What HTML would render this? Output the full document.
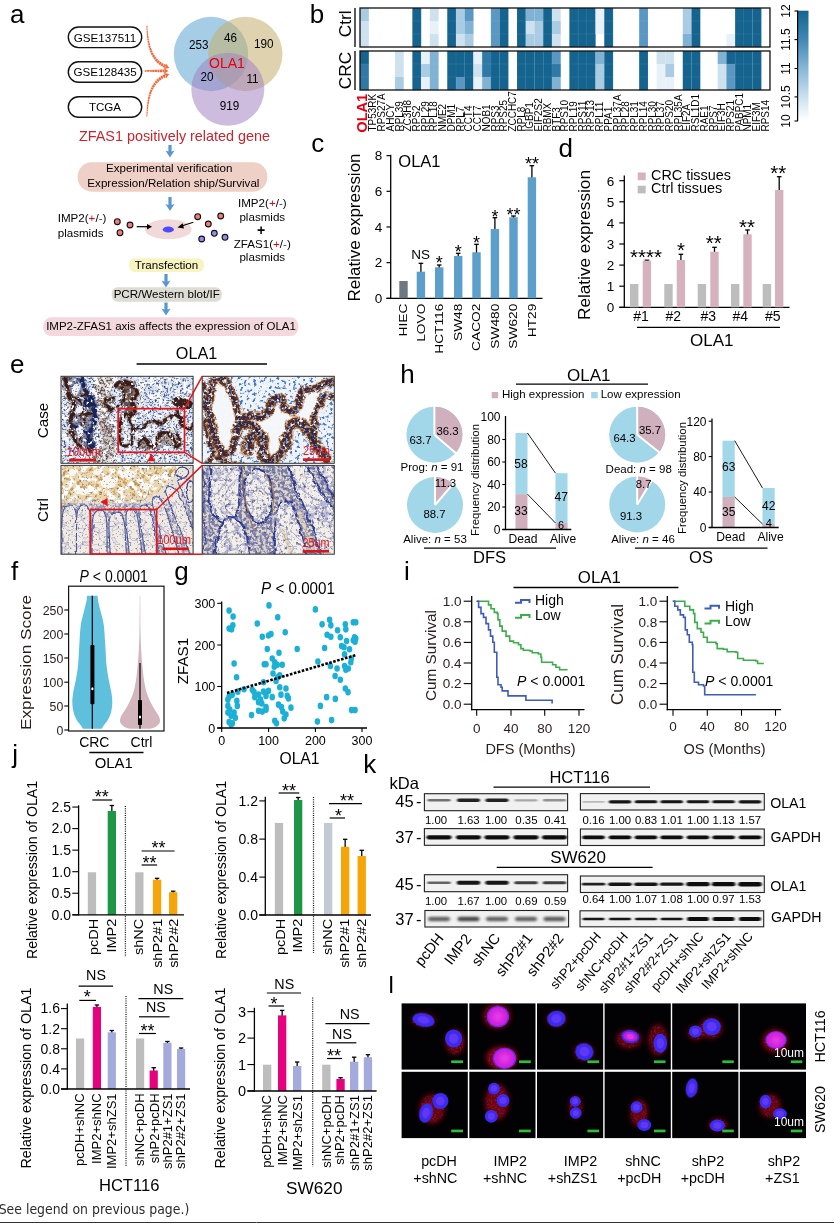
<!DOCTYPE html>
<html lang="en"><head><meta charset="utf-8"><title>Figure</title>
<style>
html,body{margin:0;padding:0;background:#fff;}
body{width:834px;height:1230px;overflow:hidden;}
svg{display:block;}
svg text{font-family:"Liberation Sans", Arial, sans-serif;}
</style></head><body>
<svg width="834" height="1230" viewBox="0 0 834 1230">
<rect width="834" height="1230" fill="#fff"/>
<g opacity="0.999">
<!-- panel a -->
<text x="9.90" y="23.00" font-size="26">a</text>
<rect x="68.30" y="27.00" width="73.40" height="20.60" fill="#fff" stroke="#111" stroke-width="1.4" rx="10.3" />
<text x="105.00" y="41.50" font-size="11.6" text-anchor="middle">GSE137511</text>
<rect x="68.30" y="61.70" width="73.40" height="20.60" fill="#fff" stroke="#111" stroke-width="1.4" rx="10.3" />
<text x="105.00" y="76.20" font-size="11.6" text-anchor="middle">GSE128435</text>
<rect x="68.30" y="96.70" width="73.40" height="20.60" fill="#fff" stroke="#111" stroke-width="1.4" rx="10.3" />
<text x="105.00" y="111.20" font-size="11.6" text-anchor="middle">TCGA</text>
<path d="M146.40 25.31 L146.46 28.23 L146.58 31.04 L146.74 33.73 L146.96 36.32 L147.24 38.80 L147.57 41.18 L147.96 43.45 L148.41 45.63 L148.93 47.72 L149.51 49.71 L150.16 51.60 L150.88 53.41 L151.67 55.13 L152.53 56.76 L153.48 58.30 L154.50 59.76 L155.60 61.13 L156.79 62.42 L158.06 63.63 L159.41 64.75 L160.85 65.78 L162.37 66.73 L163.98 67.59 L165.67 68.38 L166.93 65.22 L165.38 64.60 L163.90 63.92 L162.50 63.16 L161.17 62.32 L159.92 61.40 L158.72 60.40 L157.60 59.32 L156.53 58.14 L155.53 56.88 L154.58 55.51 L153.70 54.05 L152.87 52.49 L152.11 50.83 L151.40 49.06 L150.75 47.18 L150.16 45.20 L149.62 43.10 L149.14 40.90 L148.72 38.58 L148.35 36.15 L148.04 33.61 L147.77 30.95 L147.56 28.18 L147.40 25.29 Z" fill="#F26A3C" />
<path d="M146.9 25.3 C147.6 49 153 61.5 166.3 66.8" fill="none" stroke="#fff" stroke-width="4.5" stroke-dasharray="0.42 2.1"/>
<path d="M169.27 67.98 L163.80 69.03 L166.11 66.73 L166.02 63.46 Z" fill="#F26A3C" />
<path d="M147.40 117.01 L147.56 114.09 L147.77 111.28 L148.04 108.59 L148.35 106.02 L148.72 103.57 L149.14 101.23 L149.62 99.00 L150.16 96.89 L150.75 94.89 L151.40 93.00 L152.11 91.22 L152.88 89.54 L153.70 87.97 L154.59 86.51 L155.53 85.14 L156.53 83.87 L157.60 82.69 L158.73 81.60 L159.92 80.60 L161.18 79.68 L162.50 78.84 L163.90 78.08 L165.38 77.40 L166.93 76.78 L165.67 73.62 L163.98 74.41 L162.37 75.27 L160.85 76.22 L159.41 77.26 L158.06 78.38 L156.79 79.58 L155.60 80.87 L154.50 82.25 L153.47 83.72 L152.53 85.27 L151.67 86.90 L150.87 88.63 L150.16 90.45 L149.51 92.36 L148.93 94.36 L148.41 96.46 L147.96 98.65 L147.57 100.95 L147.24 103.35 L146.96 105.86 L146.74 108.47 L146.58 111.20 L146.46 114.03 L146.40 116.99 Z" fill="#F26A3C" />
<path d="M146.9 117 C147.6 93 153 80.5 166.3 75.2" fill="none" stroke="#fff" stroke-width="4.5" stroke-dasharray="0.42 2.1"/>
<path d="M169.27 74.02 L166.02 78.54 L166.11 75.27 L163.80 72.97 Z" fill="#F26A3C" />
<path d="M144.40 71.60 L145.11 71.63 L145.85 71.67 L146.61 71.70 L147.39 71.73 L148.18 71.77 L149.00 71.80 L149.83 71.83 L150.68 71.87 L151.54 71.90 L152.42 71.93 L153.30 71.97 L154.20 72.00 L155.10 72.03 L156.01 72.07 L156.93 72.10 L157.85 72.13 L158.78 72.17 L159.70 72.20 L160.62 72.23 L161.55 72.27 L162.47 72.30 L163.39 72.33 L164.30 72.37 L165.20 72.40 L165.20 69.40 L164.30 69.43 L163.39 69.47 L162.47 69.50 L161.55 69.53 L160.62 69.57 L159.70 69.60 L158.78 69.63 L157.85 69.67 L156.93 69.70 L156.01 69.73 L155.10 69.77 L154.20 69.80 L153.30 69.83 L152.42 69.87 L151.54 69.90 L150.68 69.93 L149.83 69.97 L149.00 70.00 L148.18 70.03 L147.39 70.07 L146.61 70.10 L145.85 70.13 L145.11 70.17 L144.40 70.20 Z" fill="#F26A3C" />
<path d="M144.4 70.9 C150 70.9 158 70.9 165.2 70.9" fill="none" stroke="#fff" stroke-width="4.5" stroke-dasharray="0.42 2.1"/>
<path d="M168.40 70.90 L163.70 73.90 L165.00 70.90 L163.70 67.90 Z" fill="#F26A3C" />
<g>
<circle cx="211.00" cy="54.00" r="37.20" fill="#5EA5D0" fill-opacity="0.56"/>
<circle cx="245.30" cy="54.00" r="37.20" fill="#C6B070" fill-opacity="0.56"/>
<circle cx="227.80" cy="89.30" r="36.50" fill="#A07FBF" fill-opacity="0.52"/>
</g>
<text font-size="13" transform="translate(198.70 48.70) scale(0.9 1)" text-anchor="middle">253</text>
<text font-size="13" transform="translate(230.50 41.70) scale(0.9 1)" text-anchor="middle">46</text>
<text font-size="13" transform="translate(263.70 48.00) scale(0.9 1)" text-anchor="middle">190</text>
<text x="227.00" y="68.00" font-size="14" text-anchor="middle" fill="#E60012">OLA1</text>
<text font-size="13" transform="translate(207.00 81.00) scale(0.9 1)" text-anchor="middle">20</text>
<text font-size="13" transform="translate(252.50 82.50) scale(0.9 1)" text-anchor="middle">11</text>
<text font-size="13" transform="translate(229.50 110.00) scale(0.9 1)" text-anchor="middle">919</text>
<text x="174.50" y="140.70" font-size="14.4" text-anchor="middle" fill="#C9252D">ZFAS1 positively related gene</text>
<path d="M168.4 145 L171.6 145 L171.6 151.5 L174.6 150.5 L170 157.5 L165.4 150.5 L168.4 151.5 Z" fill="#5B97CF" />
<rect x="77.70" y="162.30" width="189.60" height="29.40" fill="#EFD0C6" rx="14" />
<text x="169.20" y="171.90" font-size="11.6" text-anchor="middle">Experimental verification</text>
<text x="173.40" y="186.80" font-size="11.6" text-anchor="middle">Expression/Relation ship/Survival</text>
<path d="M168.4 197 L171.6 197 L171.6 205 L174.6 204 L170 211 L165.4 204 L168.4 205 Z" fill="#5B97CF" />
<text x="57.70" y="222.00" font-size="11.6">IMP2(<tspan fill="#E60012">+</tspan>/<tspan fill="#2233DD">-</tspan>)</text>
<text x="57.70" y="236.70" font-size="11.6">plasmids</text>
<circle cx="117.30" cy="221.70" r="2.90" fill="#F07C7C" stroke="#111" stroke-width="1.1" />
<circle cx="130.00" cy="225.00" r="2.90" fill="#F07C7C" stroke="#111" stroke-width="1.1" />
<circle cx="120.00" cy="232.70" r="2.90" fill="#F07C7C" stroke="#111" stroke-width="1.1" />
<ellipse cx="168.30" cy="229.30" rx="23.30" ry="10.00" fill="#F1D8D9" />
<line x1="136.70" y1="226.70" x2="149.00" y2="226.70" stroke="#000" stroke-width="1.2" />
<path d="M147 224 L152 226.7 L147 229.4 Z" fill="#000" />
<ellipse cx="168.30" cy="229.50" rx="5.60" ry="3.00" fill="#4B4BFA" />
<line x1="193.30" y1="222.30" x2="181.50" y2="226.00" stroke="#000" stroke-width="1.2" />
<path d="M182.6 223.2 L177.5 227.4 L184.0 228.4 Z" fill="#000" />
<circle cx="197.70" cy="216.70" r="2.90" fill="#F07C7C" stroke="#111" stroke-width="1.1" />
<circle cx="220.70" cy="216.00" r="2.90" fill="#F07C7C" stroke="#111" stroke-width="1.1" />
<circle cx="208.30" cy="224.00" r="2.90" fill="#F07C7C" stroke="#111" stroke-width="1.1" />
<circle cx="201.70" cy="239.00" r="2.90" fill="#8F8FE8" stroke="#111" stroke-width="1.1" />
<circle cx="214.30" cy="233.30" r="2.90" fill="#8F8FE8" stroke="#111" stroke-width="1.1" />
<circle cx="225.00" cy="237.30" r="2.90" fill="#8F8FE8" stroke="#111" stroke-width="1.1" />
<text x="262.30" y="207.30" font-size="11.6" text-anchor="middle">IMP2(<tspan fill="#E60012">+</tspan>/<tspan fill="#2233DD">-</tspan>)</text>
<text x="262.30" y="221.00" font-size="11.6" text-anchor="middle">plasmids</text>
<text x="261.00" y="234.50" font-size="14" text-anchor="middle" font-weight="bold">+</text>
<text x="262.30" y="247.70" font-size="11.6" text-anchor="middle">ZFAS1(<tspan fill="#E60012">+</tspan>/<tspan fill="#2233DD">-</tspan>)</text>
<text x="262.30" y="260.70" font-size="11.6" text-anchor="middle">plasmids</text>
<rect x="129.00" y="258.30" width="75.00" height="13.60" fill="#F7F4C2" rx="6" />
<text x="166.50" y="268.60" font-size="11.6" text-anchor="middle">Transfection</text>
<path d="M164.4 274 L167.6 274 L167.6 281.5 L170.6 280.5 L166 287.5 L161.4 280.5 L164.4 281.5 Z" fill="#5B97CF" />
<rect x="111.70" y="287.30" width="110.00" height="14.40" fill="#DDDDD5" rx="6" />
<text x="166.70" y="297.90" font-size="11.6" text-anchor="middle">PCR/Western blot/IF</text>
<path d="M164.4 302.5 L167.6 302.5 L167.6 309.5 L170.6 308.5 L166 315.5 L161.4 308.5 L164.4 309.5 Z" fill="#5B97CF" />
<rect x="43.30" y="317.30" width="255.00" height="18.70" fill="#F3D9DD" rx="8" />
<text x="171.00" y="329.60" font-size="11.5" text-anchor="middle">IMP2-ZFAS1 axis affects the expression of OLA1</text>
<!-- panel b -->
<text x="309.80" y="22.70" font-size="26">b</text>
<rect x="360.00" y="8.00" width="8.87" height="13.15" fill="#A9CCE3" />
<rect x="360.00" y="21.00" width="8.87" height="13.15" fill="#CDE1EF" />
<rect x="360.00" y="34.00" width="8.87" height="13.15" fill="#CDE1EF" />
<rect x="360.00" y="51.00" width="8.87" height="13.15" fill="#15648F" />
<rect x="360.00" y="64.00" width="8.87" height="13.15" fill="#2F79A8" />
<rect x="360.00" y="77.00" width="8.87" height="13.15" fill="#2F79A8" />
<rect x="394.89" y="51.00" width="8.87" height="13.15" fill="#CDE1EF" />
<rect x="394.89" y="64.00" width="8.87" height="13.15" fill="#CDE1EF" />
<rect x="394.89" y="77.00" width="8.87" height="13.15" fill="#A9CCE3" />
<rect x="412.34" y="8.00" width="8.87" height="13.15" fill="#15648F" />
<rect x="412.34" y="21.00" width="8.87" height="13.15" fill="#15648F" />
<rect x="412.34" y="34.00" width="8.87" height="13.15" fill="#15648F" />
<rect x="412.34" y="51.00" width="8.87" height="13.15" fill="#15648F" />
<rect x="412.34" y="64.00" width="8.87" height="13.15" fill="#15648F" />
<rect x="412.34" y="77.00" width="8.87" height="13.15" fill="#15648F" />
<rect x="421.06" y="51.00" width="8.87" height="13.15" fill="#E8F1F8" />
<rect x="421.06" y="64.00" width="8.87" height="13.15" fill="#A9CCE3" />
<rect x="421.06" y="77.00" width="8.87" height="13.15" fill="#E8F1F8" />
<rect x="429.78" y="8.00" width="8.87" height="13.15" fill="#CDE1EF" />
<rect x="429.78" y="21.00" width="8.87" height="13.15" fill="#E8F1F8" />
<rect x="429.78" y="34.00" width="8.87" height="13.15" fill="#CDE1EF" />
<rect x="429.78" y="51.00" width="8.87" height="13.15" fill="#80B2D4" />
<rect x="429.78" y="64.00" width="8.87" height="13.15" fill="#80B2D4" />
<rect x="429.78" y="77.00" width="8.87" height="13.15" fill="#80B2D4" />
<rect x="447.23" y="8.00" width="8.87" height="13.15" fill="#15648F" />
<rect x="447.23" y="21.00" width="8.87" height="13.15" fill="#15648F" />
<rect x="447.23" y="34.00" width="8.87" height="13.15" fill="#15648F" />
<rect x="447.23" y="51.00" width="8.87" height="13.15" fill="#15648F" />
<rect x="447.23" y="64.00" width="8.87" height="13.15" fill="#15648F" />
<rect x="447.23" y="77.00" width="8.87" height="13.15" fill="#15648F" />
<rect x="455.95" y="8.00" width="8.87" height="13.15" fill="#A9CCE3" />
<rect x="455.95" y="21.00" width="8.87" height="13.15" fill="#A9CCE3" />
<rect x="455.95" y="34.00" width="8.87" height="13.15" fill="#CDE1EF" />
<rect x="455.95" y="51.00" width="8.87" height="13.15" fill="#15648F" />
<rect x="455.95" y="64.00" width="8.87" height="13.15" fill="#15648F" />
<rect x="455.95" y="77.00" width="8.87" height="13.15" fill="#5A98C3" />
<rect x="464.68" y="8.00" width="8.87" height="13.15" fill="#5A98C3" />
<rect x="464.68" y="21.00" width="8.87" height="13.15" fill="#80B2D4" />
<rect x="464.68" y="34.00" width="8.87" height="13.15" fill="#A9CCE3" />
<rect x="464.68" y="51.00" width="8.87" height="13.15" fill="#15648F" />
<rect x="464.68" y="64.00" width="8.87" height="13.15" fill="#15648F" />
<rect x="464.68" y="77.00" width="8.87" height="13.15" fill="#15648F" />
<rect x="473.40" y="51.00" width="8.87" height="13.15" fill="#E8F1F8" />
<rect x="473.40" y="64.00" width="8.87" height="13.15" fill="#CDE1EF" />
<rect x="473.40" y="77.00" width="8.87" height="13.15" fill="#E8F1F8" />
<rect x="482.12" y="51.00" width="8.87" height="13.15" fill="#2F79A8" />
<rect x="482.12" y="64.00" width="8.87" height="13.15" fill="#2F79A8" />
<rect x="482.12" y="77.00" width="8.87" height="13.15" fill="#80B2D4" />
<rect x="490.85" y="8.00" width="8.87" height="13.15" fill="#5A98C3" />
<rect x="490.85" y="21.00" width="8.87" height="13.15" fill="#5A98C3" />
<rect x="490.85" y="34.00" width="8.87" height="13.15" fill="#5A98C3" />
<rect x="490.85" y="51.00" width="8.87" height="13.15" fill="#15648F" />
<rect x="490.85" y="64.00" width="8.87" height="13.15" fill="#15648F" />
<rect x="490.85" y="77.00" width="8.87" height="13.15" fill="#15648F" />
<rect x="499.57" y="8.00" width="8.87" height="13.15" fill="#15648F" />
<rect x="499.57" y="21.00" width="8.87" height="13.15" fill="#15648F" />
<rect x="499.57" y="34.00" width="8.87" height="13.15" fill="#15648F" />
<rect x="499.57" y="51.00" width="8.87" height="13.15" fill="#15648F" />
<rect x="499.57" y="64.00" width="8.87" height="13.15" fill="#15648F" />
<rect x="499.57" y="77.00" width="8.87" height="13.15" fill="#15648F" />
<rect x="517.01" y="8.00" width="8.87" height="13.15" fill="#15648F" />
<rect x="517.01" y="21.00" width="8.87" height="13.15" fill="#15648F" />
<rect x="517.01" y="34.00" width="8.87" height="13.15" fill="#15648F" />
<rect x="517.01" y="51.00" width="8.87" height="13.15" fill="#15648F" />
<rect x="517.01" y="64.00" width="8.87" height="13.15" fill="#15648F" />
<rect x="517.01" y="77.00" width="8.87" height="13.15" fill="#15648F" />
<rect x="525.74" y="8.00" width="8.87" height="13.15" fill="#80B2D4" />
<rect x="525.74" y="21.00" width="8.87" height="13.15" fill="#CDE1EF" />
<rect x="525.74" y="34.00" width="8.87" height="13.15" fill="#A9CCE3" />
<rect x="525.74" y="51.00" width="8.87" height="13.15" fill="#15648F" />
<rect x="525.74" y="64.00" width="8.87" height="13.15" fill="#15648F" />
<rect x="525.74" y="77.00" width="8.87" height="13.15" fill="#15648F" />
<rect x="534.46" y="8.00" width="8.87" height="13.15" fill="#80B2D4" />
<rect x="534.46" y="21.00" width="8.87" height="13.15" fill="#A9CCE3" />
<rect x="534.46" y="34.00" width="8.87" height="13.15" fill="#A9CCE3" />
<rect x="534.46" y="51.00" width="8.87" height="13.15" fill="#15648F" />
<rect x="534.46" y="64.00" width="8.87" height="13.15" fill="#15648F" />
<rect x="534.46" y="77.00" width="8.87" height="13.15" fill="#15648F" />
<rect x="543.18" y="8.00" width="8.87" height="13.15" fill="#15648F" />
<rect x="543.18" y="21.00" width="8.87" height="13.15" fill="#15648F" />
<rect x="543.18" y="34.00" width="8.87" height="13.15" fill="#15648F" />
<rect x="543.18" y="51.00" width="8.87" height="13.15" fill="#15648F" />
<rect x="543.18" y="64.00" width="8.87" height="13.15" fill="#15648F" />
<rect x="543.18" y="77.00" width="8.87" height="13.15" fill="#15648F" />
<rect x="551.91" y="8.00" width="8.87" height="13.15" fill="#CDE1EF" />
<rect x="551.91" y="21.00" width="8.87" height="13.15" fill="#A9CCE3" />
<rect x="551.91" y="34.00" width="8.87" height="13.15" fill="#CDE1EF" />
<rect x="551.91" y="51.00" width="8.87" height="13.15" fill="#5A98C3" />
<rect x="551.91" y="64.00" width="8.87" height="13.15" fill="#2F79A8" />
<rect x="551.91" y="77.00" width="8.87" height="13.15" fill="#80B2D4" />
<rect x="569.35" y="8.00" width="8.87" height="13.15" fill="#15648F" />
<rect x="569.35" y="21.00" width="8.87" height="13.15" fill="#15648F" />
<rect x="569.35" y="34.00" width="8.87" height="13.15" fill="#15648F" />
<rect x="569.35" y="51.00" width="8.87" height="13.15" fill="#15648F" />
<rect x="569.35" y="64.00" width="8.87" height="13.15" fill="#15648F" />
<rect x="569.35" y="77.00" width="8.87" height="13.15" fill="#15648F" />
<rect x="578.08" y="8.00" width="8.87" height="13.15" fill="#15648F" />
<rect x="578.08" y="21.00" width="8.87" height="13.15" fill="#15648F" />
<rect x="578.08" y="34.00" width="8.87" height="13.15" fill="#15648F" />
<rect x="578.08" y="51.00" width="8.87" height="13.15" fill="#15648F" />
<rect x="578.08" y="64.00" width="8.87" height="13.15" fill="#15648F" />
<rect x="578.08" y="77.00" width="8.87" height="13.15" fill="#15648F" />
<rect x="586.80" y="8.00" width="8.87" height="13.15" fill="#15648F" />
<rect x="586.80" y="21.00" width="8.87" height="13.15" fill="#15648F" />
<rect x="586.80" y="34.00" width="8.87" height="13.15" fill="#15648F" />
<rect x="586.80" y="51.00" width="8.87" height="13.15" fill="#15648F" />
<rect x="586.80" y="64.00" width="8.87" height="13.15" fill="#15648F" />
<rect x="586.80" y="77.00" width="8.87" height="13.15" fill="#15648F" />
<rect x="595.52" y="8.00" width="8.87" height="13.15" fill="#E8F1F8" />
<rect x="595.52" y="21.00" width="8.87" height="13.15" fill="#E8F1F8" />
<rect x="595.52" y="51.00" width="8.87" height="13.15" fill="#80B2D4" />
<rect x="595.52" y="64.00" width="8.87" height="13.15" fill="#A9CCE3" />
<rect x="595.52" y="77.00" width="8.87" height="13.15" fill="#A9CCE3" />
<rect x="604.24" y="8.00" width="8.87" height="13.15" fill="#15648F" />
<rect x="604.24" y="21.00" width="8.87" height="13.15" fill="#15648F" />
<rect x="604.24" y="34.00" width="8.87" height="13.15" fill="#15648F" />
<rect x="604.24" y="51.00" width="8.87" height="13.15" fill="#15648F" />
<rect x="604.24" y="64.00" width="8.87" height="13.15" fill="#15648F" />
<rect x="604.24" y="77.00" width="8.87" height="13.15" fill="#15648F" />
<rect x="639.14" y="8.00" width="8.87" height="13.15" fill="#5A98C3" />
<rect x="639.14" y="21.00" width="8.87" height="13.15" fill="#5A98C3" />
<rect x="639.14" y="34.00" width="8.87" height="13.15" fill="#5A98C3" />
<rect x="639.14" y="51.00" width="8.87" height="13.15" fill="#15648F" />
<rect x="639.14" y="64.00" width="8.87" height="13.15" fill="#15648F" />
<rect x="639.14" y="77.00" width="8.87" height="13.15" fill="#15648F" />
<rect x="656.58" y="51.00" width="8.87" height="13.15" fill="#CDE1EF" />
<rect x="656.58" y="64.00" width="8.87" height="13.15" fill="#E8F1F8" />
<rect x="656.58" y="77.00" width="8.87" height="13.15" fill="#E8F1F8" />
<rect x="665.31" y="51.00" width="8.87" height="13.15" fill="#CDE1EF" />
<rect x="665.31" y="64.00" width="8.87" height="13.15" fill="#A9CCE3" />
<rect x="665.31" y="77.00" width="8.87" height="13.15" fill="#E8F1F8" />
<rect x="682.75" y="8.00" width="8.87" height="13.15" fill="#A9CCE3" />
<rect x="682.75" y="21.00" width="8.87" height="13.15" fill="#A9CCE3" />
<rect x="682.75" y="34.00" width="8.87" height="13.15" fill="#80B2D4" />
<rect x="682.75" y="51.00" width="8.87" height="13.15" fill="#15648F" />
<rect x="682.75" y="64.00" width="8.87" height="13.15" fill="#15648F" />
<rect x="682.75" y="77.00" width="8.87" height="13.15" fill="#15648F" />
<rect x="691.47" y="8.00" width="8.87" height="13.15" fill="#15648F" />
<rect x="691.47" y="21.00" width="8.87" height="13.15" fill="#15648F" />
<rect x="691.47" y="34.00" width="8.87" height="13.15" fill="#15648F" />
<rect x="691.47" y="51.00" width="8.87" height="13.15" fill="#15648F" />
<rect x="691.47" y="64.00" width="8.87" height="13.15" fill="#15648F" />
<rect x="691.47" y="77.00" width="8.87" height="13.15" fill="#15648F" />
<rect x="717.64" y="51.00" width="8.87" height="13.15" fill="#80B2D4" />
<rect x="717.64" y="64.00" width="8.87" height="13.15" fill="#CDE1EF" />
<rect x="717.64" y="77.00" width="8.87" height="13.15" fill="#CDE1EF" />
<rect x="726.37" y="34.00" width="8.87" height="13.15" fill="#E8F1F8" />
<rect x="726.37" y="51.00" width="8.87" height="13.15" fill="#15648F" />
<rect x="726.37" y="64.00" width="8.87" height="13.15" fill="#5A98C3" />
<rect x="726.37" y="77.00" width="8.87" height="13.15" fill="#5A98C3" />
<rect x="735.09" y="8.00" width="8.87" height="13.15" fill="#15648F" />
<rect x="735.09" y="21.00" width="8.87" height="13.15" fill="#15648F" />
<rect x="735.09" y="34.00" width="8.87" height="13.15" fill="#15648F" />
<rect x="735.09" y="51.00" width="8.87" height="13.15" fill="#15648F" />
<rect x="735.09" y="64.00" width="8.87" height="13.15" fill="#15648F" />
<rect x="735.09" y="77.00" width="8.87" height="13.15" fill="#15648F" />
<rect x="743.81" y="8.00" width="8.87" height="13.15" fill="#15648F" />
<rect x="743.81" y="21.00" width="8.87" height="13.15" fill="#15648F" />
<rect x="743.81" y="34.00" width="8.87" height="13.15" fill="#15648F" />
<rect x="743.81" y="51.00" width="8.87" height="13.15" fill="#15648F" />
<rect x="743.81" y="64.00" width="8.87" height="13.15" fill="#15648F" />
<rect x="743.81" y="77.00" width="8.87" height="13.15" fill="#15648F" />
<rect x="752.54" y="8.00" width="8.87" height="13.15" fill="#15648F" />
<rect x="752.54" y="21.00" width="8.87" height="13.15" fill="#15648F" />
<rect x="752.54" y="34.00" width="8.87" height="13.15" fill="#15648F" />
<rect x="752.54" y="51.00" width="8.87" height="13.15" fill="#15648F" />
<rect x="752.54" y="64.00" width="8.87" height="13.15" fill="#15648F" />
<rect x="752.54" y="77.00" width="8.87" height="13.15" fill="#15648F" />
<line x1="368.72" y1="8.00" x2="368.72" y2="90.00" stroke="#fff" stroke-width="0.35" opacity="0.16"/>
<line x1="377.45" y1="8.00" x2="377.45" y2="90.00" stroke="#fff" stroke-width="0.35" opacity="0.16"/>
<line x1="386.17" y1="8.00" x2="386.17" y2="90.00" stroke="#fff" stroke-width="0.35" opacity="0.16"/>
<line x1="394.89" y1="8.00" x2="394.89" y2="90.00" stroke="#fff" stroke-width="0.35" opacity="0.16"/>
<line x1="403.62" y1="8.00" x2="403.62" y2="90.00" stroke="#fff" stroke-width="0.35" opacity="0.16"/>
<line x1="412.34" y1="8.00" x2="412.34" y2="90.00" stroke="#fff" stroke-width="0.35" opacity="0.16"/>
<line x1="421.06" y1="8.00" x2="421.06" y2="90.00" stroke="#fff" stroke-width="0.35" opacity="0.16"/>
<line x1="429.78" y1="8.00" x2="429.78" y2="90.00" stroke="#fff" stroke-width="0.35" opacity="0.16"/>
<line x1="438.51" y1="8.00" x2="438.51" y2="90.00" stroke="#fff" stroke-width="0.35" opacity="0.16"/>
<line x1="447.23" y1="8.00" x2="447.23" y2="90.00" stroke="#fff" stroke-width="0.35" opacity="0.16"/>
<line x1="455.95" y1="8.00" x2="455.95" y2="90.00" stroke="#fff" stroke-width="0.35" opacity="0.16"/>
<line x1="464.68" y1="8.00" x2="464.68" y2="90.00" stroke="#fff" stroke-width="0.35" opacity="0.16"/>
<line x1="473.40" y1="8.00" x2="473.40" y2="90.00" stroke="#fff" stroke-width="0.35" opacity="0.16"/>
<line x1="482.12" y1="8.00" x2="482.12" y2="90.00" stroke="#fff" stroke-width="0.35" opacity="0.16"/>
<line x1="490.85" y1="8.00" x2="490.85" y2="90.00" stroke="#fff" stroke-width="0.35" opacity="0.16"/>
<line x1="499.57" y1="8.00" x2="499.57" y2="90.00" stroke="#fff" stroke-width="0.35" opacity="0.16"/>
<line x1="508.29" y1="8.00" x2="508.29" y2="90.00" stroke="#fff" stroke-width="0.35" opacity="0.16"/>
<line x1="517.01" y1="8.00" x2="517.01" y2="90.00" stroke="#fff" stroke-width="0.35" opacity="0.16"/>
<line x1="525.74" y1="8.00" x2="525.74" y2="90.00" stroke="#fff" stroke-width="0.35" opacity="0.16"/>
<line x1="534.46" y1="8.00" x2="534.46" y2="90.00" stroke="#fff" stroke-width="0.35" opacity="0.16"/>
<line x1="543.18" y1="8.00" x2="543.18" y2="90.00" stroke="#fff" stroke-width="0.35" opacity="0.16"/>
<line x1="551.91" y1="8.00" x2="551.91" y2="90.00" stroke="#fff" stroke-width="0.35" opacity="0.16"/>
<line x1="560.63" y1="8.00" x2="560.63" y2="90.00" stroke="#fff" stroke-width="0.35" opacity="0.16"/>
<line x1="569.35" y1="8.00" x2="569.35" y2="90.00" stroke="#fff" stroke-width="0.35" opacity="0.16"/>
<line x1="578.08" y1="8.00" x2="578.08" y2="90.00" stroke="#fff" stroke-width="0.35" opacity="0.16"/>
<line x1="586.80" y1="8.00" x2="586.80" y2="90.00" stroke="#fff" stroke-width="0.35" opacity="0.16"/>
<line x1="595.52" y1="8.00" x2="595.52" y2="90.00" stroke="#fff" stroke-width="0.35" opacity="0.16"/>
<line x1="604.24" y1="8.00" x2="604.24" y2="90.00" stroke="#fff" stroke-width="0.35" opacity="0.16"/>
<line x1="612.97" y1="8.00" x2="612.97" y2="90.00" stroke="#fff" stroke-width="0.35" opacity="0.16"/>
<line x1="621.69" y1="8.00" x2="621.69" y2="90.00" stroke="#fff" stroke-width="0.35" opacity="0.16"/>
<line x1="630.41" y1="8.00" x2="630.41" y2="90.00" stroke="#fff" stroke-width="0.35" opacity="0.16"/>
<line x1="639.14" y1="8.00" x2="639.14" y2="90.00" stroke="#fff" stroke-width="0.35" opacity="0.16"/>
<line x1="647.86" y1="8.00" x2="647.86" y2="90.00" stroke="#fff" stroke-width="0.35" opacity="0.16"/>
<line x1="656.58" y1="8.00" x2="656.58" y2="90.00" stroke="#fff" stroke-width="0.35" opacity="0.16"/>
<line x1="665.31" y1="8.00" x2="665.31" y2="90.00" stroke="#fff" stroke-width="0.35" opacity="0.16"/>
<line x1="674.03" y1="8.00" x2="674.03" y2="90.00" stroke="#fff" stroke-width="0.35" opacity="0.16"/>
<line x1="682.75" y1="8.00" x2="682.75" y2="90.00" stroke="#fff" stroke-width="0.35" opacity="0.16"/>
<line x1="691.47" y1="8.00" x2="691.47" y2="90.00" stroke="#fff" stroke-width="0.35" opacity="0.16"/>
<line x1="700.20" y1="8.00" x2="700.20" y2="90.00" stroke="#fff" stroke-width="0.35" opacity="0.16"/>
<line x1="708.92" y1="8.00" x2="708.92" y2="90.00" stroke="#fff" stroke-width="0.35" opacity="0.16"/>
<line x1="717.64" y1="8.00" x2="717.64" y2="90.00" stroke="#fff" stroke-width="0.35" opacity="0.16"/>
<line x1="726.37" y1="8.00" x2="726.37" y2="90.00" stroke="#fff" stroke-width="0.35" opacity="0.16"/>
<line x1="735.09" y1="8.00" x2="735.09" y2="90.00" stroke="#fff" stroke-width="0.35" opacity="0.16"/>
<line x1="743.81" y1="8.00" x2="743.81" y2="90.00" stroke="#fff" stroke-width="0.35" opacity="0.16"/>
<line x1="752.54" y1="8.00" x2="752.54" y2="90.00" stroke="#fff" stroke-width="0.35" opacity="0.16"/>
<line x1="761.26" y1="8.00" x2="761.26" y2="90.00" stroke="#fff" stroke-width="0.35" opacity="0.16"/>
<line x1="360.00" y1="21.00" x2="769.98" y2="21.00" stroke="#fff" stroke-width="0.35" opacity="0.16"/>
<line x1="360.00" y1="34.00" x2="769.98" y2="34.00" stroke="#fff" stroke-width="0.35" opacity="0.16"/>
<line x1="360.00" y1="64.00" x2="769.98" y2="64.00" stroke="#fff" stroke-width="0.35" opacity="0.16"/>
<line x1="360.00" y1="77.00" x2="769.98" y2="77.00" stroke="#fff" stroke-width="0.35" opacity="0.16"/>
<rect x="360.00" y="8.00" width="409.98" height="39.00" fill="none" stroke="#111" stroke-width="1.3" />
<rect x="360.00" y="51.00" width="409.98" height="39.00" fill="none" stroke="#111" stroke-width="1.3" />
<line x1="355.00" y1="8.00" x2="355.00" y2="47.00" stroke="#000" stroke-width="1.3" />
<line x1="355.00" y1="51.00" x2="355.00" y2="90.00" stroke="#000" stroke-width="1.3" />
<text x="351.00" y="23.90" font-size="17.2" transform="rotate(-90 351.00 23.90)" text-anchor="middle">Ctrl</text>
<text x="351.00" y="70.50" font-size="17.2" transform="rotate(-90 351.00 70.50)" text-anchor="middle">CRC</text>
<text x="367.30" y="93.80" font-size="14.6" transform="rotate(-90 367.30 93.80)" text-anchor="end" fill="#E60012" font-weight="bold">OLA1</text>
<text font-size="10.6" transform="translate(376.38 131.50) rotate(-90) scale(0.94 1)">TP53RK</text>
<text font-size="10.6" transform="translate(385.11 131.50) rotate(-90) scale(0.94 1)">RPS27A</text>
<text font-size="10.6" transform="translate(393.83 131.50) rotate(-90) scale(0.94 1)">AHCY</text>
<text font-size="10.6" transform="translate(402.55 131.50) rotate(-90) scale(0.94 1)">RPL39</text>
<text font-size="10.6" transform="translate(411.28 131.50) rotate(-90) scale(0.94 1)">ZC3H8</text>
<text font-size="10.6" transform="translate(420.00 131.50) rotate(-90) scale(0.94 1)">RPS2</text>
<text font-size="10.6" transform="translate(428.72 131.50) rotate(-90) scale(0.94 1)">RPL29</text>
<text font-size="10.6" transform="translate(437.45 131.50) rotate(-90) scale(0.94 1)">RPL18</text>
<text font-size="10.6" transform="translate(446.17 131.50) rotate(-90) scale(0.94 1)">NME2</text>
<text font-size="10.6" transform="translate(454.89 131.50) rotate(-90) scale(0.94 1)">DPM1</text>
<text font-size="10.6" transform="translate(463.61 131.50) rotate(-90) scale(0.94 1)">RPL7</text>
<text font-size="10.6" transform="translate(472.34 131.50) rotate(-90) scale(0.94 1)">CCT4</text>
<text font-size="10.6" transform="translate(481.06 131.50) rotate(-90) scale(0.94 1)">CCT7</text>
<text font-size="10.6" transform="translate(489.78 131.50) rotate(-90) scale(0.94 1)">NOB1</text>
<text font-size="10.6" transform="translate(498.51 131.50) rotate(-90) scale(0.94 1)">RPS3</text>
<text font-size="10.6" transform="translate(507.23 131.50) rotate(-90) scale(0.94 1)">RPS25</text>
<text font-size="10.6" transform="translate(515.95 131.50) rotate(-90) scale(0.94 1)">ZCCHC7</text>
<text font-size="10.6" transform="translate(524.68 131.50) rotate(-90) scale(0.94 1)">RPL8</text>
<text font-size="10.6" transform="translate(533.40 131.50) rotate(-90) scale(0.94 1)">IGBP1</text>
<text font-size="10.6" transform="translate(542.12 131.50) rotate(-90) scale(0.94 1)">EIF2S2</text>
<text font-size="10.6" transform="translate(550.84 131.50) rotate(-90) scale(0.94 1)">RBMX</text>
<text font-size="10.6" transform="translate(559.57 131.50) rotate(-90) scale(0.94 1)">BTF3</text>
<text font-size="10.6" transform="translate(568.29 131.50) rotate(-90) scale(0.94 1)">RPS10</text>
<text font-size="10.6" transform="translate(577.01 131.50) rotate(-90) scale(0.94 1)">RPL19</text>
<text font-size="10.6" transform="translate(585.74 131.50) rotate(-90) scale(0.94 1)">RPS11</text>
<text font-size="10.6" transform="translate(594.46 131.50) rotate(-90) scale(0.94 1)">RPS13</text>
<text font-size="10.6" transform="translate(603.18 131.50) rotate(-90) scale(0.94 1)">RPL11</text>
<text font-size="10.6" transform="translate(611.91 131.50) rotate(-90) scale(0.94 1)">PPA1</text>
<text font-size="10.6" transform="translate(620.63 131.50) rotate(-90) scale(0.94 1)">RPL37A</text>
<text font-size="10.6" transform="translate(629.35 131.50) rotate(-90) scale(0.94 1)">RPL28</text>
<text font-size="10.6" transform="translate(638.07 131.50) rotate(-90) scale(0.94 1)">RPL31</text>
<text font-size="10.6" transform="translate(646.80 131.50) rotate(-90) scale(0.94 1)">RPL14</text>
<text font-size="10.6" transform="translate(655.52 131.50) rotate(-90) scale(0.94 1)">RPL30</text>
<text font-size="10.6" transform="translate(664.24 131.50) rotate(-90) scale(0.94 1)">RPL37</text>
<text font-size="10.6" transform="translate(672.97 131.50) rotate(-90) scale(0.94 1)">RPS20</text>
<text font-size="10.6" transform="translate(681.69 131.50) rotate(-90) scale(0.94 1)">RPL35A</text>
<text font-size="10.6" transform="translate(690.41 131.50) rotate(-90) scale(0.94 1)">EIF2A</text>
<text font-size="10.6" transform="translate(699.14 131.50) rotate(-90) scale(0.94 1)">RSL1D1</text>
<text font-size="10.6" transform="translate(707.86 131.50) rotate(-90) scale(0.94 1)">RAE1</text>
<text font-size="10.6" transform="translate(716.58 131.50) rotate(-90) scale(0.94 1)">RPS7</text>
<text font-size="10.6" transform="translate(725.30 131.50) rotate(-90) scale(0.94 1)">EIF3H</text>
<text font-size="10.6" transform="translate(734.03 131.50) rotate(-90) scale(0.94 1)">RPS21</text>
<text font-size="10.6" transform="translate(742.75 131.50) rotate(-90) scale(0.94 1)">PABPC1</text>
<text font-size="10.6" transform="translate(751.47 131.50) rotate(-90) scale(0.94 1)">NPM1</text>
<text font-size="10.6" transform="translate(760.20 131.50) rotate(-90) scale(0.94 1)">EIF3M</text>
<text font-size="10.6" transform="translate(768.92 131.50) rotate(-90) scale(0.94 1)">RPS14</text>
<defs><linearGradient id="cb" x1="0" y1="0" x2="0" y2="1"><stop offset="0" stop-color="#15648F"/><stop offset="0.25" stop-color="#3F86B3"/><stop offset="0.55" stop-color="#8DBBDA"/><stop offset="0.85" stop-color="#DCEAF4"/><stop offset="1" stop-color="#FFFFFF"/></linearGradient></defs>
<rect x="798.00" y="10.70" width="10.50" height="110.00" fill="url(#cb)" />
<line x1="797.60" y1="10.50" x2="797.60" y2="121.30" stroke="#000" stroke-width="1.2" />
<line x1="794.50" y1="11.00" x2="797.60" y2="11.00" stroke="#000" stroke-width="1.1" />
<text x="790.30" y="11.00" font-size="12" transform="rotate(-90 790.30 11.00)" text-anchor="middle">12</text>
<line x1="794.50" y1="39.60" x2="797.60" y2="39.60" stroke="#000" stroke-width="1.1" />
<text x="790.30" y="39.60" font-size="12" transform="rotate(-90 790.30 39.60)" text-anchor="middle">11.5</text>
<line x1="794.50" y1="68.50" x2="797.60" y2="68.50" stroke="#000" stroke-width="1.1" />
<text x="790.30" y="68.50" font-size="12" transform="rotate(-90 790.30 68.50)" text-anchor="middle">11</text>
<line x1="794.50" y1="96.90" x2="797.60" y2="96.90" stroke="#000" stroke-width="1.1" />
<text x="790.30" y="96.90" font-size="12" transform="rotate(-90 790.30 96.90)" text-anchor="middle">10.5</text>
<line x1="794.50" y1="121.00" x2="797.60" y2="121.00" stroke="#000" stroke-width="1.1" />
<text x="790.30" y="121.00" font-size="12" transform="rotate(-90 790.30 121.00)" text-anchor="middle">10</text>
<!-- panel c -->
<text x="311.30" y="152.00" font-size="26">c</text>
<line x1="390.70" y1="154.80" x2="390.70" y2="298.90" stroke="#000" stroke-width="1.3" />
<line x1="386.50" y1="298.30" x2="542.50" y2="298.30" stroke="#000" stroke-width="1.3" />
<line x1="386.50" y1="298.30" x2="390.70" y2="298.30" stroke="#000" stroke-width="1.2" />
<text x="382.30" y="303.10" font-size="13.5" text-anchor="end">0</text>
<line x1="386.50" y1="262.64" x2="390.70" y2="262.64" stroke="#000" stroke-width="1.2" />
<text x="382.30" y="267.44" font-size="13.5" text-anchor="end">2</text>
<line x1="386.50" y1="226.98" x2="390.70" y2="226.98" stroke="#000" stroke-width="1.2" />
<text x="382.30" y="231.78" font-size="13.5" text-anchor="end">4</text>
<line x1="386.50" y1="191.32" x2="390.70" y2="191.32" stroke="#000" stroke-width="1.2" />
<text x="382.30" y="196.12" font-size="13.5" text-anchor="end">6</text>
<line x1="386.50" y1="155.66" x2="390.70" y2="155.66" stroke="#000" stroke-width="1.2" />
<text x="382.30" y="160.46" font-size="13.5" text-anchor="end">8</text>
<text x="360.00" y="227.50" font-size="16.5" transform="rotate(-90 360.00 227.50)" text-anchor="middle" textLength="148" lengthAdjust="spacingAndGlyphs">Relative expression</text>
<text x="398.30" y="167.30" font-size="16.5">OLA1</text>
<rect x="399.30" y="281.00" width="8.40" height="17.30" fill="#6E7784" />
<text font-size="11" transform="translate(407.40 303.60) rotate(-90) scale(1.25 1)" text-anchor="end">HIEC</text>
<line x1="420.90" y1="272.70" x2="420.90" y2="263.30" stroke="#000" stroke-width="1.3" />
<line x1="418.60" y1="263.30" x2="423.20" y2="263.30" stroke="#000" stroke-width="1.3" />
<rect x="416.70" y="271.70" width="8.40" height="26.60" fill="#5C9FCB" />
<text font-size="11" transform="translate(424.80 303.60) rotate(-90) scale(1.25 1)" text-anchor="end">LOVO</text>
<line x1="439.20" y1="268.30" x2="439.20" y2="265.00" stroke="#000" stroke-width="1.3" />
<line x1="436.90" y1="265.00" x2="441.50" y2="265.00" stroke="#000" stroke-width="1.3" />
<rect x="435.00" y="267.30" width="8.40" height="31.00" fill="#5C9FCB" />
<text font-size="11" transform="translate(443.10 303.60) rotate(-90) scale(1.25 1)" text-anchor="end">HCT116</text>
<line x1="458.20" y1="257.00" x2="458.20" y2="253.30" stroke="#000" stroke-width="1.3" />
<line x1="455.90" y1="253.30" x2="460.50" y2="253.30" stroke="#000" stroke-width="1.3" />
<rect x="454.00" y="256.00" width="8.40" height="42.30" fill="#5C9FCB" />
<text font-size="11" transform="translate(462.10 303.60) rotate(-90) scale(1.25 1)" text-anchor="end">SW48</text>
<line x1="476.50" y1="253.30" x2="476.50" y2="244.30" stroke="#000" stroke-width="1.3" />
<line x1="474.20" y1="244.30" x2="478.80" y2="244.30" stroke="#000" stroke-width="1.3" />
<rect x="472.30" y="252.30" width="8.40" height="46.00" fill="#5C9FCB" />
<text font-size="11" transform="translate(480.40 303.60) rotate(-90) scale(1.25 1)" text-anchor="end">CACO2</text>
<line x1="494.90" y1="230.00" x2="494.90" y2="217.70" stroke="#000" stroke-width="1.3" />
<line x1="492.60" y1="217.70" x2="497.20" y2="217.70" stroke="#000" stroke-width="1.3" />
<rect x="490.70" y="229.00" width="8.40" height="69.30" fill="#5C9FCB" />
<text font-size="11" transform="translate(498.80 303.60) rotate(-90) scale(1.25 1)" text-anchor="end">SW480</text>
<line x1="513.50" y1="218.30" x2="513.50" y2="216.00" stroke="#000" stroke-width="1.3" />
<line x1="511.20" y1="216.00" x2="515.80" y2="216.00" stroke="#000" stroke-width="1.3" />
<rect x="509.30" y="217.30" width="8.40" height="81.00" fill="#5C9FCB" />
<text font-size="11" transform="translate(517.40 303.60) rotate(-90) scale(1.25 1)" text-anchor="end">SW620</text>
<line x1="531.90" y1="178.30" x2="531.90" y2="165.70" stroke="#000" stroke-width="1.3" />
<line x1="529.60" y1="165.70" x2="534.20" y2="165.70" stroke="#000" stroke-width="1.3" />
<rect x="527.70" y="177.30" width="8.40" height="121.00" fill="#5C9FCB" />
<text font-size="11" transform="translate(535.80 303.60) rotate(-90) scale(1.25 1)" text-anchor="end">HT29</text>
<text x="420.70" y="259.00" font-size="13.5" text-anchor="middle">NS</text>
<text x="439.20" y="269.44" font-size="18" text-anchor="middle">*</text>
<text x="458.20" y="258.44" font-size="18" text-anchor="middle">*</text>
<text x="476.50" y="249.14" font-size="18" text-anchor="middle">*</text>
<text x="495.00" y="223.44" font-size="18" text-anchor="middle">*</text>
<text x="513.50" y="220.74" font-size="18" text-anchor="middle">**</text>
<text x="532.00" y="169.64" font-size="18" text-anchor="middle">**</text>
<!-- panel d -->
<text x="558.40" y="157.00" font-size="26">d</text>
<line x1="624.30" y1="175.50" x2="624.30" y2="307.90" stroke="#000" stroke-width="1.3" />
<line x1="619.30" y1="307.30" x2="789.50" y2="307.30" stroke="#000" stroke-width="1.3" />
<line x1="619.30" y1="307.30" x2="624.30" y2="307.30" stroke="#000" stroke-width="1.2" />
<text x="614.30" y="312.10" font-size="13.5" text-anchor="end">0</text>
<line x1="619.30" y1="286.20" x2="624.30" y2="286.20" stroke="#000" stroke-width="1.2" />
<text x="614.30" y="291.00" font-size="13.5" text-anchor="end">1</text>
<line x1="619.30" y1="265.10" x2="624.30" y2="265.10" stroke="#000" stroke-width="1.2" />
<text x="614.30" y="269.90" font-size="13.5" text-anchor="end">2</text>
<line x1="619.30" y1="244.00" x2="624.30" y2="244.00" stroke="#000" stroke-width="1.2" />
<text x="614.30" y="248.80" font-size="13.5" text-anchor="end">3</text>
<line x1="619.30" y1="222.90" x2="624.30" y2="222.90" stroke="#000" stroke-width="1.2" />
<text x="614.30" y="227.70" font-size="13.5" text-anchor="end">4</text>
<line x1="619.30" y1="201.80" x2="624.30" y2="201.80" stroke="#000" stroke-width="1.2" />
<text x="614.30" y="206.60" font-size="13.5" text-anchor="end">5</text>
<line x1="619.30" y1="180.70" x2="624.30" y2="180.70" stroke="#000" stroke-width="1.2" />
<text x="614.30" y="185.50" font-size="13.5" text-anchor="end">6</text>
<text x="589.50" y="245.00" font-size="16.5" transform="rotate(-90 589.50 245.00)" text-anchor="middle" textLength="150" lengthAdjust="spacingAndGlyphs">Relative expression</text>
<rect x="637.70" y="172.50" width="8.00" height="7.70" fill="#D6B2BE" />
<text x="651.00" y="180.20" font-size="14.4">CRC tissues</text>
<rect x="637.70" y="185.70" width="8.00" height="7.70" fill="#BDBDBD" />
<text x="651.00" y="193.40" font-size="14.4">Ctrl tissues</text>
<rect x="630.00" y="284.00" width="8.40" height="23.30" fill="#BDBDBD" />
<line x1="646.90" y1="261.70" x2="646.90" y2="260.20" stroke="#000" stroke-width="1.3" />
<line x1="644.60" y1="260.20" x2="649.20" y2="260.20" stroke="#000" stroke-width="1.3" />
<rect x="642.70" y="260.70" width="8.40" height="46.60" fill="#D6B2BE" />
<rect x="664.30" y="284.00" width="8.40" height="23.30" fill="#BDBDBD" />
<line x1="680.90" y1="261.00" x2="680.90" y2="254.30" stroke="#000" stroke-width="1.3" />
<line x1="678.60" y1="254.30" x2="683.20" y2="254.30" stroke="#000" stroke-width="1.3" />
<rect x="676.70" y="260.00" width="8.40" height="47.30" fill="#D6B2BE" />
<rect x="697.70" y="284.00" width="8.40" height="23.30" fill="#BDBDBD" />
<line x1="714.50" y1="252.70" x2="714.50" y2="247.30" stroke="#000" stroke-width="1.3" />
<line x1="712.20" y1="247.30" x2="716.80" y2="247.30" stroke="#000" stroke-width="1.3" />
<rect x="710.30" y="251.70" width="8.40" height="55.60" fill="#D6B2BE" />
<rect x="731.00" y="284.00" width="8.40" height="23.30" fill="#BDBDBD" />
<line x1="747.50" y1="235.30" x2="747.50" y2="230.00" stroke="#000" stroke-width="1.3" />
<line x1="745.20" y1="230.00" x2="749.80" y2="230.00" stroke="#000" stroke-width="1.3" />
<rect x="743.30" y="234.30" width="8.40" height="73.00" fill="#D6B2BE" />
<rect x="762.70" y="284.00" width="8.40" height="23.30" fill="#BDBDBD" />
<line x1="779.20" y1="191.00" x2="779.20" y2="176.70" stroke="#000" stroke-width="1.3" />
<line x1="776.90" y1="176.70" x2="781.50" y2="176.70" stroke="#000" stroke-width="1.3" />
<rect x="775.00" y="190.00" width="8.40" height="117.30" fill="#D6B2BE" />
<text x="646.00" y="264.26" font-size="20.5" text-anchor="middle">****</text>
<text x="681.00" y="256.96" font-size="20.5" text-anchor="middle">*</text>
<text x="713.70" y="250.16" font-size="20.5" text-anchor="middle">**</text>
<text x="747.00" y="234.27" font-size="20.5" text-anchor="middle">**</text>
<text x="778.30" y="180.47" font-size="20.5" text-anchor="middle">**</text>
<text x="641.00" y="321.00" font-size="14" text-anchor="middle">#1</text>
<text x="673.30" y="321.00" font-size="14" text-anchor="middle">#2</text>
<text x="708.30" y="321.00" font-size="14" text-anchor="middle">#3</text>
<text x="740.30" y="321.00" font-size="14" text-anchor="middle">#4</text>
<text x="772.70" y="321.00" font-size="14" text-anchor="middle">#5</text>
<line x1="637.00" y1="327.30" x2="780.00" y2="327.30" stroke="#000" stroke-width="1.3" />
<text x="711.80" y="345.70" font-size="17" text-anchor="middle">OLA1</text>
<!-- panel e -->
<text x="10.00" y="372.60" font-size="26">e</text>
<text x="196.50" y="358.60" font-size="16.2" text-anchor="middle">OLA1</text>
<line x1="136.60" y1="364.00" x2="267.00" y2="364.00" stroke="#000" stroke-width="1.3" />
<text x="47.80" y="420.50" font-size="15.3" transform="rotate(-90 47.80 420.50)" text-anchor="middle">Case</text>
<text x="47.80" y="510.00" font-size="15.3" transform="rotate(-90 47.80 510.00)" text-anchor="middle">Ctrl</text>
<defs>
<clipPath id="ec0"><rect x="61" y="376.3" width="132.1" height="87.0"/></clipPath>
<clipPath id="ec1"><rect x="202.2" y="376.3" width="132.1" height="87.0"/></clipPath>
<clipPath id="ec2"><rect x="61" y="465.4" width="132.1" height="88.8"/></clipPath>
<clipPath id="ec3"><rect x="202.2" y="465.4" width="132.1" height="88.8"/></clipPath>
<filter id="eBlue" x="0" y="0" width="100%" height="100%" color-interpolation-filters="sRGB"><feTurbulence type="fractalNoise" baseFrequency="0.42" numOctaves="2" seed="3" result="n"/><feColorMatrix in="n" type="matrix" values="0 0 0 0 0.247 0 0 0 0 0.384 0 0 0 0 0.690 7 0 0 0 -4.2" result="c"/><feComposite in="c" in2="SourceAlpha" operator="in"/></filter>
<filter id="eBlue2" x="0" y="0" width="100%" height="100%" color-interpolation-filters="sRGB"><feTurbulence type="fractalNoise" baseFrequency="0.3" numOctaves="2" seed="11" result="n"/><feColorMatrix in="n" type="matrix" values="0 0 0 0 0.231 0 0 0 0 0.471 0 0 0 0 0.800 9 0 0 0 -5.0" result="c"/><feComposite in="c" in2="SourceAlpha" operator="in"/></filter>
<filter id="eNavy" x="0" y="0" width="100%" height="100%" color-interpolation-filters="sRGB"><feTurbulence type="fractalNoise" baseFrequency="0.5" numOctaves="2" seed="7" result="n"/><feColorMatrix in="n" type="matrix" values="0 0 0 0 0.106 0 0 0 0 0.165 0 0 0 0 0.400 8 0 0 0 -5.0" result="c"/><feComposite in="c" in2="SourceAlpha" operator="in"/></filter>
<filter id="eNavyD" x="0" y="0" width="100%" height="100%" color-interpolation-filters="sRGB"><feTurbulence type="fractalNoise" baseFrequency="0.45" numOctaves="2" seed="5" result="n"/><feColorMatrix in="n" type="matrix" values="0 0 0 0 0.078 0 0 0 0 0.106 0 0 0 0 0.271 7 0 0 0 -3.9" result="c"/><feComposite in="c" in2="SourceAlpha" operator="in"/></filter>
<filter id="eBrown" x="0" y="0" width="100%" height="100%" color-interpolation-filters="sRGB"><feTurbulence type="fractalNoise" baseFrequency="0.38" numOctaves="2" seed="9" result="n"/><feColorMatrix in="n" type="matrix" values="0 0 0 0 0.541 0 0 0 0 0.369 0 0 0 0 0.243 7 0 0 0 -3.6" result="c"/><feComposite in="c" in2="SourceAlpha" operator="in"/></filter>
<filter id="eBrownL" x="0" y="0" width="100%" height="100%" color-interpolation-filters="sRGB"><feTurbulence type="fractalNoise" baseFrequency="0.22" numOctaves="2" seed="13" result="n"/><feColorMatrix in="n" type="matrix" values="0 0 0 0 0.788 0 0 0 0 0.608 0 0 0 0 0.322 7 0 0 0 -3.7" result="c"/><feComposite in="c" in2="SourceAlpha" operator="in"/></filter>
<filter id="eWhite" x="0" y="0" width="100%" height="100%" color-interpolation-filters="sRGB"><feTurbulence type="fractalNoise" baseFrequency="0.16" numOctaves="2" seed="21" result="n"/><feColorMatrix in="n" type="matrix" values="0 0 0 0 1.000 0 0 0 0 1.000 0 0 0 0 1.000 9 0 0 0 -4.4" result="c"/><feComposite in="c" in2="SourceAlpha" operator="in"/></filter>
<filter id="eWhite2" x="0" y="0" width="100%" height="100%" color-interpolation-filters="sRGB"><feTurbulence type="fractalNoise" baseFrequency="0.35" numOctaves="2" seed="4" result="n"/><feColorMatrix in="n" type="matrix" values="0 0 0 0 0.992 0 0 0 0 0.984 0 0 0 0 0.965 7 0 0 0 -3.6" result="c"/><feComposite in="c" in2="SourceAlpha" operator="in"/></filter>
<filter id="eStroma" x="0" y="0" width="100%" height="100%" color-interpolation-filters="sRGB"><feTurbulence type="fractalNoise" baseFrequency="0.33" numOctaves="2" seed="23" result="n"/><feColorMatrix in="n" type="matrix" values="0 0 0 0 0.169 0 0 0 0 0.231 0 0 0 0 0.557 7 0 0 0 -3.1" result="c"/><feComposite in="c" in2="SourceAlpha" operator="in"/></filter>
<filter id="eCell" x="0" y="0" width="100%" height="100%" color-interpolation-filters="sRGB"><feTurbulence type="turbulence" baseFrequency="0.13" numOctaves="1" seed="17" result="n"/><feColorMatrix in="n" type="matrix" values="0 0 0 0 0.424 0 0 0 0 0.447 0 0 0 0 0.722 -14 0 0 0 1.15" result="c"/><feComposite in="c" in2="SourceAlpha" operator="in"/></filter>
<filter id="eCell2" x="0" y="0" width="100%" height="100%" color-interpolation-filters="sRGB"><feTurbulence type="turbulence" baseFrequency="0.075" numOctaves="1" seed="19" result="n"/><feColorMatrix in="n" type="matrix" values="0 0 0 0 0.353 0 0 0 0 0.388 0 0 0 0 0.690 -16 0 0 0 1.2" result="c"/><feComposite in="c" in2="SourceAlpha" operator="in"/></filter>
<filter id="eSoft" x="0" y="0" width="100%" height="100%"><feGaussianBlur stdDeviation="0.45"/></filter>
<filter id="eR1" x="-5%" y="-5%" width="110%" height="110%" color-interpolation-filters="sRGB"><feTurbulence type="fractalNoise" baseFrequency="0.13" numOctaves="2" seed="2" result="n"/><feDisplacementMap in="SourceGraphic" in2="n" scale="6" xChannelSelector="R" yChannelSelector="G" result="d"/><feTurbulence type="fractalNoise" baseFrequency="0.28" numOctaves="2" seed="33" result="n2"/><feColorMatrix in="n2" type="matrix" values="0 0 0 0 1 0 0 0 0 1 0 0 0 0 1 7 0 0 0 -2.3" result="h"/><feComposite in="d" in2="h" operator="in"/><feGaussianBlur stdDeviation="0.35"/></filter>
<filter id="eR2" x="-5%" y="-5%" width="110%" height="110%" color-interpolation-filters="sRGB"><feTurbulence type="fractalNoise" baseFrequency="0.09" numOctaves="2" seed="8" result="n"/><feDisplacementMap in="SourceGraphic" in2="n" scale="7" xChannelSelector="R" yChannelSelector="G" result="d"/><feTurbulence type="fractalNoise" baseFrequency="0.3" numOctaves="2" seed="39" result="n2"/><feColorMatrix in="n2" type="matrix" values="0 0 0 0 1 0 0 0 0 1 0 0 0 0 1 7 0 0 0 -1.9" result="h"/><feComposite in="d" in2="h" operator="in"/><feGaussianBlur stdDeviation="0.3"/></filter>
<filter id="eR3" x="-5%" y="-5%" width="110%" height="110%"><feTurbulence type="fractalNoise" baseFrequency="0.16" numOctaves="2" seed="5" result="n"/><feDisplacementMap in="SourceGraphic" in2="n" scale="3" xChannelSelector="R" yChannelSelector="G"/></filter>
</defs>
<g clip-path="url(#ec0)"><g filter="url(#eSoft)">
<rect x="61.00" y="376.30" width="132.10" height="87.00" fill="#DCE5EF" />
<rect x="61.00" y="376.30" width="132.10" height="87.00" fill="#000" filter="url(#eBlue)"/>
<path d="M96.6 376.4 C99.8 371.9 111.4 371.3 113.4 376.4 C115.4 381.4 108.1 396.5 108.4 406.6 C108.6 416.6 114.2 427.3 115.1 436.8 C115.9 446.3 117.0 459.2 113.4 463.6 C109.8 468.1 95.5 469.0 93.3 463.6 C91.0 458.3 99.8 441.8 100.0 431.8 C100.1 421.7 94.7 412.4 94.1 403.2 C93.5 394.0 93.4 380.8 96.6 376.4 Z" fill="#C9B6A6" opacity="0.55"/>
<path d="M96.6 376.4 C99.8 371.9 111.4 371.3 113.4 376.4 C115.4 381.4 108.1 396.5 108.4 406.6 C108.6 416.6 114.2 427.3 115.1 436.8 C115.9 446.3 117.0 459.2 113.4 463.6 C109.8 468.1 95.5 469.0 93.3 463.6 C91.0 458.3 99.8 441.8 100.0 431.8 C100.1 421.7 94.7 412.4 94.1 403.2 C93.5 394.0 93.4 380.8 96.6 376.4 Z" fill="#000" filter="url(#eBrown)"/>
<rect x="61.00" y="376.30" width="132.10" height="87.00" fill="#000" filter="url(#eNavy)" opacity="0.8"/>
<rect x="61.00" y="376.30" width="132.10" height="87.00" fill="#000" filter="url(#eWhite)" opacity="0.9"/>
<g filter="url(#eR1)">
<path d="M65.6 378.9 C67.8 376.6 76.7 375.4 81.5 379.7 C86.3 384.1 92.0 397.9 94.1 404.9 C96.2 411.9 94.5 414.7 94.1 421.7 C93.7 428.7 93.4 442.7 91.6 446.9 C89.8 451.1 86.1 448.3 83.2 446.9 C80.2 445.5 76.0 442.4 73.9 438.5 C71.8 434.6 70.7 428.7 70.6 423.4 C70.5 418.0 73.5 411.6 73.1 406.6 C72.7 401.5 69.3 397.8 68.1 393.1 C66.8 388.5 63.3 381.1 65.6 378.9 Z" fill="#2A2346" opacity="0.5"/>
<path d="M115.9 385.6 C116.3 383.8 122.2 382.0 125.1 382.2 C128.1 382.5 131.6 385.2 133.5 387.3 C135.5 389.4 137.2 392.7 136.9 394.8 C136.6 396.9 132.3 397.5 131.9 399.9 C131.4 402.2 134.8 406.3 134.4 409.1 C134.0 411.9 131.0 417.1 129.3 416.6 C127.7 416.2 125.4 410.5 124.3 406.6 C123.2 402.7 124.0 396.6 122.6 393.1 C121.2 389.6 115.5 387.4 115.9 385.6 Z" fill="#4A2514" opacity="0.7"/>
<path d="M138.6 446.9 C137.3 445.0 139.7 440.4 141.1 439.3 C142.5 438.2 145.3 438.9 147.0 440.1 C148.6 441.4 149.5 446.6 151.2 446.9 C152.8 447.1 155.4 444.1 157.0 441.8 C158.6 439.6 159.1 435.1 160.7 433.4 C162.4 431.8 165.1 430.9 167.1 431.8 C169.2 432.6 171.5 435.7 173.0 438.5 C174.5 441.3 177.3 447.7 176.3 448.5 C175.4 449.4 170.1 443.5 167.1 443.5 C164.2 443.5 161.8 447.4 158.7 448.5 C155.6 449.7 152.0 450.5 148.6 450.2 C145.3 449.9 139.8 448.7 138.6 446.9 Z" fill="#5A3018" opacity="0.45"/>
</g>
<g filter="url(#eR1)" opacity="0.55">
<path d="M65.6 378.9 C66.0 381.3 66.8 388.5 68.1 393.1 C69.3 397.8 72.7 401.5 73.1 406.6 C73.5 411.6 70.5 418.0 70.6 423.4 C70.7 428.7 71.8 434.6 73.9 438.5 C76.0 442.4 80.5 444.6 83.2 446.9 C85.8 449.1 88.8 451.1 89.9 451.9" fill="none" stroke="#8A5A3A" stroke-width="6.21" stroke-linecap="round"/>
<path d="M81.5 379.7 C82.3 381.7 84.4 387.3 86.5 391.5 C88.6 395.7 92.8 399.9 94.1 404.9 C95.4 409.9 94.9 416.6 94.1 421.7 C93.3 426.7 89.5 430.9 89.1 435.1 C88.6 439.3 91.2 444.9 91.6 446.9" fill="none" stroke="#3C4C8C" stroke-width="7.0200000000000005" stroke-linecap="round"/>
<path d="M68.1 393.1 C69.8 394.0 75.1 398.5 78.1 398.2 C81.2 397.9 85.1 392.6 86.5 391.5" fill="none" stroke="#8A5A3A" stroke-width="4.32" />
<path d="M73.1 406.6 C74.5 408.0 78.0 414.1 81.5 415.0 C85.0 415.8 92.0 412.2 94.1 411.6" fill="none" stroke="#8A5A3A" stroke-width="4.59" />
<path d="M70.6 423.4 C72.1 424.2 76.7 426.4 79.8 428.4 C82.9 430.4 87.5 434.0 89.1 435.1" fill="none" stroke="#3C4C8C" stroke-width="4.59" />
<path d="M78.1 398.2 C79.0 399.6 82.6 403.8 83.2 406.6 C83.7 409.4 81.2 412.2 81.5 415.0 C81.8 417.8 85.1 421.1 84.9 423.4 C84.6 425.6 80.4 425.6 79.8 428.4 C79.3 431.2 81.2 438.2 81.5 440.1" fill="none" stroke="#8A5A3A" stroke-width="4.050000000000001" />
<ellipse cx="88.22" cy="401.54" rx="4.50" ry="7.00" fill="#3C4C8C" />
<path d="M115.9 385.6 C117.5 385.0 122.2 382.0 125.1 382.2 C128.1 382.5 131.6 385.2 133.5 387.3 C135.5 389.4 137.2 392.7 136.9 394.8 C136.6 396.9 132.3 397.5 131.9 399.9 C131.4 402.2 134.8 406.3 134.4 409.1 C134.0 411.9 130.2 415.4 129.3 416.6" fill="none" stroke="#8A5A3A" stroke-width="7.425000000000001" stroke-linecap="round"/>
<path d="M122.6 388.1 C122.9 389.5 124.6 393.8 124.3 396.5 C124.0 399.2 122.8 402.0 121.0 404.1 C119.1 406.2 115.8 408.8 113.4 409.1 C111.0 409.4 108.1 407.3 106.7 405.7 C105.3 404.2 103.9 401.1 105.0 399.9 C106.1 398.6 112.0 398.5 113.4 398.2" fill="none" stroke="#8A5A3A" stroke-width="4.86" stroke-linecap="round"/>
<path d="M125.1 411.6 C124.4 413.6 121.7 418.6 121.0 423.4 C120.2 428.1 119.7 436.2 120.4 440.1 C121.1 444.1 123.4 446.3 125.1 446.9 C126.9 447.4 129.8 446.3 131.0 443.5 C132.3 440.7 133.1 434.3 132.7 430.1 C132.3 425.9 129.8 421.4 128.5 418.3 C127.2 415.2 125.7 412.7 125.1 411.6" fill="none" stroke="#8A5A3A" stroke-width="4.59" />
<path d="M132.7 429.2 C134.2 428.8 139.3 427.7 141.9 426.7 C144.6 425.7 146.6 424.3 148.6 423.4 C150.7 422.4 152.6 420.8 154.5 420.8 C156.5 420.8 158.6 423.4 160.4 423.4 C162.2 423.4 163.9 421.8 165.4 420.8 C167.0 419.9 168.0 418.5 169.6 417.5 C171.3 416.5 173.4 414.8 175.5 415.0 C177.6 415.1 181.1 417.8 182.2 418.3" fill="none" stroke="#8A5A3A" stroke-width="5.13" stroke-linecap="round"/>
<path d="M138.6 446.9 C139.0 445.6 139.7 440.4 141.1 439.3 C142.5 438.2 145.3 438.9 147.0 440.1 C148.6 441.4 149.5 446.6 151.2 446.9 C152.8 447.1 155.4 444.1 157.0 441.8 C158.6 439.6 159.1 435.1 160.7 433.4 C162.4 431.8 165.1 430.9 167.1 431.8 C169.2 432.6 171.5 435.7 173.0 438.5 C174.5 441.3 175.3 447.7 176.3 448.5 C177.4 449.4 178.9 446.0 179.2 443.5 C179.5 441.0 178.2 435.1 178.0 433.4" fill="none" stroke="#8A5A3A" stroke-width="5.670000000000001" stroke-linecap="round"/>
<path d="M172.2 399.9 C173.0 398.6 176.6 396.8 178.9 396.5 C181.1 396.2 183.3 396.8 185.6 398.2 C187.8 399.6 192.0 403.1 192.3 404.9 C192.6 406.7 189.5 408.8 187.3 409.1 C185.0 409.4 181.1 407.4 178.9 406.6 C176.6 405.7 174.9 405.2 173.8 404.1 C172.7 402.9 171.3 401.1 172.2 399.9 Z" fill="#8A5A3A" />
<path d="M175.5 409.1 C176.6 411.5 179.7 420.1 182.2 423.4 C184.7 426.6 188.7 428.4 190.6 428.4 C192.6 428.4 193.4 424.2 194.0 423.4" fill="none" stroke="#8A5A3A" stroke-width="4.86" />
</g>
<g filter="url(#eR1)" opacity="1.0">
<path d="M65.6 378.9 C66.0 381.3 66.8 388.5 68.1 393.1 C69.3 397.8 72.7 401.5 73.1 406.6 C73.5 411.6 70.5 418.0 70.6 423.4 C70.7 428.7 71.8 434.6 73.9 438.5 C76.0 442.4 80.5 444.6 83.2 446.9 C85.8 449.1 88.8 451.1 89.9 451.9" fill="none" stroke="#3A1D12" stroke-width="3.6799999999999997" stroke-linecap="round"/>
<path d="M81.5 379.7 C82.3 381.7 84.4 387.3 86.5 391.5 C88.6 395.7 92.8 399.9 94.1 404.9 C95.4 409.9 94.9 416.6 94.1 421.7 C93.3 426.7 89.5 430.9 89.1 435.1 C88.6 439.3 91.2 444.9 91.6 446.9" fill="none" stroke="#1B2656" stroke-width="4.16" stroke-linecap="round"/>
<path d="M68.1 393.1 C69.8 394.0 75.1 398.5 78.1 398.2 C81.2 397.9 85.1 392.6 86.5 391.5" fill="none" stroke="#3A1D12" stroke-width="2.5600000000000005" />
<path d="M73.1 406.6 C74.5 408.0 78.0 414.1 81.5 415.0 C85.0 415.8 92.0 412.2 94.1 411.6" fill="none" stroke="#3A1D12" stroke-width="2.72" />
<path d="M70.6 423.4 C72.1 424.2 76.7 426.4 79.8 428.4 C82.9 430.4 87.5 434.0 89.1 435.1" fill="none" stroke="#1B2656" stroke-width="2.72" />
<path d="M78.1 398.2 C79.0 399.6 82.6 403.8 83.2 406.6 C83.7 409.4 81.2 412.2 81.5 415.0 C81.8 417.8 85.1 421.1 84.9 423.4 C84.6 425.6 80.4 425.6 79.8 428.4 C79.3 431.2 81.2 438.2 81.5 440.1" fill="none" stroke="#3A1D12" stroke-width="2.4000000000000004" />
<ellipse cx="88.22" cy="401.54" rx="4.50" ry="7.00" fill="#1B2656" />
<path d="M115.9 385.6 C117.5 385.0 122.2 382.0 125.1 382.2 C128.1 382.5 131.6 385.2 133.5 387.3 C135.5 389.4 137.2 392.7 136.9 394.8 C136.6 396.9 132.3 397.5 131.9 399.9 C131.4 402.2 134.8 406.3 134.4 409.1 C134.0 411.9 130.2 415.4 129.3 416.6" fill="none" stroke="#3A1D12" stroke-width="4.4" stroke-linecap="round"/>
<path d="M122.6 388.1 C122.9 389.5 124.6 393.8 124.3 396.5 C124.0 399.2 122.8 402.0 121.0 404.1 C119.1 406.2 115.8 408.8 113.4 409.1 C111.0 409.4 108.1 407.3 106.7 405.7 C105.3 404.2 103.9 401.1 105.0 399.9 C106.1 398.6 112.0 398.5 113.4 398.2" fill="none" stroke="#3A1D12" stroke-width="2.8800000000000003" stroke-linecap="round"/>
<path d="M125.1 411.6 C124.4 413.6 121.7 418.6 121.0 423.4 C120.2 428.1 119.7 436.2 120.4 440.1 C121.1 444.1 123.4 446.3 125.1 446.9 C126.9 447.4 129.8 446.3 131.0 443.5 C132.3 440.7 133.1 434.3 132.7 430.1 C132.3 425.9 129.8 421.4 128.5 418.3 C127.2 415.2 125.7 412.7 125.1 411.6" fill="none" stroke="#3A1D12" stroke-width="2.72" />
<path d="M132.7 429.2 C134.2 428.8 139.3 427.7 141.9 426.7 C144.6 425.7 146.6 424.3 148.6 423.4 C150.7 422.4 152.6 420.8 154.5 420.8 C156.5 420.8 158.6 423.4 160.4 423.4 C162.2 423.4 163.9 421.8 165.4 420.8 C167.0 419.9 168.0 418.5 169.6 417.5 C171.3 416.5 173.4 414.8 175.5 415.0 C177.6 415.1 181.1 417.8 182.2 418.3" fill="none" stroke="#3A1D12" stroke-width="3.04" stroke-linecap="round"/>
<path d="M138.6 446.9 C139.0 445.6 139.7 440.4 141.1 439.3 C142.5 438.2 145.3 438.9 147.0 440.1 C148.6 441.4 149.5 446.6 151.2 446.9 C152.8 447.1 155.4 444.1 157.0 441.8 C158.6 439.6 159.1 435.1 160.7 433.4 C162.4 431.8 165.1 430.9 167.1 431.8 C169.2 432.6 171.5 435.7 173.0 438.5 C174.5 441.3 175.3 447.7 176.3 448.5 C177.4 449.4 178.9 446.0 179.2 443.5 C179.5 441.0 178.2 435.1 178.0 433.4" fill="none" stroke="#3A1D12" stroke-width="3.3600000000000003" stroke-linecap="round"/>
<path d="M172.2 399.9 C173.0 398.6 176.6 396.8 178.9 396.5 C181.1 396.2 183.3 396.8 185.6 398.2 C187.8 399.6 192.0 403.1 192.3 404.9 C192.6 406.7 189.5 408.8 187.3 409.1 C185.0 409.4 181.1 407.4 178.9 406.6 C176.6 405.7 174.9 405.2 173.8 404.1 C172.7 402.9 171.3 401.1 172.2 399.9 Z" fill="#3A1D12" />
<path d="M175.5 409.1 C176.6 411.5 179.7 420.1 182.2 423.4 C184.7 426.6 188.7 428.4 190.6 428.4 C192.6 428.4 193.4 424.2 194.0 423.4" fill="none" stroke="#3A1D12" stroke-width="2.8800000000000003" />
</g>
<g>
</g>
<g filter="url(#eR3)" fill="#EEF2F8">
<ellipse cx="75.63" cy="388.95" rx="3.69" ry="6.71" fill="#EEF2F8" transform="rotate(10 75.63 388.95)" />
<ellipse cx="78.98" cy="409.09" rx="3.69" ry="4.70" fill="#EEF2F8" />
<ellipse cx="79.82" cy="430.92" rx="3.36" ry="5.88" fill="#EEF2F8" transform="rotate(-10 79.82 430.92)" />
<ellipse cx="125.99" cy="428.40" rx="2.01" ry="10.07" fill="#EEF2F8" transform="rotate(-8 125.99 428.40)" />
<ellipse cx="152.01" cy="430.92" rx="7.55" ry="3.69" fill="#EEF2F8" transform="rotate(-20 152.01 430.92)" />
<ellipse cx="173.83" cy="423.36" rx="2.35" ry="6.71" fill="#EEF2F8" transform="rotate(10 173.83 423.36)" />
</g>
<rect x="61.00" y="376.30" width="132.10" height="87.00" fill="#000" filter="url(#eNavyD)" opacity="0.55"/>
</g></g>
<g clip-path="url(#ec1)"><g filter="url(#eSoft)">
<rect x="202.20" y="376.30" width="132.10" height="87.00" fill="#EEF2F8" />
<rect x="202.20" y="376.30" width="132.10" height="87.00" fill="#000" filter="url(#eBlue2)"/>
<g filter="url(#eR3)">
<path d="M216.5 377.2 C215.2 380.7 209.9 390.5 208.9 398.2 C207.9 405.9 209.2 415.8 210.6 423.4 C212.0 430.9 215.2 438.5 217.3 443.5 C219.4 448.5 221.1 452.3 223.2 453.6 C225.3 454.8 227.8 453.9 229.9 451.1 C232.0 448.3 234.2 442.1 235.8 436.8 C237.3 431.5 239.1 424.8 239.1 419.2 C239.1 413.6 238.0 409.2 235.8 403.2 C233.5 397.2 228.5 387.4 225.7 383.1 C222.9 378.7 220.1 378.2 219.0 377.2" fill="#F3F6FA" />
<path d="M253.4 421.7 C254.8 420.0 264.6 420.8 268.5 418.3 C272.4 415.8 274.4 407.4 276.9 406.6 C279.4 405.7 280.3 411.9 283.6 413.3 C287.0 414.7 295.6 413.3 297.0 415.0 C298.4 416.6 293.7 420.3 292.0 423.4 C290.3 426.4 288.6 429.5 287.0 433.4 C285.3 437.4 284.5 442.9 281.9 446.9 C279.4 450.8 274.4 456.1 271.9 456.9 C269.3 457.8 267.9 455.3 266.8 451.9 C265.7 448.5 266.3 440.7 265.1 436.8 C264.0 432.9 262.1 430.9 260.1 428.4 C258.2 425.9 252.0 423.4 253.4 421.7 Z" fill="#F3F6FA" />
<path d="M298.7 413.3 C299.0 408.5 303.8 400.1 307.1 396.5 C310.5 392.9 317.5 389.8 318.9 391.5 C320.3 393.1 316.6 401.3 315.5 406.6 C314.4 411.9 313.8 420.3 312.2 423.4 C310.5 426.4 307.7 426.7 305.4 425.0 C303.2 423.4 298.4 418.0 298.7 413.3 Z" fill="#F3F6FA" />
</g>
<g filter="url(#eR2)" stroke-linecap="round" stroke-linejoin="round">
<path d="M216.5 377.2 C215.2 380.7 209.9 390.5 208.9 398.2 C207.9 405.9 209.2 415.8 210.6 423.4 C212.0 430.9 215.2 438.5 217.3 443.5 C219.4 448.5 221.1 452.3 223.2 453.6 C225.3 454.8 227.8 453.9 229.9 451.1 C232.0 448.3 234.2 442.1 235.8 436.8 C237.3 431.5 239.1 424.8 239.1 419.2 C239.1 413.6 238.0 409.2 235.8 403.2 C233.5 397.2 228.5 387.4 225.7 383.1 C222.9 378.7 220.1 378.2 219.0 377.2" fill="none" stroke="#B07A4C" stroke-width="10.25" opacity="0.55"/>
<path d="M239.1 419.2 C241.5 418.6 249.1 416.5 253.4 415.8 C257.7 415.1 262.1 417.2 265.1 415.0 C268.2 412.7 269.3 405.2 271.9 402.4 C274.4 399.6 278.0 397.3 280.3 398.2 C282.5 399.0 282.8 405.4 285.3 407.4 C287.8 409.4 292.6 412.8 295.4 410.3 C298.2 407.7 298.7 396.0 302.1 392.3 C305.4 388.6 311.6 389.6 315.5 388.1 C319.4 386.6 322.2 384.2 325.6 383.1 C328.9 382.0 334.0 381.7 335.7 381.4" fill="none" stroke="#B07A4C" stroke-width="10.0" opacity="0.55"/>
<path d="M246.7 450.2 C247.4 448.1 248.9 440.7 250.9 437.6 C252.8 434.6 256.5 431.3 258.4 431.8 C260.4 432.2 261.7 436.1 262.6 440.1 C263.5 444.2 262.3 452.5 263.8 456.1 C265.3 459.7 268.4 463.4 271.9 462.0 C275.3 460.6 281.7 453.2 284.5 447.7 C287.3 442.2 286.7 433.6 288.6 429.2 C290.6 424.9 293.1 421.8 296.2 421.7 C299.3 421.5 303.9 424.8 307.1 428.4 C310.3 432.0 312.3 438.5 315.5 443.5 C318.7 448.5 324.6 456.1 326.4 458.6" fill="none" stroke="#B07A4C" stroke-width="13.125" opacity="0.55"/>
<path d="M315.5 443.5 C315.2 439.7 313.3 427.4 313.8 420.8 C314.4 414.3 316.8 408.4 318.9 404.1 C321.0 399.7 323.6 395.8 326.4 394.8 C329.2 393.8 334.1 397.6 335.7 398.2" fill="none" stroke="#B07A4C" stroke-width="8.125" opacity="0.55"/>
<path d="M240.0 423.4 C242.3 423.6 250.5 423.2 254.2 425.0 C258.0 426.9 261.2 432.7 262.6 434.3" fill="none" stroke="#B07A4C" stroke-width="9.375" opacity="0.55"/>
<path d="M218.1 456.9 C219.8 458.1 224.3 462.4 228.2 463.6 C232.1 464.9 239.4 464.3 241.6 464.5" fill="none" stroke="#B07A4C" stroke-width="7.5" opacity="0.55"/>
<path d="M203.0 383.1 C203.5 387.0 205.3 399.0 205.6 406.6 C205.8 414.1 203.5 420.8 204.7 428.4 C206.0 436.0 212.5 446.0 213.1 451.9 C213.7 457.8 208.9 461.7 208.1 463.6" fill="none" stroke="#B07A4C" stroke-width="5.625" opacity="0.55"/>
<path d="M216.5 377.2 C215.2 380.7 209.9 390.5 208.9 398.2 C207.9 405.9 209.2 415.8 210.6 423.4 C212.0 430.9 215.2 438.5 217.3 443.5 C219.4 448.5 221.1 452.3 223.2 453.6 C225.3 454.8 227.8 453.9 229.9 451.1 C232.0 448.3 234.2 442.1 235.8 436.8 C237.3 431.5 239.1 424.8 239.1 419.2 C239.1 413.6 238.0 409.2 235.8 403.2 C233.5 397.2 228.5 387.4 225.7 383.1 C222.9 378.7 220.1 378.2 219.0 377.2" fill="none" stroke="#7F4320" stroke-width="8.2" />
<path d="M239.1 419.2 C241.5 418.6 249.1 416.5 253.4 415.8 C257.7 415.1 262.1 417.2 265.1 415.0 C268.2 412.7 269.3 405.2 271.9 402.4 C274.4 399.6 278.0 397.3 280.3 398.2 C282.5 399.0 282.8 405.4 285.3 407.4 C287.8 409.4 292.6 412.8 295.4 410.3 C298.2 407.7 298.7 396.0 302.1 392.3 C305.4 388.6 311.6 389.6 315.5 388.1 C319.4 386.6 322.2 384.2 325.6 383.1 C328.9 382.0 334.0 381.7 335.7 381.4" fill="none" stroke="#7F4320" stroke-width="8.0" />
<path d="M246.7 450.2 C247.4 448.1 248.9 440.7 250.9 437.6 C252.8 434.6 256.5 431.3 258.4 431.8 C260.4 432.2 261.7 436.1 262.6 440.1 C263.5 444.2 262.3 452.5 263.8 456.1 C265.3 459.7 268.4 463.4 271.9 462.0 C275.3 460.6 281.7 453.2 284.5 447.7 C287.3 442.2 286.7 433.6 288.6 429.2 C290.6 424.9 293.1 421.8 296.2 421.7 C299.3 421.5 303.9 424.8 307.1 428.4 C310.3 432.0 312.3 438.5 315.5 443.5 C318.7 448.5 324.6 456.1 326.4 458.6" fill="none" stroke="#7F4320" stroke-width="10.5" />
<path d="M315.5 443.5 C315.2 439.7 313.3 427.4 313.8 420.8 C314.4 414.3 316.8 408.4 318.9 404.1 C321.0 399.7 323.6 395.8 326.4 394.8 C329.2 393.8 334.1 397.6 335.7 398.2" fill="none" stroke="#7F4320" stroke-width="6.5" />
<path d="M240.0 423.4 C242.3 423.6 250.5 423.2 254.2 425.0 C258.0 426.9 261.2 432.7 262.6 434.3" fill="none" stroke="#7F4320" stroke-width="7.5" />
<path d="M218.1 456.9 C219.8 458.1 224.3 462.4 228.2 463.6 C232.1 464.9 239.4 464.3 241.6 464.5" fill="none" stroke="#7F4320" stroke-width="6" />
<path d="M203.0 383.1 C203.5 387.0 205.3 399.0 205.6 406.6 C205.8 414.1 203.5 420.8 204.7 428.4 C206.0 436.0 212.5 446.0 213.1 451.9 C213.7 457.8 208.9 461.7 208.1 463.6" fill="none" stroke="#7F4320" stroke-width="4.5" />
<path d="M216.5 377.2 C215.2 380.7 209.9 390.5 208.9 398.2 C207.9 405.9 209.2 415.8 210.6 423.4 C212.0 430.9 215.2 438.5 217.3 443.5 C219.4 448.5 221.1 452.3 223.2 453.6 C225.3 454.8 227.8 453.9 229.9 451.1 C232.0 448.3 234.2 442.1 235.8 436.8 C237.3 431.5 239.1 424.8 239.1 419.2 C239.1 413.6 238.0 409.2 235.8 403.2 C233.5 397.2 228.5 387.4 225.7 383.1 C222.9 378.7 220.1 378.2 219.0 377.2" fill="none" stroke="#1C2A78" stroke-width="4.1" stroke-dasharray="1.5 2.8" opacity="0.7"/>
<path d="M216.5 377.2 C215.2 380.7 209.9 390.5 208.9 398.2 C207.9 405.9 209.2 415.8 210.6 423.4 C212.0 430.9 215.2 438.5 217.3 443.5 C219.4 448.5 221.1 452.3 223.2 453.6 C225.3 454.8 227.8 453.9 229.9 451.1 C232.0 448.3 234.2 442.1 235.8 436.8 C237.3 431.5 239.1 424.8 239.1 419.2 C239.1 413.6 238.0 409.2 235.8 403.2 C233.5 397.2 228.5 387.4 225.7 383.1 C222.9 378.7 220.1 378.2 219.0 377.2" fill="none" stroke="#3A1A0C" stroke-width="7.38" stroke-dasharray="0.6 2.4" stroke-dashoffset="1" opacity="0.35"/>
<path d="M239.1 419.2 C241.5 418.6 249.1 416.5 253.4 415.8 C257.7 415.1 262.1 417.2 265.1 415.0 C268.2 412.7 269.3 405.2 271.9 402.4 C274.4 399.6 278.0 397.3 280.3 398.2 C282.5 399.0 282.8 405.4 285.3 407.4 C287.8 409.4 292.6 412.8 295.4 410.3 C298.2 407.7 298.7 396.0 302.1 392.3 C305.4 388.6 311.6 389.6 315.5 388.1 C319.4 386.6 322.2 384.2 325.6 383.1 C328.9 382.0 334.0 381.7 335.7 381.4" fill="none" stroke="#1C2A78" stroke-width="4.0" stroke-dasharray="1.5 2.8" opacity="0.7"/>
<path d="M239.1 419.2 C241.5 418.6 249.1 416.5 253.4 415.8 C257.7 415.1 262.1 417.2 265.1 415.0 C268.2 412.7 269.3 405.2 271.9 402.4 C274.4 399.6 278.0 397.3 280.3 398.2 C282.5 399.0 282.8 405.4 285.3 407.4 C287.8 409.4 292.6 412.8 295.4 410.3 C298.2 407.7 298.7 396.0 302.1 392.3 C305.4 388.6 311.6 389.6 315.5 388.1 C319.4 386.6 322.2 384.2 325.6 383.1 C328.9 382.0 334.0 381.7 335.7 381.4" fill="none" stroke="#3A1A0C" stroke-width="7.2" stroke-dasharray="0.6 2.4" stroke-dashoffset="1" opacity="0.35"/>
<path d="M246.7 450.2 C247.4 448.1 248.9 440.7 250.9 437.6 C252.8 434.6 256.5 431.3 258.4 431.8 C260.4 432.2 261.7 436.1 262.6 440.1 C263.5 444.2 262.3 452.5 263.8 456.1 C265.3 459.7 268.4 463.4 271.9 462.0 C275.3 460.6 281.7 453.2 284.5 447.7 C287.3 442.2 286.7 433.6 288.6 429.2 C290.6 424.9 293.1 421.8 296.2 421.7 C299.3 421.5 303.9 424.8 307.1 428.4 C310.3 432.0 312.3 438.5 315.5 443.5 C318.7 448.5 324.6 456.1 326.4 458.6" fill="none" stroke="#1C2A78" stroke-width="5.25" stroke-dasharray="1.5 2.8" opacity="0.7"/>
<path d="M246.7 450.2 C247.4 448.1 248.9 440.7 250.9 437.6 C252.8 434.6 256.5 431.3 258.4 431.8 C260.4 432.2 261.7 436.1 262.6 440.1 C263.5 444.2 262.3 452.5 263.8 456.1 C265.3 459.7 268.4 463.4 271.9 462.0 C275.3 460.6 281.7 453.2 284.5 447.7 C287.3 442.2 286.7 433.6 288.6 429.2 C290.6 424.9 293.1 421.8 296.2 421.7 C299.3 421.5 303.9 424.8 307.1 428.4 C310.3 432.0 312.3 438.5 315.5 443.5 C318.7 448.5 324.6 456.1 326.4 458.6" fill="none" stroke="#3A1A0C" stroke-width="9.450000000000001" stroke-dasharray="0.6 2.4" stroke-dashoffset="1" opacity="0.35"/>
<path d="M315.5 443.5 C315.2 439.7 313.3 427.4 313.8 420.8 C314.4 414.3 316.8 408.4 318.9 404.1 C321.0 399.7 323.6 395.8 326.4 394.8 C329.2 393.8 334.1 397.6 335.7 398.2" fill="none" stroke="#1C2A78" stroke-width="3.25" stroke-dasharray="1.5 2.8" opacity="0.7"/>
<path d="M315.5 443.5 C315.2 439.7 313.3 427.4 313.8 420.8 C314.4 414.3 316.8 408.4 318.9 404.1 C321.0 399.7 323.6 395.8 326.4 394.8 C329.2 393.8 334.1 397.6 335.7 398.2" fill="none" stroke="#3A1A0C" stroke-width="5.8500000000000005" stroke-dasharray="0.6 2.4" stroke-dashoffset="1" opacity="0.35"/>
<path d="M240.0 423.4 C242.3 423.6 250.5 423.2 254.2 425.0 C258.0 426.9 261.2 432.7 262.6 434.3" fill="none" stroke="#1C2A78" stroke-width="3.75" stroke-dasharray="1.5 2.8" opacity="0.7"/>
<path d="M240.0 423.4 C242.3 423.6 250.5 423.2 254.2 425.0 C258.0 426.9 261.2 432.7 262.6 434.3" fill="none" stroke="#3A1A0C" stroke-width="6.75" stroke-dasharray="0.6 2.4" stroke-dashoffset="1" opacity="0.35"/>
<path d="M218.1 456.9 C219.8 458.1 224.3 462.4 228.2 463.6 C232.1 464.9 239.4 464.3 241.6 464.5" fill="none" stroke="#1C2A78" stroke-width="3.0" stroke-dasharray="1.5 2.8" opacity="0.7"/>
<path d="M218.1 456.9 C219.8 458.1 224.3 462.4 228.2 463.6 C232.1 464.9 239.4 464.3 241.6 464.5" fill="none" stroke="#3A1A0C" stroke-width="5.4" stroke-dasharray="0.6 2.4" stroke-dashoffset="1" opacity="0.35"/>
<path d="M203.0 383.1 C203.5 387.0 205.3 399.0 205.6 406.6 C205.8 414.1 203.5 420.8 204.7 428.4 C206.0 436.0 212.5 446.0 213.1 451.9 C213.7 457.8 208.9 461.7 208.1 463.6" fill="none" stroke="#1C2A78" stroke-width="2.25" stroke-dasharray="1.5 2.8" opacity="0.7"/>
<path d="M203.0 383.1 C203.5 387.0 205.3 399.0 205.6 406.6 C205.8 414.1 203.5 420.8 204.7 428.4 C206.0 436.0 212.5 446.0 213.1 451.9 C213.7 457.8 208.9 461.7 208.1 463.6" fill="none" stroke="#3A1A0C" stroke-width="4.05" stroke-dasharray="0.6 2.4" stroke-dashoffset="1" opacity="0.35"/>
</g>
<rect x="202.20" y="376.30" width="132.10" height="87.00" fill="#000" filter="url(#eWhite2)" opacity="0.5"/>
</g></g>
<g clip-path="url(#ec2)"><g filter="url(#eSoft)">
<rect x="61.00" y="465.40" width="132.10" height="88.80" fill="#E9DFD2" />
<path d="M59.7 464.7 C78.7 457.7 156.2 461.6 173.8 464.7 C191.5 467.8 169.1 477.8 165.4 483.1 C161.8 488.5 158.2 493.2 152.0 496.6 C145.9 499.9 137.2 502.4 128.5 503.3 C119.8 504.1 108.4 502.0 100.0 501.6 C91.6 501.2 84.9 499.9 78.1 500.8 C71.4 501.6 62.8 512.7 59.7 506.6 C56.6 500.6 40.7 471.7 59.7 464.7 Z" fill="#EAD5AC" />
<path d="M59.7 464.7 C78.7 457.7 156.2 461.6 173.8 464.7 C191.5 467.8 169.1 477.8 165.4 483.1 C161.8 488.5 158.2 493.2 152.0 496.6 C145.9 499.9 137.2 502.4 128.5 503.3 C119.8 504.1 108.4 502.0 100.0 501.6 C91.6 501.2 84.9 499.9 78.1 500.8 C71.4 501.6 62.8 512.7 59.7 506.6 C56.6 500.6 40.7 471.7 59.7 464.7 Z" fill="#000" filter="url(#eBrownL)"/>
<path d="M59.7 464.7 C78.7 457.7 156.2 461.6 173.8 464.7 C191.5 467.8 169.1 477.8 165.4 483.1 C161.8 488.5 158.2 493.2 152.0 496.6 C145.9 499.9 137.2 502.4 128.5 503.3 C119.8 504.1 108.4 502.0 100.0 501.6 C91.6 501.2 84.9 499.9 78.1 500.8 C71.4 501.6 62.8 512.7 59.7 506.6 C56.6 500.6 40.7 471.7 59.7 464.7 Z" fill="#000" filter="url(#eWhite)"/>
<g filter="url(#eR3)" fill="#FAF6EE">
<ellipse cx="108.36" cy="483.14" rx="7.55" ry="5.88" fill="#FAF6EE" />
<ellipse cx="83.18" cy="491.54" rx="5.04" ry="3.69" fill="#FAF6EE" />
<ellipse cx="128.51" cy="474.75" rx="6.71" ry="4.20" fill="#FAF6EE" />
<ellipse cx="73.11" cy="473.07" rx="4.20" ry="3.02" fill="#FAF6EE" />
<ellipse cx="145.29" cy="486.50" rx="4.70" ry="3.69" fill="#FAF6EE" />
<ellipse cx="96.61" cy="472.23" rx="4.20" ry="2.52" fill="#FAF6EE" />
</g>
<rect x="61.00" y="503.40" width="132.10" height="50.80" fill="#000" filter="url(#eStroma)" opacity="0.4"/>
<g filter="url(#eR3)" fill="#EFE7DC" stroke="#3B4A9A" stroke-width="1.5">
<path d="M61.9 557.0 C61.9 550.4 61.7 525.8 62.2 517.6 C62.7 509.4 63.9 509.8 65.1 507.8 C66.2 505.9 67.9 505.8 69.3 505.8 C70.8 505.8 72.4 505.9 73.6 507.8 C74.8 509.8 75.9 509.4 76.5 517.6 C77.0 525.8 76.7 550.4 76.8 557.0" fill="#F1EBE3" stroke="#4A579E" stroke-width="1.1" />
<path d="M76.5 557.0 C76.5 550.3 76.3 525.1 76.8 516.7 C77.3 508.4 78.4 508.9 79.6 507.0 C80.7 505.0 82.4 505.0 83.8 505.0 C85.2 505.0 86.8 505.0 87.9 507.0 C89.1 508.9 90.2 508.4 90.7 516.7 C91.3 525.1 91.0 550.3 91.1 557.0" fill="#F1EBE3" stroke="#4A579E" stroke-width="1.1" />
<path d="M92.1 557.0 C92.1 551.2 91.9 529.5 92.4 522.1 C92.9 514.6 94.1 514.3 95.3 512.4 C96.5 510.4 98.1 510.3 99.5 510.3 C101.0 510.3 102.6 510.4 103.8 512.4 C105.0 514.3 106.2 514.6 106.7 522.1 C107.2 529.5 107.0 551.2 107.0 557.0" fill="#F1EBE3" stroke="#4A579E" stroke-width="1.1" />
<path d="M110.4 557.0 C110.1 551.5 108.8 530.9 109.0 523.8 C109.2 516.6 110.4 516.0 111.6 514.0 C112.7 512.1 114.5 512.0 116.1 512.0 C117.6 512.0 119.4 512.1 120.8 514.0 C122.2 516.0 123.5 516.6 124.4 523.8 C125.4 530.9 126.2 551.5 126.5 557.0" fill="#F1EBE3" stroke="#4A579E" stroke-width="1.1" />
<path d="M129.6 557.0 C129.0 550.9 126.4 528.1 126.0 520.4 C125.7 512.7 126.6 512.6 127.4 510.7 C128.2 508.7 129.6 508.7 130.9 508.7 C132.1 508.7 133.5 508.7 134.7 510.7 C135.9 512.6 136.9 512.7 138.1 520.4 C139.4 528.1 141.6 550.9 142.3 557.0" fill="#F1EBE3" stroke="#4A579E" stroke-width="1.1" />
<path d="M146.1 557.0 C144.9 550.3 140.3 525.1 139.3 516.7 C138.3 508.4 139.4 508.9 140.1 507.0 C140.9 505.0 142.3 505.0 143.6 505.0 C144.9 505.0 146.4 505.0 147.8 507.0 C149.2 508.9 150.1 508.4 152.1 516.7 C154.0 525.1 158.3 550.3 159.5 557.0" fill="#F1EBE3" stroke="#4A579E" stroke-width="1.1" />
<path d="M167.0 557.0 C164.7 548.9 155.7 518.1 153.4 508.3 C151.0 498.6 152.5 500.5 153.0 498.6 C153.4 496.6 154.8 496.6 156.0 496.6 C157.2 496.6 158.7 496.6 160.2 498.6 C161.8 500.5 162.2 498.6 165.4 508.3 C168.7 518.1 177.4 548.9 179.7 557.0" fill="#F1EBE3" stroke="#4A579E" stroke-width="1.1" />
<path d="M191.1 557.0 C187.2 547.2 171.8 509.7 167.7 498.3 C163.5 486.8 166.0 490.5 166.3 488.5 C166.5 486.6 168.0 486.5 169.2 486.5 C170.5 486.5 172.0 486.6 173.8 488.5 C175.6 490.5 175.2 486.8 180.3 498.3 C185.3 509.7 200.3 547.2 204.3 557.0" fill="#F1EBE3" stroke="#4A579E" stroke-width="1.1" />
<path d="M213.7 557.0 C208.3 545.8 186.9 502.7 181.2 489.9 C175.5 477.0 179.2 482.1 179.5 480.1 C179.8 478.2 181.6 478.1 183.1 478.1 C184.6 478.1 186.4 478.2 188.6 480.1 C190.8 482.1 189.5 477.0 196.3 489.9 C203.2 502.7 223.9 545.8 229.4 557.0" fill="#F1EBE3" stroke="#4A579E" stroke-width="1.1" />
<ellipse cx="182.22" cy="472.23" rx="6.38" ry="5.04" fill="#EFE7DC" stroke="#3B4A9A" stroke-width="1.3" />
<ellipse cx="190.62" cy="491.54" rx="4.20" ry="10.07" fill="#EFE7DC" stroke="#3B4A9A" stroke-width="1.3" />
</g>
<rect x="61.00" y="499.40" width="132.10" height="54.80" fill="#000" filter="url(#eCell)" opacity="0.3"/>
<rect x="61.00" y="465.40" width="132.10" height="88.80" fill="#000" filter="url(#eNavy)" opacity="0.5"/>
</g></g>
<g clip-path="url(#ec3)"><g filter="url(#eSoft)">
<rect x="202.20" y="465.40" width="132.10" height="88.80" fill="#E0D6CC" />
<rect x="202.20" y="465.40" width="132.10" height="88.80" fill="#000" filter="url(#eStroma)" opacity="0.55"/>
<g filter="url(#eR1)" fill="#F4F0EA" stroke="#2F3F98" stroke-width="3.4" stroke-linejoin="round">
<path d="M210.6 463.0 C210.5 470.0 208.8 495.7 209.8 505.0 C210.7 514.2 213.8 515.6 216.5 518.4 C219.1 521.2 222.5 522.3 225.7 521.8 C228.9 521.2 233.5 518.1 235.8 515.0 C238.0 512.0 238.4 512.0 239.1 503.3 C239.8 494.6 239.8 469.7 240.0 463.0" fill="#F3EFEB" stroke="#2C3A8E" stroke-width="2.3" />
<path d="M257.6 469.7 C261.0 470.0 266.1 472.0 268.5 476.4 C270.9 480.9 271.4 490.7 271.9 496.6 C272.3 502.4 272.6 507.3 271.0 511.7 C269.5 516.0 265.8 521.5 262.6 522.6 C259.4 523.7 254.5 521.1 251.7 518.4 C248.9 515.7 247.1 512.0 245.8 506.6 C244.6 501.3 243.7 491.8 244.2 486.5 C244.6 481.2 246.1 477.5 248.4 474.8 C250.6 472.0 254.2 469.4 257.6 469.7 Z" fill="#F3EFEB" stroke="#2C3A8E" stroke-width="2.3" />
<path d="M274.4 557.0 C274.7 550.3 274.9 525.7 276.1 516.7 C277.2 507.8 279.1 505.9 281.1 503.3 C283.1 500.6 285.6 499.7 287.8 500.8 C290.0 501.9 292.1 504.0 294.5 510.0 C296.9 516.0 300.0 529.0 302.1 536.9 C304.2 544.7 306.3 553.6 307.1 557.0" fill="#F3EFEB" stroke="#2C3A8E" stroke-width="2.3" />
<path d="M213.9 557.0 C214.8 552.8 216.9 538.1 219.0 531.8 C221.1 525.5 224.0 521.6 226.5 519.2 C229.1 516.9 231.4 516.6 234.1 517.6 C236.7 518.5 240.2 521.6 242.5 525.1 C244.7 528.6 246.2 533.2 247.5 538.5 C248.8 543.9 249.9 553.9 250.4 557.0" fill="#F3EFEB" stroke="#2C3A8E" stroke-width="2.3" />
<path d="M287.0 463.0 C288.9 468.6 294.0 484.5 298.7 496.6 C303.5 508.6 311.6 525.1 315.5 535.2 C319.4 545.3 318.6 553.4 322.2 557.0 C325.9 560.6 334.8 563.4 337.3 557.0 C339.8 550.6 340.4 529.9 337.3 518.4 C334.3 506.9 324.2 497.4 318.9 488.2 C313.6 478.9 307.7 467.2 305.4 463.0" fill="#F3EFEB" stroke="#2C3A8E" stroke-width="2.3" />
<path d="M315.5 463.0 C317.2 466.1 321.9 475.0 325.6 481.5 C329.2 487.9 335.4 504.7 337.3 501.6 C339.3 498.5 337.3 469.4 337.3 463.0" fill="#F3EFEB" stroke="#2C3A8E" stroke-width="2.3" />
<path d="M201.4 557.0 C201.9 553.1 204.4 540.8 204.7 533.5 C205.0 526.2 203.2 522.3 203.0 513.4 C202.9 504.4 204.2 488.2 203.9 479.8 C203.6 471.4 201.8 465.8 201.4 463.0" fill="none" stroke="#3F4D9C" stroke-width="2" />
</g>
<path d="M298.7 510.0 C299.8 513.4 302.9 523.4 305.4 530.1 C308.0 536.9 312.4 546.9 313.8 550.3" fill="none" stroke="#E4D3B4" stroke-width="3.5" opacity="0.8"/>
<path d="M281.9 528.5 C282.8 530.7 285.3 537.6 287.0 541.9 C288.6 546.2 291.2 552.4 292.0 554.5" fill="none" stroke="#E4D3B4" stroke-width="3.5" opacity="0.8"/>
<rect x="202.20" y="465.40" width="132.10" height="88.80" fill="#000" filter="url(#eCell2)" opacity="0.38"/>
<rect x="202.20" y="465.40" width="132.10" height="88.80" fill="#000" filter="url(#eNavy)" opacity="0.4"/>
<path d="M242.5 466.4 C242.6 470.0 242.3 480.3 243.3 488.2 C244.3 496.0 246.7 506.4 248.4 513.4 C250.0 520.4 252.6 527.4 253.4 530.1" fill="none" stroke="#A07840" stroke-width="1.2" opacity="0.8"/>
<path d="M265.1 473.1 C266.5 476.4 272.4 486.5 273.5 493.2 C274.7 499.9 272.1 510.0 271.9 513.4" fill="none" stroke="#A07840" stroke-width="1.2" opacity="0.8"/>
</g></g>
<rect x="61.00" y="376.30" width="132.10" height="87.00" fill="none" stroke="#333" stroke-width="1" />
<rect x="202.20" y="376.30" width="132.10" height="87.00" fill="none" stroke="#333" stroke-width="1" />
<rect x="61.00" y="465.40" width="132.10" height="88.80" fill="none" stroke="#333" stroke-width="1" />
<rect x="202.20" y="465.40" width="132.10" height="88.80" fill="none" stroke="#333" stroke-width="1" />
<rect x="118.20" y="408.70" width="66.30" height="43.60" fill="none" stroke="#E8141C" stroke-width="1.7" />
<line x1="184.50" y1="408.70" x2="202.20" y2="376.30" stroke="#E8141C" stroke-width="1.5" />
<line x1="184.50" y1="452.30" x2="202.20" y2="463.30" stroke="#E8141C" stroke-width="1.5" />
<rect x="90.20" y="509.50" width="66.40" height="44.50" fill="none" stroke="#E8141C" stroke-width="1.7" />
<line x1="156.60" y1="509.50" x2="202.20" y2="465.40" stroke="#E8141C" stroke-width="1.5" />
<line x1="156.60" y1="554.00" x2="202.20" y2="554.20" stroke="#E8141C" stroke-width="1.5" />
<rect x="69.20" y="458.70" width="26.80" height="2.80" fill="#D8141C" />
<text x="66.40" y="455.80" font-size="12.3" fill="#E8141C" textLength="34.5" lengthAdjust="spacingAndGlyphs">100um</text>
<rect x="162.50" y="547.50" width="26.30" height="2.60" fill="#D8141C" />
<text x="157.00" y="543.90" font-size="12.3" fill="#E8141C" textLength="34" lengthAdjust="spacingAndGlyphs">100um</text>
<rect x="303.00" y="458.30" width="27.00" height="2.70" fill="#D8141C" />
<text x="303.00" y="455.20" font-size="12.3" fill="#E8141C" textLength="27" lengthAdjust="spacingAndGlyphs">25um</text>
<rect x="302.60" y="550.00" width="26.40" height="2.60" fill="#D8141C" />
<text x="302.60" y="547.00" font-size="12.3" fill="#E8141C" textLength="27" lengthAdjust="spacingAndGlyphs">25um</text>
<path d="M151.2 454.3 L155.2 461.2 L147.2 461.2 Z" fill="#E8141C" />
<path d="M100.2 502 L107.6 498 L107.6 506 Z" fill="#E8141C" />
<!-- panel h -->
<text x="400.30" y="382.80" font-size="26">h</text>
<text x="588.80" y="380.50" font-size="17" text-anchor="middle">OLA1</text>
<line x1="516.00" y1="384.20" x2="648.00" y2="384.20" stroke="#000" stroke-width="1.3" />
<rect x="491.70" y="392.00" width="6.50" height="6.30" fill="#CFB0BC" />
<text x="502.00" y="398.20" font-size="11.5">High expression</text>
<rect x="591.20" y="392.00" width="6.50" height="6.30" fill="#A2D6E9" />
<text x="600.70" y="398.20" font-size="11.5">Low expression</text>
<circle cx="434.40" cy="434.70" r="28.00" fill="#A2D6E9" />
<path d="M434.40 434.70 L434.40 406.70 A28 28 0 0 1 455.63 452.95 Z" fill="#CFB0BC" />
<line x1="434.40" y1="434.70" x2="434.40" y2="406.20" stroke="#fff" stroke-width="2.0" />
<line x1="434.40" y1="434.70" x2="456.01" y2="453.28" stroke="#fff" stroke-width="2.0" />
<text x="447.50" y="435.00" font-size="11.4" text-anchor="middle">36.3</text>
<text x="420.50" y="443.70" font-size="11.4" text-anchor="middle">63.7</text>
<text x="432.00" y="471.20" font-size="11.5" text-anchor="middle">Prog: <tspan font-style="italic">n</tspan> = 91</text>
<circle cx="435.00" cy="505.00" r="28.00" fill="#A2D6E9" />
<path d="M435.00 505.00 L435.00 477.00 A28 28 0 0 1 453.25 483.77 Z" fill="#CFB0BC" />
<line x1="435.00" y1="505.00" x2="435.00" y2="476.50" stroke="#fff" stroke-width="2.0" />
<line x1="435.00" y1="505.00" x2="453.58" y2="483.39" stroke="#fff" stroke-width="2.0" />
<text x="445.50" y="487.00" font-size="11.4" text-anchor="middle">11.3</text>
<text x="434.50" y="518.00" font-size="11.4" text-anchor="middle">88.7</text>
<text x="435.00" y="543.00" font-size="11.5" text-anchor="middle">Alive: <tspan font-style="italic">n</tspan> = 53</text>
<circle cx="637.20" cy="434.70" r="28.00" fill="#A2D6E9" />
<path d="M637.20 434.70 L637.20 406.70 A28 28 0 0 1 659.11 452.14 Z" fill="#CFB0BC" />
<line x1="637.20" y1="434.70" x2="637.20" y2="406.20" stroke="#fff" stroke-width="2.0" />
<line x1="637.20" y1="434.70" x2="659.50" y2="452.45" stroke="#fff" stroke-width="2.0" />
<text x="650.00" y="433.70" font-size="11.4" text-anchor="middle">35.7</text>
<text x="624.50" y="442.00" font-size="11.4" text-anchor="middle">64.3</text>
<text x="638.70" y="472.50" font-size="11.5" text-anchor="middle">Dead: <tspan font-style="italic">n</tspan> = 98</text>
<circle cx="637.20" cy="504.50" r="28.00" fill="#A2D6E9" />
<path d="M637.20 504.50 L637.20 476.50 A28 28 0 0 1 651.75 480.58 Z" fill="#CFB0BC" />
<line x1="637.20" y1="504.50" x2="637.20" y2="476.00" stroke="#fff" stroke-width="2.0" />
<line x1="637.20" y1="504.50" x2="652.01" y2="480.15" stroke="#fff" stroke-width="2.0" />
<text x="643.70" y="487.50" font-size="11.4" text-anchor="middle">8.7</text>
<text x="631.00" y="520.00" font-size="11.4" text-anchor="middle">91.3</text>
<text x="643.00" y="543.00" font-size="11.5" text-anchor="middle">Alive: <tspan font-style="italic">n</tspan> = 46</text>
<rect x="515.50" y="433.00" width="12.00" height="61.20" fill="#A2D6E9" />
<rect x="515.50" y="494.20" width="12.00" height="35.30" fill="#CFB0BC" />
<rect x="555.50" y="473.20" width="12.00" height="49.80" fill="#A2D6E9" />
<rect x="555.50" y="523.00" width="12.00" height="6.50" fill="#CFB0BC" />
<line x1="527.50" y1="433.00" x2="555.50" y2="473.20" stroke="#000" stroke-width="0.9" />
<line x1="527.50" y1="494.20" x2="555.50" y2="523.00" stroke="#000" stroke-width="0.9" />
<line x1="505.50" y1="416.00" x2="505.50" y2="530.10" stroke="#000" stroke-width="1.3" />
<line x1="502.30" y1="529.50" x2="571.30" y2="529.50" stroke="#000" stroke-width="1.3" />
<line x1="502.30" y1="529.50" x2="505.50" y2="529.50" stroke="#000" stroke-width="1.1" />
<text x="500.50" y="533.80" font-size="12" text-anchor="end">0</text>
<line x1="502.30" y1="507.00" x2="505.50" y2="507.00" stroke="#000" stroke-width="1.1" />
<text x="500.50" y="511.30" font-size="12" text-anchor="end">20</text>
<line x1="502.30" y1="484.50" x2="505.50" y2="484.50" stroke="#000" stroke-width="1.1" />
<text x="500.50" y="488.80" font-size="12" text-anchor="end">40</text>
<line x1="502.30" y1="462.00" x2="505.50" y2="462.00" stroke="#000" stroke-width="1.1" />
<text x="500.50" y="466.30" font-size="12" text-anchor="end">60</text>
<line x1="502.30" y1="439.50" x2="505.50" y2="439.50" stroke="#000" stroke-width="1.1" />
<text x="500.50" y="443.80" font-size="12" text-anchor="end">80</text>
<text x="500.50" y="421.30" font-size="12" text-anchor="end">100</text>
<text x="478.70" y="480.00" font-size="11.5" transform="rotate(-90 478.70 480.00)" text-anchor="middle" textLength="112" lengthAdjust="spacingAndGlyphs">Frequency distribution</text>
<text x="521.00" y="468.00" font-size="12" text-anchor="middle">58</text>
<text x="521.00" y="515.00" font-size="12" text-anchor="middle">33</text>
<text x="561.30" y="501.00" font-size="12" text-anchor="middle">47</text>
<text x="561.00" y="528.70" font-size="11" text-anchor="middle">6</text>
<text x="523.00" y="542.50" font-size="12.1" text-anchor="middle">Dead</text>
<text x="563.00" y="542.50" font-size="12.1" text-anchor="middle">Alive</text>
<line x1="424.00" y1="548.20" x2="556.00" y2="548.20" stroke="#000" stroke-width="1.3" />
<text x="489.50" y="563.00" font-size="16.5" text-anchor="middle">DFS</text>
<rect x="722.50" y="440.70" width="12.20" height="56.30" fill="#A2D6E9" />
<rect x="722.50" y="497.00" width="12.20" height="30.50" fill="#CFB0BC" />
<rect x="762.50" y="488.00" width="12.20" height="36.00" fill="#A2D6E9" />
<rect x="762.50" y="524.00" width="12.20" height="3.50" fill="#CFB0BC" />
<line x1="734.70" y1="440.70" x2="762.50" y2="488.00" stroke="#000" stroke-width="0.9" />
<line x1="734.70" y1="497.00" x2="762.50" y2="524.00" stroke="#000" stroke-width="0.9" />
<line x1="712.00" y1="418.50" x2="712.00" y2="528.10" stroke="#000" stroke-width="1.3" />
<line x1="708.70" y1="527.50" x2="778.70" y2="527.50" stroke="#000" stroke-width="1.3" />
<line x1="708.70" y1="527.50" x2="712.00" y2="527.50" stroke="#000" stroke-width="1.1" />
<text x="706.50" y="531.80" font-size="12" text-anchor="end">0</text>
<line x1="708.70" y1="492.00" x2="712.00" y2="492.00" stroke="#000" stroke-width="1.1" />
<text x="706.50" y="496.30" font-size="12" text-anchor="end">40</text>
<line x1="708.70" y1="456.60" x2="712.00" y2="456.60" stroke="#000" stroke-width="1.1" />
<text x="706.50" y="460.90" font-size="12" text-anchor="end">80</text>
<line x1="708.70" y1="421.20" x2="712.00" y2="421.20" stroke="#000" stroke-width="1.1" />
<text x="706.50" y="425.50" font-size="12" text-anchor="end">120</text>
<text x="686.30" y="478.00" font-size="11.5" transform="rotate(-90 686.30 478.00)" text-anchor="middle" textLength="112" lengthAdjust="spacingAndGlyphs">Frequency distribution</text>
<text x="728.70" y="471.00" font-size="12" text-anchor="middle">63</text>
<text x="728.70" y="516.00" font-size="12" text-anchor="middle">35</text>
<text x="768.70" y="510.00" font-size="12" text-anchor="middle">42</text>
<text x="768.70" y="527.30" font-size="11" text-anchor="middle">4</text>
<text x="730.70" y="540.50" font-size="12.1" text-anchor="middle">Dead</text>
<text x="770.50" y="540.50" font-size="12.1" text-anchor="middle">Alive</text>
<line x1="635.00" y1="548.20" x2="767.50" y2="548.20" stroke="#000" stroke-width="1.3" />
<text x="701.00" y="562.50" font-size="16.5" text-anchor="middle">OS</text>
<!-- panel f -->
<text x="11.00" y="579.80" font-size="26">f</text>
<text font-size="16.5" transform="translate(113.70 582.00) scale(0.85 1)" text-anchor="middle"><tspan font-style="italic">P</tspan> &lt; 0.0001</text>
<rect x="68.60" y="586.20" width="95.40" height="144.80" fill="#fff" stroke="#111" stroke-width="1.2" />
<line x1="64.30" y1="730.00" x2="68.60" y2="730.00" stroke="#000" stroke-width="1.1" />
<text font-size="13" transform="translate(63.30 734.60) scale(0.95 1)" text-anchor="end" fill="#2A1D1D">0</text>
<line x1="64.30" y1="706.00" x2="68.60" y2="706.00" stroke="#000" stroke-width="1.1" />
<text font-size="13" transform="translate(63.30 710.60) scale(0.95 1)" text-anchor="end" fill="#2A1D1D">50</text>
<line x1="64.30" y1="682.20" x2="68.60" y2="682.20" stroke="#000" stroke-width="1.1" />
<text font-size="13" transform="translate(63.30 686.80) scale(0.95 1)" text-anchor="end" fill="#2A1D1D">100</text>
<line x1="64.30" y1="658.00" x2="68.60" y2="658.00" stroke="#000" stroke-width="1.1" />
<text font-size="13" transform="translate(63.30 662.60) scale(0.95 1)" text-anchor="end" fill="#2A1D1D">150</text>
<line x1="64.30" y1="634.00" x2="68.60" y2="634.00" stroke="#000" stroke-width="1.1" />
<text font-size="13" transform="translate(63.30 638.60) scale(0.95 1)" text-anchor="end" fill="#2A1D1D">200</text>
<line x1="64.30" y1="610.00" x2="68.60" y2="610.00" stroke="#000" stroke-width="1.1" />
<text font-size="13" transform="translate(63.30 614.60) scale(0.95 1)" text-anchor="end" fill="#2A1D1D">250</text>
<text x="31.00" y="662.50" font-size="15.5" transform="rotate(-90 31.00 662.50)" text-anchor="middle" fill="#2A1D1D" textLength="135" lengthAdjust="spacingAndGlyphs">Expression Score</text>
<clipPath id="vclip"><rect x="69" y="595.7" width="95" height="133"/></clipPath><g clip-path="url(#vclip)">
<path d="M88.1 590.0 C86.5 591.7 87.4 596.3 86.7 600.0 C86.0 603.7 84.8 607.8 83.8 612.0 C82.8 616.2 81.5 619.5 80.8 625.0 C80.0 630.5 79.8 638.3 79.3 645.0 C78.8 651.7 78.7 659.2 78.1 665.0 C77.5 670.8 76.6 675.5 75.8 680.0 C75.0 684.5 73.9 688.3 73.3 692.0 C72.7 695.7 72.3 698.7 72.3 702.0 C72.3 705.3 72.8 709.0 73.5 712.0 C74.2 715.0 75.5 717.7 76.8 720.0 C78.1 722.3 79.8 724.0 81.3 726.0 C82.8 728.0 82.9 731.0 85.8 732.0 C88.7 733.0 95.9 733.0 98.8 732.0 C101.7 731.0 101.8 728.0 103.3 726.0 C104.8 724.0 106.5 722.3 107.8 720.0 C109.1 717.7 110.3 715.0 111.1 712.0 C111.8 709.0 112.3 705.3 112.3 702.0 C112.3 698.7 111.9 695.7 111.3 692.0 C110.7 688.3 109.6 684.5 108.8 680.0 C108.0 675.5 107.1 670.8 106.5 665.0 C105.9 659.2 105.8 651.7 105.3 645.0 C104.8 638.3 104.5 630.5 103.8 625.0 C103.0 619.5 101.8 616.2 100.8 612.0 C99.8 607.8 98.6 603.7 97.9 600.0 C97.2 596.3 98.1 591.7 96.5 590.0 C94.9 588.3 89.7 588.3 88.1 590.0 Z" fill="#5FC0DE" />
<path d="M139.8 590.0 C139.7 596.7 139.7 620.0 139.5 630.0 C139.3 640.0 139.1 644.2 138.8 650.0 C138.5 655.8 138.2 660.0 137.7 665.0 C137.2 670.0 136.7 675.5 136.0 680.0 C135.3 684.5 134.6 688.3 133.5 692.0 C132.4 695.7 130.9 699.0 129.5 702.0 C128.1 705.0 126.4 707.7 125.0 710.0 C123.6 712.3 122.0 714.2 121.2 716.0 C120.4 717.8 119.9 719.5 120.0 721.0 C120.1 722.5 120.7 723.8 122.0 725.0 C123.3 726.2 125.7 727.8 128.0 728.5 C130.3 729.2 133.3 729.3 136.0 729.5 C138.7 729.7 141.3 729.7 144.0 729.5 C146.7 729.3 149.7 729.2 152.0 728.5 C154.3 727.8 156.7 726.2 158.0 725.0 C159.3 723.8 159.9 722.5 160.0 721.0 C160.1 719.5 159.6 717.8 158.8 716.0 C158.0 714.2 156.4 712.3 155.0 710.0 C153.6 707.7 151.9 705.0 150.5 702.0 C149.1 699.0 147.6 695.7 146.5 692.0 C145.4 688.3 144.7 684.5 144.0 680.0 C143.3 675.5 142.8 670.0 142.3 665.0 C141.8 660.0 141.5 655.8 141.2 650.0 C140.9 644.2 140.7 640.0 140.5 630.0 C140.3 620.0 140.3 596.7 140.2 590.0 C140.1 583.3 139.9 583.3 139.8 590.0 Z" fill="#D3B5BE" />
</g>
<line x1="92.30" y1="595.70" x2="92.30" y2="728.70" stroke="#000" stroke-width="1.2" />
<rect x="90.40" y="645.00" width="4.00" height="59.20" fill="#000" rx="0.8" />
<ellipse cx="92.40" cy="688.70" rx="1.10" ry="1.50" fill="#fff" />
<line x1="140.00" y1="663.00" x2="140.00" y2="728.70" stroke="#000" stroke-width="1.2" />
<rect x="138.00" y="700.00" width="4.00" height="25.00" fill="#000" rx="0.8" />
<ellipse cx="140.00" cy="717.00" rx="1.10" ry="1.50" fill="#fff" />
<text x="94.30" y="747.00" font-size="14" text-anchor="middle">CRC</text>
<text x="141.50" y="747.00" font-size="14" text-anchor="middle">Ctrl</text>
<line x1="89.30" y1="752.50" x2="143.50" y2="752.50" stroke="#000" stroke-width="1.3" />
<text x="113.70" y="768.00" font-size="14.9" text-anchor="middle">OLA1</text>
<!-- panel g -->
<text x="174.20" y="579.80" font-size="26">g</text>
<text font-size="16.5" transform="translate(298.00 593.70) scale(0.92 1)" text-anchor="middle"><tspan font-style="italic">P</tspan> &lt; 0.0001</text>
<g fill="#1BB0D5">
<ellipse cx="229.10" cy="610.62" rx="2.75" ry="3.30" fill="#1BB0D5" />
<ellipse cx="233.09" cy="616.61" rx="2.75" ry="3.30" fill="#1BB0D5" />
<ellipse cx="232.84" cy="625.34" rx="2.75" ry="3.30" fill="#1BB0D5" />
<ellipse cx="229.10" cy="628.58" rx="2.75" ry="3.30" fill="#1BB0D5" />
<ellipse cx="231.60" cy="629.33" rx="2.75" ry="3.30" fill="#1BB0D5" />
<ellipse cx="234.09" cy="663.49" rx="2.75" ry="3.30" fill="#1BB0D5" />
<ellipse cx="236.58" cy="677.21" rx="2.75" ry="3.30" fill="#1BB0D5" />
<ellipse cx="237.83" cy="691.67" rx="2.75" ry="3.30" fill="#1BB0D5" />
<ellipse cx="232.34" cy="694.66" rx="2.75" ry="3.30" fill="#1BB0D5" />
<ellipse cx="229.10" cy="696.66" rx="2.75" ry="3.30" fill="#1BB0D5" />
<ellipse cx="227.86" cy="699.65" rx="2.75" ry="3.30" fill="#1BB0D5" />
<ellipse cx="236.83" cy="700.90" rx="2.75" ry="3.30" fill="#1BB0D5" />
<ellipse cx="237.33" cy="705.89" rx="2.75" ry="3.30" fill="#1BB0D5" />
<ellipse cx="227.86" cy="705.89" rx="2.75" ry="3.30" fill="#1BB0D5" />
<ellipse cx="229.85" cy="709.63" rx="2.75" ry="3.30" fill="#1BB0D5" />
<ellipse cx="227.86" cy="712.62" rx="2.75" ry="3.30" fill="#1BB0D5" />
<ellipse cx="234.09" cy="712.62" rx="2.75" ry="3.30" fill="#1BB0D5" />
<ellipse cx="231.10" cy="715.86" rx="2.75" ry="3.30" fill="#1BB0D5" />
<ellipse cx="235.34" cy="717.86" rx="2.75" ry="3.30" fill="#1BB0D5" />
<ellipse cx="229.10" cy="722.09" rx="2.75" ry="3.30" fill="#1BB0D5" />
<ellipse cx="232.34" cy="723.34" rx="2.75" ry="3.30" fill="#1BB0D5" />
<ellipse cx="231.10" cy="724.59" rx="2.75" ry="3.30" fill="#1BB0D5" />
<ellipse cx="244.06" cy="689.18" rx="2.75" ry="3.30" fill="#1BB0D5" />
<ellipse cx="269.00" cy="605.39" rx="2.75" ry="3.30" fill="#1BB0D5" />
<ellipse cx="277.73" cy="617.36" rx="2.75" ry="3.30" fill="#1BB0D5" />
<ellipse cx="257.28" cy="623.59" rx="2.75" ry="3.30" fill="#1BB0D5" />
<ellipse cx="285.21" cy="632.32" rx="2.75" ry="3.30" fill="#1BB0D5" />
<ellipse cx="271.00" cy="634.06" rx="2.75" ry="3.30" fill="#1BB0D5" />
<ellipse cx="268.50" cy="635.56" rx="2.75" ry="3.30" fill="#1BB0D5" />
<ellipse cx="262.27" cy="636.81" rx="2.75" ry="3.30" fill="#1BB0D5" />
<ellipse cx="267.26" cy="649.03" rx="2.75" ry="3.30" fill="#1BB0D5" />
<ellipse cx="278.98" cy="652.77" rx="2.75" ry="3.30" fill="#1BB0D5" />
<ellipse cx="297.18" cy="649.03" rx="2.75" ry="3.30" fill="#1BB0D5" />
<ellipse cx="272.24" cy="658.50" rx="2.75" ry="3.30" fill="#1BB0D5" />
<ellipse cx="274.74" cy="662.24" rx="2.75" ry="3.30" fill="#1BB0D5" />
<ellipse cx="264.26" cy="664.24" rx="2.75" ry="3.30" fill="#1BB0D5" />
<ellipse cx="266.01" cy="664.24" rx="2.75" ry="3.30" fill="#1BB0D5" />
<ellipse cx="277.23" cy="664.74" rx="2.75" ry="3.30" fill="#1BB0D5" />
<ellipse cx="282.22" cy="664.74" rx="2.75" ry="3.30" fill="#1BB0D5" />
<ellipse cx="274.24" cy="666.73" rx="2.75" ry="3.30" fill="#1BB0D5" />
<ellipse cx="272.99" cy="673.47" rx="2.75" ry="3.30" fill="#1BB0D5" />
<ellipse cx="279.73" cy="675.21" rx="2.75" ry="3.30" fill="#1BB0D5" />
<ellipse cx="277.73" cy="677.21" rx="2.75" ry="3.30" fill="#1BB0D5" />
<ellipse cx="275.99" cy="680.95" rx="2.75" ry="3.30" fill="#1BB0D5" />
<ellipse cx="263.52" cy="682.19" rx="2.75" ry="3.30" fill="#1BB0D5" />
<ellipse cx="279.73" cy="687.18" rx="2.75" ry="3.30" fill="#1BB0D5" />
<ellipse cx="285.96" cy="688.43" rx="2.75" ry="3.30" fill="#1BB0D5" />
<ellipse cx="252.29" cy="689.68" rx="2.75" ry="3.30" fill="#1BB0D5" />
<ellipse cx="254.04" cy="692.17" rx="2.75" ry="3.30" fill="#1BB0D5" />
<ellipse cx="268.50" cy="690.92" rx="2.75" ry="3.30" fill="#1BB0D5" />
<ellipse cx="263.52" cy="691.67" rx="2.75" ry="3.30" fill="#1BB0D5" />
<ellipse cx="258.53" cy="694.66" rx="2.75" ry="3.30" fill="#1BB0D5" />
<ellipse cx="280.97" cy="694.66" rx="2.75" ry="3.30" fill="#1BB0D5" />
<ellipse cx="287.21" cy="695.91" rx="2.75" ry="3.30" fill="#1BB0D5" />
<ellipse cx="254.79" cy="697.16" rx="2.75" ry="3.30" fill="#1BB0D5" />
<ellipse cx="266.01" cy="695.91" rx="2.75" ry="3.30" fill="#1BB0D5" />
<ellipse cx="272.24" cy="697.16" rx="2.75" ry="3.30" fill="#1BB0D5" />
<ellipse cx="260.52" cy="699.65" rx="2.75" ry="3.30" fill="#1BB0D5" />
<ellipse cx="288.45" cy="698.40" rx="2.75" ry="3.30" fill="#1BB0D5" />
<ellipse cx="258.53" cy="702.14" rx="2.75" ry="3.30" fill="#1BB0D5" />
<ellipse cx="261.77" cy="703.39" rx="2.75" ry="3.30" fill="#1BB0D5" />
<ellipse cx="278.48" cy="704.64" rx="2.75" ry="3.30" fill="#1BB0D5" />
<ellipse cx="281.47" cy="707.13" rx="2.75" ry="3.30" fill="#1BB0D5" />
<ellipse cx="290.95" cy="707.63" rx="2.75" ry="3.30" fill="#1BB0D5" />
<ellipse cx="266.01" cy="707.13" rx="2.75" ry="3.30" fill="#1BB0D5" />
<ellipse cx="258.53" cy="710.87" rx="2.75" ry="3.30" fill="#1BB0D5" />
<ellipse cx="262.27" cy="711.62" rx="2.75" ry="3.30" fill="#1BB0D5" />
<ellipse cx="266.01" cy="709.63" rx="2.75" ry="3.30" fill="#1BB0D5" />
<ellipse cx="282.72" cy="711.62" rx="2.75" ry="3.30" fill="#1BB0D5" />
<ellipse cx="251.55" cy="715.11" rx="2.75" ry="3.30" fill="#1BB0D5" />
<ellipse cx="285.96" cy="714.61" rx="2.75" ry="3.30" fill="#1BB0D5" />
<ellipse cx="284.21" cy="718.35" rx="2.75" ry="3.30" fill="#1BB0D5" />
<ellipse cx="274.74" cy="720.85" rx="2.75" ry="3.30" fill="#1BB0D5" />
<ellipse cx="276.48" cy="723.34" rx="2.75" ry="3.30" fill="#1BB0D5" />
<ellipse cx="315.39" cy="609.38" rx="2.75" ry="3.30" fill="#1BB0D5" />
<ellipse cx="329.60" cy="619.85" rx="2.75" ry="3.30" fill="#1BB0D5" />
<ellipse cx="322.12" cy="624.34" rx="2.75" ry="3.30" fill="#1BB0D5" />
<ellipse cx="330.85" cy="625.34" rx="2.75" ry="3.30" fill="#1BB0D5" />
<ellipse cx="345.31" cy="624.34" rx="2.75" ry="3.30" fill="#1BB0D5" />
<ellipse cx="353.29" cy="622.34" rx="2.75" ry="3.30" fill="#1BB0D5" />
<ellipse cx="355.79" cy="622.34" rx="2.75" ry="3.30" fill="#1BB0D5" />
<ellipse cx="337.58" cy="630.32" rx="2.75" ry="3.30" fill="#1BB0D5" />
<ellipse cx="345.81" cy="629.33" rx="2.75" ry="3.30" fill="#1BB0D5" />
<ellipse cx="327.11" cy="634.81" rx="2.75" ry="3.30" fill="#1BB0D5" />
<ellipse cx="330.85" cy="636.81" rx="2.75" ry="3.30" fill="#1BB0D5" />
<ellipse cx="340.32" cy="637.31" rx="2.75" ry="3.30" fill="#1BB0D5" />
<ellipse cx="354.54" cy="637.31" rx="2.75" ry="3.30" fill="#1BB0D5" />
<ellipse cx="355.79" cy="638.55" rx="2.75" ry="3.30" fill="#1BB0D5" />
<ellipse cx="353.29" cy="640.30" rx="2.75" ry="3.30" fill="#1BB0D5" />
<ellipse cx="346.56" cy="641.05" rx="2.75" ry="3.30" fill="#1BB0D5" />
<ellipse cx="355.04" cy="641.80" rx="2.75" ry="3.30" fill="#1BB0D5" />
<ellipse cx="341.57" cy="646.03" rx="2.75" ry="3.30" fill="#1BB0D5" />
<ellipse cx="344.06" cy="647.28" rx="2.75" ry="3.30" fill="#1BB0D5" />
<ellipse cx="324.61" cy="648.03" rx="2.75" ry="3.30" fill="#1BB0D5" />
<ellipse cx="349.55" cy="649.28" rx="2.75" ry="3.30" fill="#1BB0D5" />
<ellipse cx="344.56" cy="654.26" rx="2.75" ry="3.30" fill="#1BB0D5" />
<ellipse cx="317.88" cy="661.50" rx="2.75" ry="3.30" fill="#1BB0D5" />
<ellipse cx="351.30" cy="658.50" rx="2.75" ry="3.30" fill="#1BB0D5" />
<ellipse cx="350.80" cy="662.24" rx="2.75" ry="3.30" fill="#1BB0D5" />
<ellipse cx="330.35" cy="665.99" rx="2.75" ry="3.30" fill="#1BB0D5" />
<ellipse cx="344.56" cy="665.99" rx="2.75" ry="3.30" fill="#1BB0D5" />
<ellipse cx="348.30" cy="668.48" rx="2.75" ry="3.30" fill="#1BB0D5" />
<ellipse cx="337.08" cy="668.48" rx="2.75" ry="3.30" fill="#1BB0D5" />
<ellipse cx="345.81" cy="669.73" rx="2.75" ry="3.30" fill="#1BB0D5" />
<ellipse cx="335.09" cy="675.96" rx="2.75" ry="3.30" fill="#1BB0D5" />
<ellipse cx="340.32" cy="679.70" rx="2.75" ry="3.30" fill="#1BB0D5" />
<ellipse cx="345.31" cy="688.43" rx="2.75" ry="3.30" fill="#1BB0D5" />
<ellipse cx="348.05" cy="692.17" rx="2.75" ry="3.30" fill="#1BB0D5" />
<ellipse cx="326.61" cy="697.16" rx="2.75" ry="3.30" fill="#1BB0D5" />
<ellipse cx="335.34" cy="698.90" rx="2.75" ry="3.30" fill="#1BB0D5" />
<ellipse cx="320.37" cy="705.89" rx="2.75" ry="3.30" fill="#1BB0D5" />
<ellipse cx="351.55" cy="710.12" rx="2.75" ry="3.30" fill="#1BB0D5" />
<ellipse cx="355.04" cy="710.12" rx="2.75" ry="3.30" fill="#1BB0D5" />
<ellipse cx="317.38" cy="721.60" rx="2.75" ry="3.30" fill="#1BB0D5" />
<ellipse cx="331.60" cy="720.10" rx="2.75" ry="3.30" fill="#1BB0D5" />
</g>
<line x1="227.00" y1="693.00" x2="356.20" y2="655.00" stroke="#000" stroke-width="2.6" stroke-dasharray="2.6 1.5"/>
<line x1="221.70" y1="601.50" x2="221.70" y2="728.60" stroke="#000" stroke-width="1.3" />
<line x1="217.30" y1="728.00" x2="367.00" y2="728.00" stroke="#000" stroke-width="1.3" />
<line x1="217.30" y1="728.00" x2="221.70" y2="728.00" stroke="#000" stroke-width="1.1" />
<text x="215.30" y="732.50" font-size="12.5" text-anchor="end">0</text>
<line x1="217.30" y1="686.50" x2="221.70" y2="686.50" stroke="#000" stroke-width="1.1" />
<text x="215.30" y="691.00" font-size="12.5" text-anchor="end">100</text>
<line x1="217.30" y1="645.00" x2="221.70" y2="645.00" stroke="#000" stroke-width="1.1" />
<text x="215.30" y="649.50" font-size="12.5" text-anchor="end">200</text>
<line x1="217.30" y1="603.30" x2="221.70" y2="603.30" stroke="#000" stroke-width="1.1" />
<text x="215.30" y="607.80" font-size="12.5" text-anchor="end">300</text>
<line x1="221.70" y1="728.00" x2="221.70" y2="732.00" stroke="#000" stroke-width="1.1" />
<text x="221.70" y="745.00" font-size="12.5" text-anchor="middle">0</text>
<line x1="268.60" y1="728.00" x2="268.60" y2="732.00" stroke="#000" stroke-width="1.1" />
<text x="268.60" y="745.00" font-size="12.5" text-anchor="middle">100</text>
<line x1="315.40" y1="728.00" x2="315.40" y2="732.00" stroke="#000" stroke-width="1.1" />
<text x="315.40" y="745.00" font-size="12.5" text-anchor="middle">200</text>
<line x1="362.00" y1="728.00" x2="362.00" y2="732.00" stroke="#000" stroke-width="1.1" />
<text x="362.00" y="745.00" font-size="12.5" text-anchor="middle">300</text>
<text x="187.80" y="661.00" font-size="15.2" transform="rotate(-90 187.80 661.00)" text-anchor="middle">ZFAS1</text>
<text x="299.50" y="763.70" font-size="15.7" text-anchor="middle">OLA1</text>
<!-- panel i -->
<text x="404.10" y="580.30" font-size="26">i</text>
<text x="599.30" y="582.60" font-size="16.8" text-anchor="middle">OLA1</text>
<line x1="513.50" y1="587.50" x2="678.40" y2="587.50" stroke="#000" stroke-width="1.3" />
<path d="M476.6 601.2 H487.3 V601.2 H488.5 V604.9 H491.0 V608.7 H494.3 V612.4 H497.3 V613.6 H498.0 V619.9 H499.8 V626.1 H502.2 V631.1 H506.0 V636.1 H509.7 V641.1 H513.5 V642.8 H518.5 V644.8 H520.9 V648.6 H523.4 V650.3 H529.7 V651.0 H532.2 V652.8 H538.4 V654.0 H540.9 V657.3 H541.6 V662.3 H549.6 V662.3 H552.6 V664.8 H555.9 V667.3 H559.6 V669.8 H567.6 V669.8" fill="none" stroke="#3BAE4A" stroke-width="1.6" />
<path d="M476.6 601.2 H478.6 V607.4 H481.0 V613.6 H483.5 V617.4 H486.0 V623.6 H488.5 V629.9 H490.5 V636.1 H492.8 V642.3 H494.3 V652.3 H496.8 V656.0 H496.8 V677.2 H498.0 V684.7 H501.0 V687.2 H502.2 V690.9 H508.0 V690.9 H508.0 V695.9 H525.9 V695.9 H525.9 V700.2 H552.1 V700.2 H552.1 V703.4" fill="none" stroke="#3E5CB8" stroke-width="1.6" />
<line x1="471.70" y1="596.00" x2="471.70" y2="710.30" stroke="#000" stroke-width="1.3" />
<line x1="471.10" y1="709.70" x2="584.50" y2="709.70" stroke="#000" stroke-width="1.3" />
<line x1="463.70" y1="704.20" x2="471.70" y2="704.20" stroke="#000" stroke-width="1.1" />
<text x="461.50" y="709.00" font-size="13.5" text-anchor="end" fill="#2A1D1D">0.0</text>
<line x1="463.70" y1="683.60" x2="471.70" y2="683.60" stroke="#000" stroke-width="1.1" />
<text x="461.50" y="688.40" font-size="13.5" text-anchor="end" fill="#2A1D1D">0.2</text>
<line x1="463.70" y1="663.00" x2="471.70" y2="663.00" stroke="#000" stroke-width="1.1" />
<text x="461.50" y="667.80" font-size="13.5" text-anchor="end" fill="#2A1D1D">0.4</text>
<line x1="463.70" y1="642.40" x2="471.70" y2="642.40" stroke="#000" stroke-width="1.1" />
<text x="461.50" y="647.20" font-size="13.5" text-anchor="end" fill="#2A1D1D">0.6</text>
<line x1="463.70" y1="621.80" x2="471.70" y2="621.80" stroke="#000" stroke-width="1.1" />
<text x="461.50" y="626.60" font-size="13.5" text-anchor="end" fill="#2A1D1D">0.8</text>
<line x1="463.70" y1="601.20" x2="471.70" y2="601.20" stroke="#000" stroke-width="1.1" />
<text x="461.50" y="606.00" font-size="13.5" text-anchor="end" fill="#2A1D1D">1.0</text>
<line x1="476.70" y1="709.70" x2="476.70" y2="715.70" stroke="#000" stroke-width="1.1" />
<text x="476.70" y="733.00" font-size="13.5" text-anchor="middle" fill="#2A1D1D">0</text>
<line x1="511.00" y1="709.70" x2="511.00" y2="715.70" stroke="#000" stroke-width="1.1" />
<text x="511.00" y="733.00" font-size="13.5" text-anchor="middle" fill="#2A1D1D">40</text>
<line x1="544.70" y1="709.70" x2="544.70" y2="715.70" stroke="#000" stroke-width="1.1" />
<text x="544.70" y="733.00" font-size="13.5" text-anchor="middle" fill="#2A1D1D">80</text>
<line x1="579.00" y1="709.70" x2="579.00" y2="715.70" stroke="#000" stroke-width="1.1" />
<text x="579.00" y="733.00" font-size="13.5" text-anchor="middle" fill="#2A1D1D">120</text>
<text x="436.00" y="655.50" font-size="15" transform="rotate(-90 436.00 655.50)" text-anchor="middle" fill="#2A1D1D" textLength="91" lengthAdjust="spacingAndGlyphs">Cum Survival</text>
<text x="530.50" y="753.70" font-size="14.5" text-anchor="middle" fill="#2A1D1D">DFS (Months)</text>
<path d="M515 602.8000000000001 H521 V600.0 H529.5 V603.0" fill="none" stroke="#3E5CB8" stroke-width="2.0" />
<text x="535.00" y="605.40" font-size="14">High</text>
<path d="M515 617.8000000000001 H521 V615.0 H529.5 V618.0" fill="none" stroke="#3BAE4A" stroke-width="2.0" />
<text x="535.00" y="620.40" font-size="14">Low</text>
<text font-size="14.5" transform="translate(517.00 685.50) scale(0.97 1)"><tspan font-style="italic">P</tspan> &lt; 0.0001</text>
<path d="M672.8 601.2 H682.3 V601.2 H684.8 V606.2 H689.8 V609.9 H693.5 V613.6 H694.8 V622.4 H697.3 V628.6 H701.0 V632.3 H703.5 V637.3 H707.2 V642.3 H716.0 V643.6 H717.2 V648.6 H723.4 V649.3 H727.2 V651.8 H735.9 V652.3 H737.7 V658.5 H743.4 V660.3 H755.9 V661.0 H757.6 V663.5 H763.8 V663.5" fill="none" stroke="#3BAE4A" stroke-width="1.6" />
<path d="M672.8 601.2 H674.8 V606.2 H677.8 V609.9 H680.3 V614.9 H683.5 V617.4 H685.3 V629.9 H687.3 V634.8 H689.3 V642.3 H692.3 V644.8 H692.8 V672.2 H694.3 V682.2 H698.5 V684.7 H703.5 V686.0 H704.7 V694.7 H755.9 V694.7" fill="none" stroke="#3E5CB8" stroke-width="1.6" />
<line x1="667.30" y1="596.00" x2="667.30" y2="710.30" stroke="#000" stroke-width="1.3" />
<line x1="666.70" y1="709.70" x2="781.00" y2="709.70" stroke="#000" stroke-width="1.3" />
<line x1="659.50" y1="704.20" x2="667.30" y2="704.20" stroke="#000" stroke-width="1.1" />
<text x="657.30" y="709.00" font-size="13.5" text-anchor="end" fill="#2A1D1D">0.0</text>
<line x1="659.50" y1="683.60" x2="667.30" y2="683.60" stroke="#000" stroke-width="1.1" />
<text x="657.30" y="688.40" font-size="13.5" text-anchor="end" fill="#2A1D1D">0.2</text>
<line x1="659.50" y1="663.00" x2="667.30" y2="663.00" stroke="#000" stroke-width="1.1" />
<text x="657.30" y="667.80" font-size="13.5" text-anchor="end" fill="#2A1D1D">0.4</text>
<line x1="659.50" y1="642.40" x2="667.30" y2="642.40" stroke="#000" stroke-width="1.1" />
<text x="657.30" y="647.20" font-size="13.5" text-anchor="end" fill="#2A1D1D">0.6</text>
<line x1="659.50" y1="621.80" x2="667.30" y2="621.80" stroke="#000" stroke-width="1.1" />
<text x="657.30" y="626.60" font-size="13.5" text-anchor="end" fill="#2A1D1D">0.8</text>
<line x1="659.50" y1="601.20" x2="667.30" y2="601.20" stroke="#000" stroke-width="1.1" />
<text x="657.30" y="606.00" font-size="13.5" text-anchor="end" fill="#2A1D1D">1.0</text>
<line x1="673.00" y1="709.70" x2="673.00" y2="715.70" stroke="#000" stroke-width="1.1" />
<text x="673.00" y="731.00" font-size="13.5" text-anchor="middle" fill="#2A1D1D">0</text>
<line x1="707.30" y1="709.70" x2="707.30" y2="715.70" stroke="#000" stroke-width="1.1" />
<text x="707.30" y="731.00" font-size="13.5" text-anchor="middle" fill="#2A1D1D">40</text>
<line x1="741.50" y1="709.70" x2="741.50" y2="715.70" stroke="#000" stroke-width="1.1" />
<text x="741.50" y="731.00" font-size="13.5" text-anchor="middle" fill="#2A1D1D">80</text>
<line x1="775.50" y1="709.70" x2="775.50" y2="715.70" stroke="#000" stroke-width="1.1" />
<text x="775.50" y="731.00" font-size="13.5" text-anchor="middle" fill="#2A1D1D">120</text>
<text x="622.50" y="654.50" font-size="16.5" transform="rotate(-90 622.50 654.50)" text-anchor="middle" fill="#2A1D1D" textLength="101" lengthAdjust="spacingAndGlyphs">Cum Survival</text>
<text x="724.50" y="753.70" font-size="14.5" text-anchor="middle" fill="#2A1D1D">OS (Months)</text>
<path d="M704.5 608.6 H710.5 V605.8 H719.0 V608.8" fill="none" stroke="#3E5CB8" stroke-width="2.0" />
<text x="725.00" y="611.20" font-size="14">High</text>
<path d="M704.5 623.6 H710.5 V620.8 H719.0 V623.8" fill="none" stroke="#3BAE4A" stroke-width="2.0" />
<text x="725.00" y="626.20" font-size="14">Low</text>
<text font-size="14.5" transform="translate(705.00 685.50) scale(0.97 1)"><tspan font-style="italic">P</tspan> &lt; 0.0001</text>
<!-- panel j -->
<text x="12.20" y="762.80" font-size="26">j</text>
<rect x="87.80" y="872.30" width="8.30" height="42.50" fill="#BDBDBD" />
<line x1="111.85" y1="812.00" x2="111.85" y2="805.50" stroke="#000" stroke-width="1.3" />
<line x1="109.65" y1="805.50" x2="114.05" y2="805.50" stroke="#000" stroke-width="1.3" />
<rect x="107.70" y="811.00" width="8.30" height="103.80" fill="#1E9646" />
<rect x="135.20" y="872.30" width="8.30" height="42.50" fill="#BDBDBD" />
<line x1="157.05" y1="880.70" x2="157.05" y2="878.30" stroke="#000" stroke-width="1.3" />
<line x1="154.85" y1="878.30" x2="159.25" y2="878.30" stroke="#000" stroke-width="1.3" />
<rect x="152.90" y="879.70" width="8.30" height="35.10" fill="#F5A50A" />
<line x1="173.15" y1="893.20" x2="173.15" y2="891.20" stroke="#000" stroke-width="1.3" />
<line x1="170.95" y1="891.20" x2="175.35" y2="891.20" stroke="#000" stroke-width="1.3" />
<rect x="169.00" y="892.20" width="8.30" height="22.60" fill="#F5A50A" />
<line x1="78.60" y1="805.30" x2="78.60" y2="915.40" stroke="#000" stroke-width="1.3" />
<line x1="72.30" y1="914.80" x2="184.00" y2="914.80" stroke="#000" stroke-width="1.3" />
<line x1="72.30" y1="914.80" x2="78.60" y2="914.80" stroke="#000" stroke-width="1.1" />
<text x="71.00" y="919.60" font-size="14" text-anchor="end">0.0</text>
<line x1="72.30" y1="893.25" x2="78.60" y2="893.25" stroke="#000" stroke-width="1.1" />
<text x="71.00" y="898.05" font-size="14" text-anchor="end">0.5</text>
<line x1="72.30" y1="871.70" x2="78.60" y2="871.70" stroke="#000" stroke-width="1.1" />
<text x="71.00" y="876.50" font-size="14" text-anchor="end">1.0</text>
<line x1="72.30" y1="850.15" x2="78.60" y2="850.15" stroke="#000" stroke-width="1.1" />
<text x="71.00" y="854.95" font-size="14" text-anchor="end">1.5</text>
<line x1="72.30" y1="828.60" x2="78.60" y2="828.60" stroke="#000" stroke-width="1.1" />
<text x="71.00" y="833.40" font-size="14" text-anchor="end">2.0</text>
<line x1="72.30" y1="807.05" x2="78.60" y2="807.05" stroke="#000" stroke-width="1.1" />
<text x="71.00" y="811.85" font-size="14" text-anchor="end">2.5</text>
<text x="37.00" y="870.00" font-size="14" transform="rotate(-90 37.00 870.00)" text-anchor="middle" textLength="178" lengthAdjust="spacingAndGlyphs">Relative expression of OLA1</text>
<line x1="125.40" y1="806.00" x2="125.40" y2="957.00" stroke="#111" stroke-width="1.25" stroke-dasharray="1.1 1.15"/>
<line x1="92.30" y1="800.00" x2="112.20" y2="800.00" stroke="#000" stroke-width="1.2" />
<text x="101.70" y="803.44" font-size="18" text-anchor="middle">**</text>
<line x1="141.60" y1="851.00" x2="174.60" y2="851.00" stroke="#000" stroke-width="1.2" />
<text x="158.40" y="854.34" font-size="18" text-anchor="middle">**</text>
<line x1="141.60" y1="865.00" x2="157.10" y2="865.00" stroke="#000" stroke-width="1.2" />
<text x="149.60" y="869.14" font-size="18" text-anchor="middle">**</text>
<text font-size="12" transform="translate(97.70 918.70) rotate(-90) scale(1.21 1)" text-anchor="end">pcDH</text>
<text font-size="12" transform="translate(116.10 918.70) rotate(-90) scale(1.21 1)" text-anchor="end">IMP2</text>
<text font-size="12" transform="translate(143.40 918.70) rotate(-90) scale(1.21 1)" text-anchor="end">shNC</text>
<text font-size="12" transform="translate(161.60 918.70) rotate(-90) scale(1.21 1)" text-anchor="end">shP2#1</text>
<text font-size="12" transform="translate(177.90 918.70) rotate(-90) scale(1.21 1)" text-anchor="end">shP2#2</text>
<rect x="274.80" y="822.90" width="8.30" height="92.10" fill="#BDBDBD" />
<line x1="298.15" y1="801.00" x2="298.15" y2="797.50" stroke="#000" stroke-width="1.3" />
<line x1="295.95" y1="797.50" x2="300.35" y2="797.50" stroke="#000" stroke-width="1.3" />
<rect x="294.00" y="800.00" width="8.30" height="115.00" fill="#1E9646" />
<rect x="324.00" y="822.90" width="8.30" height="92.10" fill="#C4CAD4" />
<line x1="345.15" y1="847.80" x2="345.15" y2="839.30" stroke="#000" stroke-width="1.3" />
<line x1="342.95" y1="839.30" x2="347.35" y2="839.30" stroke="#000" stroke-width="1.3" />
<rect x="341.00" y="846.80" width="8.30" height="68.20" fill="#F5A50A" />
<line x1="361.75" y1="857.00" x2="361.75" y2="850.30" stroke="#000" stroke-width="1.3" />
<line x1="359.55" y1="850.30" x2="363.95" y2="850.30" stroke="#000" stroke-width="1.3" />
<rect x="357.60" y="856.00" width="8.30" height="59.00" fill="#F5A50A" />
<line x1="265.30" y1="796.80" x2="265.30" y2="915.60" stroke="#000" stroke-width="1.3" />
<line x1="259.30" y1="915.00" x2="371.00" y2="915.00" stroke="#000" stroke-width="1.3" />
<line x1="259.30" y1="915.00" x2="265.30" y2="915.00" stroke="#000" stroke-width="1.1" />
<text x="258.00" y="919.80" font-size="14" text-anchor="end">0.0</text>
<line x1="259.30" y1="877.10" x2="265.30" y2="877.10" stroke="#000" stroke-width="1.1" />
<text x="258.00" y="881.90" font-size="14" text-anchor="end">0.4</text>
<line x1="259.30" y1="839.10" x2="265.30" y2="839.10" stroke="#000" stroke-width="1.1" />
<text x="258.00" y="843.90" font-size="14" text-anchor="end">0.8</text>
<line x1="259.30" y1="800.90" x2="265.30" y2="800.90" stroke="#000" stroke-width="1.1" />
<text x="258.00" y="805.70" font-size="14" text-anchor="end">1.2</text>
<text x="226.00" y="870.00" font-size="14" transform="rotate(-90 226.00 870.00)" text-anchor="middle" textLength="178" lengthAdjust="spacingAndGlyphs">Relative expression of OLA1</text>
<line x1="313.50" y1="797.00" x2="313.50" y2="953.00" stroke="#111" stroke-width="1.25" stroke-dasharray="1.1 1.15"/>
<line x1="278.60" y1="793.00" x2="299.30" y2="793.00" stroke="#000" stroke-width="1.2" />
<text x="289.00" y="796.64" font-size="18" text-anchor="middle">**</text>
<line x1="329.00" y1="803.70" x2="362.00" y2="803.70" stroke="#000" stroke-width="1.2" />
<text x="347.00" y="807.44" font-size="18" text-anchor="middle">**</text>
<line x1="329.70" y1="818.00" x2="345.00" y2="818.00" stroke="#000" stroke-width="1.2" />
<text x="338.40" y="822.14" font-size="18" text-anchor="middle">*</text>
<text font-size="12" transform="translate(284.90 918.70) rotate(-90) scale(1.21 1)" text-anchor="end">pcDH</text>
<text font-size="12" transform="translate(302.40 918.70) rotate(-90) scale(1.21 1)" text-anchor="end">IMP2</text>
<text font-size="12" transform="translate(332.40 918.70) rotate(-90) scale(1.21 1)" text-anchor="end">shNC</text>
<text font-size="12" transform="translate(349.00 918.70) rotate(-90) scale(1.21 1)" text-anchor="end">shP2#1</text>
<text font-size="12" transform="translate(366.00 918.70) rotate(-90) scale(1.21 1)" text-anchor="end">shP2#2</text>
<rect x="76.00" y="1038.50" width="8.20" height="50.50" fill="#BDBDBD" />
<line x1="96.90" y1="1007.90" x2="96.90" y2="1005.00" stroke="#000" stroke-width="1.3" />
<line x1="94.70" y1="1005.00" x2="99.10" y2="1005.00" stroke="#000" stroke-width="1.3" />
<rect x="92.80" y="1006.90" width="8.20" height="82.10" fill="#E6007E" />
<line x1="111.80" y1="1033.30" x2="111.80" y2="1030.50" stroke="#000" stroke-width="1.3" />
<line x1="109.60" y1="1030.50" x2="114.00" y2="1030.50" stroke="#000" stroke-width="1.3" />
<rect x="107.70" y="1032.30" width="8.20" height="56.70" fill="#A4AADB" />
<rect x="136.00" y="1038.50" width="8.20" height="50.50" fill="#BDBDBD" />
<line x1="153.70" y1="1071.50" x2="153.70" y2="1067.70" stroke="#000" stroke-width="1.3" />
<line x1="151.50" y1="1067.70" x2="155.90" y2="1067.70" stroke="#000" stroke-width="1.3" />
<rect x="149.60" y="1070.50" width="8.20" height="18.50" fill="#E6007E" />
<line x1="167.40" y1="1043.80" x2="167.40" y2="1041.50" stroke="#000" stroke-width="1.3" />
<line x1="165.20" y1="1041.50" x2="169.60" y2="1041.50" stroke="#000" stroke-width="1.3" />
<rect x="163.30" y="1042.80" width="8.20" height="46.20" fill="#A4AADB" />
<line x1="181.10" y1="1050.00" x2="181.10" y2="1048.00" stroke="#000" stroke-width="1.3" />
<line x1="178.90" y1="1048.00" x2="183.30" y2="1048.00" stroke="#000" stroke-width="1.3" />
<rect x="177.00" y="1049.00" width="8.20" height="40.00" fill="#A4AADB" />
<line x1="67.30" y1="1003.50" x2="67.30" y2="1089.60" stroke="#000" stroke-width="1.3" />
<line x1="61.00" y1="1089.00" x2="190.00" y2="1089.00" stroke="#000" stroke-width="1.3" />
<line x1="61.00" y1="1089.00" x2="67.30" y2="1089.00" stroke="#000" stroke-width="1.1" />
<text x="60.00" y="1093.80" font-size="14" text-anchor="end">0.0</text>
<line x1="61.00" y1="1068.90" x2="67.30" y2="1068.90" stroke="#000" stroke-width="1.1" />
<text x="60.00" y="1073.70" font-size="14" text-anchor="end">0.4</text>
<line x1="61.00" y1="1048.80" x2="67.30" y2="1048.80" stroke="#000" stroke-width="1.1" />
<text x="60.00" y="1053.60" font-size="14" text-anchor="end">0.8</text>
<line x1="61.00" y1="1028.70" x2="67.30" y2="1028.70" stroke="#000" stroke-width="1.1" />
<text x="60.00" y="1033.50" font-size="14" text-anchor="end">1.2</text>
<line x1="61.00" y1="1008.60" x2="67.30" y2="1008.60" stroke="#000" stroke-width="1.1" />
<text x="60.00" y="1013.40" font-size="14" text-anchor="end">1.6</text>
<text x="31.20" y="1078.00" font-size="14" transform="rotate(-90 31.20 1078.00)" text-anchor="middle" textLength="181" lengthAdjust="spacingAndGlyphs">Relative expression of OLA1</text>
<line x1="126.00" y1="996.00" x2="126.00" y2="1166.50" stroke="#111" stroke-width="1.25" stroke-dasharray="1.1 1.15"/>
<text x="96.00" y="980.00" font-size="14.3" text-anchor="middle">NS</text>
<line x1="78.60" y1="986.20" x2="113.00" y2="986.20" stroke="#000" stroke-width="1.2" />
<text x="87.30" y="1003.44" font-size="18" text-anchor="middle">*</text>
<line x1="79.30" y1="1000.40" x2="96.00" y2="1000.40" stroke="#000" stroke-width="1.2" />
<text x="163.30" y="994.00" font-size="14.3" text-anchor="middle">NS</text>
<line x1="138.40" y1="998.60" x2="183.30" y2="998.60" stroke="#000" stroke-width="1.2" />
<text x="155.90" y="1012.40" font-size="14.3" text-anchor="middle">NS</text>
<line x1="139.00" y1="1016.80" x2="169.60" y2="1016.80" stroke="#000" stroke-width="1.2" />
<text x="147.60" y="1037.14" font-size="18" text-anchor="middle">**</text>
<line x1="139.00" y1="1033.50" x2="155.90" y2="1033.50" stroke="#000" stroke-width="1.2" />
<text font-size="12.3" transform="translate(84.40 1093.40) rotate(-90) scale(1.06 1)" text-anchor="end">pcDH+shNC</text>
<text font-size="12.3" transform="translate(100.60 1093.40) rotate(-90) scale(1.06 1)" text-anchor="end">IMP2+shNC</text>
<text font-size="12.3" transform="translate(116.30 1093.40) rotate(-90) scale(1.06 1)" text-anchor="end">IMP2+shZS1</text>
<text font-size="12.3" transform="translate(144.20 1093.40) rotate(-90) scale(1.06 1)" text-anchor="end">shNC+pcDH</text>
<text font-size="12.3" transform="translate(158.50 1093.40) rotate(-90) scale(1.06 1)" text-anchor="end">shP2+pcDH</text>
<text font-size="12.3" transform="translate(171.60 1093.40) rotate(-90) scale(1.06 1)" text-anchor="end">shP2#1+ZS1</text>
<text font-size="12.3" transform="translate(185.40 1093.40) rotate(-90) scale(1.06 1)" text-anchor="end">shP2#2+ZS1</text>
<text x="129.20" y="1190.50" font-size="16.6" text-anchor="middle">HCT116</text>
<rect x="263.00" y="1064.70" width="8.30" height="26.30" fill="#BDBDBD" />
<line x1="282.15" y1="1016.40" x2="282.15" y2="1010.40" stroke="#000" stroke-width="1.3" />
<line x1="279.95" y1="1010.40" x2="284.35" y2="1010.40" stroke="#000" stroke-width="1.3" />
<rect x="278.00" y="1015.40" width="8.30" height="75.60" fill="#E6007E" />
<line x1="297.15" y1="1067.00" x2="297.15" y2="1062.00" stroke="#000" stroke-width="1.3" />
<line x1="294.95" y1="1062.00" x2="299.35" y2="1062.00" stroke="#000" stroke-width="1.3" />
<rect x="293.00" y="1066.00" width="8.30" height="25.00" fill="#A4AADB" />
<rect x="322.20" y="1064.70" width="8.30" height="26.30" fill="#BDBDBD" />
<line x1="340.55" y1="1080.00" x2="340.55" y2="1077.70" stroke="#000" stroke-width="1.3" />
<line x1="338.35" y1="1077.70" x2="342.75" y2="1077.70" stroke="#000" stroke-width="1.3" />
<rect x="336.40" y="1079.00" width="8.30" height="12.00" fill="#E6007E" />
<line x1="354.15" y1="1062.70" x2="354.15" y2="1057.20" stroke="#000" stroke-width="1.3" />
<line x1="351.95" y1="1057.20" x2="356.35" y2="1057.20" stroke="#000" stroke-width="1.3" />
<rect x="350.00" y="1061.70" width="8.30" height="29.30" fill="#A4AADB" />
<line x1="367.95" y1="1058.20" x2="367.95" y2="1054.70" stroke="#000" stroke-width="1.3" />
<line x1="365.75" y1="1054.70" x2="370.15" y2="1054.70" stroke="#000" stroke-width="1.3" />
<rect x="363.80" y="1057.20" width="8.30" height="33.80" fill="#A4AADB" />
<line x1="254.40" y1="1007.80" x2="254.40" y2="1091.60" stroke="#000" stroke-width="1.3" />
<line x1="247.40" y1="1091.00" x2="376.60" y2="1091.00" stroke="#000" stroke-width="1.3" />
<line x1="247.40" y1="1091.00" x2="254.40" y2="1091.00" stroke="#000" stroke-width="1.1" />
<text x="246.00" y="1096.00" font-size="14.5" text-anchor="end">0</text>
<line x1="247.40" y1="1064.55" x2="254.40" y2="1064.55" stroke="#000" stroke-width="1.1" />
<text x="246.00" y="1069.55" font-size="14.5" text-anchor="end">1</text>
<line x1="247.40" y1="1038.10" x2="254.40" y2="1038.10" stroke="#000" stroke-width="1.1" />
<text x="246.00" y="1043.10" font-size="14.5" text-anchor="end">2</text>
<line x1="247.40" y1="1011.65" x2="254.40" y2="1011.65" stroke="#000" stroke-width="1.1" />
<text x="246.00" y="1016.65" font-size="14.5" text-anchor="end">3</text>
<text x="225.00" y="1078.00" font-size="14" transform="rotate(-90 225.00 1078.00)" text-anchor="middle" textLength="181" lengthAdjust="spacingAndGlyphs">Relative expression of OLA1</text>
<line x1="312.70" y1="997.40" x2="312.70" y2="1166.50" stroke="#111" stroke-width="1.25" stroke-dasharray="1.1 1.15"/>
<text x="284.30" y="988.70" font-size="14.3" text-anchor="middle">NS</text>
<line x1="266.80" y1="993.00" x2="301.00" y2="993.00" stroke="#000" stroke-width="1.2" />
<text x="274.00" y="1009.64" font-size="18" text-anchor="middle">*</text>
<line x1="268.60" y1="1006.00" x2="284.00" y2="1006.00" stroke="#000" stroke-width="1.2" />
<text x="349.60" y="1019.30" font-size="14.3" text-anchor="middle">NS</text>
<line x1="325.40" y1="1023.60" x2="369.60" y2="1023.60" stroke="#000" stroke-width="1.2" />
<text x="342.00" y="1038.50" font-size="14.3" text-anchor="middle">NS</text>
<line x1="326.40" y1="1042.80" x2="356.40" y2="1042.80" stroke="#000" stroke-width="1.2" />
<text x="334.00" y="1061.84" font-size="18" text-anchor="middle">**</text>
<line x1="327.00" y1="1058.50" x2="342.00" y2="1058.50" stroke="#000" stroke-width="1.2" />
<text font-size="12.3" transform="translate(271.40 1095.00) rotate(-90) scale(1.06 1)" text-anchor="end">pcDH+shNC</text>
<text font-size="12.3" transform="translate(286.90 1095.00) rotate(-90) scale(1.06 1)" text-anchor="end">IMP2+shNC</text>
<text font-size="12.3" transform="translate(301.80 1095.00) rotate(-90) scale(1.06 1)" text-anchor="end">IMP2+shZS1</text>
<text font-size="12.3" transform="translate(330.60 1095.00) rotate(-90) scale(1.06 1)" text-anchor="end">shNC+pcDH</text>
<text font-size="12.3" transform="translate(344.20 1095.00) rotate(-90) scale(1.06 1)" text-anchor="end">shP2+pcDH</text>
<text font-size="12.3" transform="translate(358.50 1095.00) rotate(-90) scale(1.06 1)" text-anchor="end">shP2#1+ZS1</text>
<text font-size="12.3" transform="translate(371.60 1095.00) rotate(-90) scale(1.06 1)" text-anchor="end">shP2#2+ZS1</text>
<text x="314.30" y="1194.00" font-size="17.2" text-anchor="middle">SW620</text>
<!-- panel k -->
<defs><filter id="kb1" x="-30%" y="-80%" width="160%" height="260%"><feGaussianBlur stdDeviation="1.3 0.75"/></filter><filter id="kb2" x="-30%" y="-80%" width="160%" height="260%"><feGaussianBlur stdDeviation="1.6 1.0"/></filter></defs>
<text x="363.30" y="772.80" font-size="26">k</text>
<text x="389.50" y="788.70" font-size="16.5">kDa</text>
<text x="579.50" y="783.00" font-size="16.5" text-anchor="middle">HCT116</text>
<line x1="493.50" y1="787.20" x2="650.00" y2="787.20" stroke="#000" stroke-width="1.3" />
<text x="578.00" y="862.70" font-size="17" text-anchor="middle">SW620</text>
<line x1="496.70" y1="867.40" x2="652.60" y2="867.40" stroke="#000" stroke-width="1.3" />
<text x="421.50" y="806.90" font-size="16.5" text-anchor="end" word-spacing="-2.2">45 -</text>
<text x="421.50" y="843.00" font-size="16.5" text-anchor="end" word-spacing="-2.2">37 -</text>
<text x="421.50" y="889.70" font-size="16.5" text-anchor="end" word-spacing="-2.2">45 -</text>
<text x="421.50" y="925.10" font-size="16.5" text-anchor="end" word-spacing="-2.2">37 -</text>
<rect x="424.40" y="793.70" width="143.20" height="17.00" fill="#F1F1F1" stroke="#222" stroke-width="1.1" />
<rect x="424.40" y="828.60" width="143.20" height="16.70" fill="#F1F1F1" stroke="#222" stroke-width="1.1" />
<rect x="424.40" y="874.70" width="143.20" height="17.00" fill="#F1F1F1" stroke="#222" stroke-width="1.1" />
<rect x="424.90" y="910.50" width="143.70" height="16.50" fill="#F1F1F1" stroke="#222" stroke-width="1.1" />
<rect x="580.40" y="793.60" width="183.90" height="16.40" fill="#F1F1F1" stroke="#222" stroke-width="1.1" />
<rect x="580.40" y="829.00" width="183.90" height="16.50" fill="#F1F1F1" stroke="#222" stroke-width="1.1" />
<rect x="580.40" y="876.00" width="183.90" height="16.50" fill="#F1F1F1" stroke="#222" stroke-width="1.1" />
<rect x="580.00" y="910.80" width="183.70" height="16.00" fill="#F1F1F1" stroke="#222" stroke-width="1.1" />
<rect x="427.50" y="799.00" width="23.00" height="2.60" fill="rgb(111,111,111)" rx="1.30" filter="url(#kb1)"/>
<rect x="457.00" y="798.50" width="23.00" height="3.60" fill="rgb(32,32,32)" rx="1.80" filter="url(#kb1)"/>
<rect x="485.50" y="798.50" width="23.00" height="3.60" fill="rgb(32,32,32)" rx="1.80" filter="url(#kb1)"/>
<rect x="514.50" y="799.20" width="23.00" height="2.20" fill="rgb(167,167,167)" rx="1.10" filter="url(#kb1)"/>
<rect x="543.00" y="799.10" width="23.00" height="2.40" fill="rgb(145,145,145)" rx="1.20" filter="url(#kb1)"/>
<rect x="426.50" y="835.15" width="25.00" height="4.30" fill="rgb(16,16,16)" rx="2.15" filter="url(#kb1)"/>
<rect x="456.00" y="835.15" width="25.00" height="4.30" fill="rgb(16,16,16)" rx="2.15" filter="url(#kb1)"/>
<rect x="484.50" y="835.15" width="25.00" height="4.30" fill="rgb(16,16,16)" rx="2.15" filter="url(#kb1)"/>
<rect x="513.50" y="835.15" width="25.00" height="4.30" fill="rgb(16,16,16)" rx="2.15" filter="url(#kb1)"/>
<rect x="542.00" y="835.15" width="25.00" height="4.30" fill="rgb(16,16,16)" rx="2.15" filter="url(#kb1)"/>
<rect x="427.25" y="881.40" width="23.50" height="2.60" fill="rgb(100,100,100)" rx="1.30" filter="url(#kb1)"/>
<rect x="456.75" y="880.70" width="23.50" height="4.00" fill="rgb(21,21,21)" rx="2.00" filter="url(#kb1)"/>
<rect x="485.25" y="880.70" width="23.50" height="4.00" fill="rgb(21,21,21)" rx="2.00" filter="url(#kb1)"/>
<rect x="514.25" y="881.20" width="23.50" height="3.00" fill="rgb(66,66,66)" rx="1.50" filter="url(#kb1)"/>
<rect x="542.75" y="881.20" width="23.50" height="3.00" fill="rgb(66,66,66)" rx="1.50" filter="url(#kb1)"/>
<rect x="428.00" y="916.80" width="22.00" height="4.40" fill="rgb(100,100,100)" rx="2.20" filter="url(#kb2)"/>
<rect x="457.50" y="916.80" width="22.00" height="4.40" fill="rgb(73,73,73)" rx="2.20" filter="url(#kb2)"/>
<rect x="486.00" y="916.80" width="22.00" height="4.40" fill="rgb(100,100,100)" rx="2.20" filter="url(#kb2)"/>
<rect x="515.00" y="916.80" width="22.00" height="4.40" fill="rgb(100,100,100)" rx="2.20" filter="url(#kb2)"/>
<rect x="543.50" y="916.80" width="22.00" height="4.40" fill="rgb(95,95,95)" rx="2.20" filter="url(#kb2)"/>
<rect x="582.25" y="800.88" width="22.50" height="1.84" fill="rgb(185,185,185)" rx="0.92" filter="url(#kb1)"/>
<rect x="608.75" y="800.14" width="22.50" height="3.31" fill="rgb(21,21,21)" rx="1.66" filter="url(#kb1)"/>
<rect x="634.75" y="800.24" width="22.50" height="3.13" fill="rgb(21,21,21)" rx="1.56" filter="url(#kb1)"/>
<rect x="660.45" y="800.24" width="22.50" height="3.13" fill="rgb(21,21,21)" rx="1.56" filter="url(#kb1)"/>
<rect x="686.75" y="800.33" width="22.50" height="2.94" fill="rgb(21,21,21)" rx="1.47" filter="url(#kb1)"/>
<rect x="712.35" y="800.24" width="22.50" height="3.13" fill="rgb(21,21,21)" rx="1.56" filter="url(#kb1)"/>
<rect x="738.75" y="800.14" width="22.50" height="3.31" fill="rgb(21,21,21)" rx="1.66" filter="url(#kb1)"/>
<rect x="582.25" y="835.40" width="22.50" height="3.80" fill="rgb(10,10,10)" rx="1.90" filter="url(#kb1)"/>
<rect x="608.75" y="835.40" width="22.50" height="3.80" fill="rgb(10,10,10)" rx="1.90" filter="url(#kb1)"/>
<rect x="634.75" y="835.40" width="22.50" height="3.80" fill="rgb(10,10,10)" rx="1.90" filter="url(#kb1)"/>
<rect x="660.45" y="835.40" width="22.50" height="3.80" fill="rgb(10,10,10)" rx="1.90" filter="url(#kb1)"/>
<rect x="686.75" y="835.40" width="22.50" height="3.80" fill="rgb(10,10,10)" rx="1.90" filter="url(#kb1)"/>
<rect x="712.35" y="835.40" width="22.50" height="3.80" fill="rgb(10,10,10)" rx="1.90" filter="url(#kb1)"/>
<rect x="738.75" y="835.40" width="22.50" height="3.80" fill="rgb(10,10,10)" rx="1.90" filter="url(#kb1)"/>
<rect x="581.75" y="882.82" width="23.50" height="2.76" fill="rgb(32,32,32)" rx="1.38" filter="url(#kb1)"/>
<rect x="608.25" y="882.45" width="23.50" height="3.50" fill="rgb(21,21,21)" rx="1.75" filter="url(#kb1)"/>
<rect x="634.25" y="882.45" width="23.50" height="3.50" fill="rgb(21,21,21)" rx="1.75" filter="url(#kb1)"/>
<rect x="659.95" y="882.54" width="23.50" height="3.31" fill="rgb(21,21,21)" rx="1.66" filter="url(#kb1)"/>
<rect x="686.25" y="882.08" width="23.50" height="4.23" fill="rgb(10,10,10)" rx="2.12" filter="url(#kb1)"/>
<rect x="711.85" y="882.08" width="23.50" height="4.23" fill="rgb(10,10,10)" rx="2.12" filter="url(#kb1)"/>
<rect x="738.25" y="881.90" width="23.50" height="4.60" fill="rgb(10,10,10)" rx="2.30" filter="url(#kb1)"/>
<rect x="582.50" y="917.71" width="22.00" height="2.58" fill="rgb(21,21,21)" rx="1.29" filter="url(#kb1)"/>
<rect x="609.00" y="917.71" width="22.00" height="2.58" fill="rgb(21,21,21)" rx="1.29" filter="url(#kb1)"/>
<rect x="635.00" y="917.80" width="22.00" height="2.39" fill="rgb(21,21,21)" rx="1.20" filter="url(#kb1)"/>
<rect x="660.70" y="917.80" width="22.00" height="2.39" fill="rgb(21,21,21)" rx="1.20" filter="url(#kb1)"/>
<rect x="687.00" y="916.98" width="22.00" height="4.05" fill="rgb(10,10,10)" rx="2.02" filter="url(#kb1)"/>
<rect x="712.60" y="916.98" width="22.00" height="4.05" fill="rgb(10,10,10)" rx="2.02" filter="url(#kb1)"/>
<rect x="739.00" y="916.98" width="22.00" height="4.05" fill="rgb(10,10,10)" rx="2.02" filter="url(#kb1)"/>
<text x="436.00" y="824.00" font-size="11.4" text-anchor="middle">1.00</text>
<text x="468.50" y="824.00" font-size="11.4" text-anchor="middle">1.63</text>
<text x="496.00" y="824.00" font-size="11.4" text-anchor="middle">1.00</text>
<text x="526.40" y="824.00" font-size="11.4" text-anchor="middle">0.35</text>
<text x="555.30" y="824.00" font-size="11.4" text-anchor="middle">0.41</text>
<text x="436.00" y="904.70" font-size="11.4" text-anchor="middle">1.00</text>
<text x="468.50" y="904.70" font-size="11.4" text-anchor="middle">1.67</text>
<text x="496.00" y="904.70" font-size="11.4" text-anchor="middle">1.00</text>
<text x="526.40" y="904.70" font-size="11.4" text-anchor="middle">0.69</text>
<text x="555.30" y="904.70" font-size="11.4" text-anchor="middle">0.59</text>
<text x="593.50" y="823.50" font-size="11.4" text-anchor="middle">0.16</text>
<text x="620.00" y="823.50" font-size="11.4" text-anchor="middle">1.00</text>
<text x="646.00" y="823.50" font-size="11.4" text-anchor="middle">0.83</text>
<text x="671.70" y="823.50" font-size="11.4" text-anchor="middle">1.01</text>
<text x="698.00" y="823.50" font-size="11.4" text-anchor="middle">1.00</text>
<text x="723.60" y="823.50" font-size="11.4" text-anchor="middle">1.13</text>
<text x="750.00" y="823.50" font-size="11.4" text-anchor="middle">1.57</text>
<text x="593.50" y="903.00" font-size="11.4" text-anchor="middle">0.64</text>
<text x="620.00" y="903.00" font-size="11.4" text-anchor="middle">1.00</text>
<text x="646.00" y="903.00" font-size="11.4" text-anchor="middle">1.07</text>
<text x="671.70" y="903.00" font-size="11.4" text-anchor="middle">1.08</text>
<text x="698.00" y="903.00" font-size="11.4" text-anchor="middle">1.00</text>
<text x="723.60" y="903.00" font-size="11.4" text-anchor="middle">0.97</text>
<text x="750.00" y="903.00" font-size="11.4" text-anchor="middle">1.53</text>
<text x="770.20" y="808.40" font-size="14.2">OLA1</text>
<text x="770.50" y="842.20" font-size="14.2">GAPDH</text>
<text x="770.20" y="890.50" font-size="14.2">OLA1</text>
<text x="771.00" y="922.00" font-size="14.2">GAPDH</text>
<text x="444.30" y="938.30" font-size="14.7" transform="rotate(-52 444.30 938.30)" text-anchor="end">pcDH</text>
<text x="472.30" y="938.80" font-size="14.7" transform="rotate(-52 472.30 938.80)" text-anchor="end">IMP2</text>
<text x="501.10" y="938.30" font-size="14.7" transform="rotate(-52 501.10 938.30)" text-anchor="end">shNC</text>
<text x="533.30" y="938.30" font-size="14.7" transform="rotate(-52 533.30 938.30)" text-anchor="end">shP2#1</text>
<text x="564.30" y="938.30" font-size="14.7" transform="rotate(-52 564.30 938.30)" text-anchor="end">shP2#2</text>
<text x="601.70" y="937.00" font-size="13" transform="rotate(-49 601.70 937.00)" text-anchor="end">shP2+pcDH</text>
<text x="628.60" y="937.00" font-size="13" transform="rotate(-49 628.60 937.00)" text-anchor="end">shNC+pcDH</text>
<text x="654.00" y="937.00" font-size="13" transform="rotate(-49 654.00 937.00)" text-anchor="end">shP2#1+ZS1</text>
<text x="679.00" y="937.00" font-size="13" transform="rotate(-49 679.00 937.00)" text-anchor="end">shP2#2+ZS1</text>
<text x="704.50" y="937.00" font-size="13" transform="rotate(-49 704.50 937.00)" text-anchor="end">pcDH+shNC</text>
<text x="731.40" y="937.00" font-size="13" transform="rotate(-49 731.40 937.00)" text-anchor="end">IMP2+shZS1</text>
<text x="753.60" y="937.00" font-size="13" transform="rotate(-49 753.60 937.00)" text-anchor="end">IMP2+shNC</text>
<!-- panel l -->
<defs><filter id="lb" x="-40%" y="-40%" width="180%" height="180%"><feGaussianBlur stdDeviation="0.65"/></filter><filter id="lh" x="-60%" y="-60%" width="220%" height="220%"><feGaussianBlur stdDeviation="2.6"/></filter>
<filter id="lspk" x="0" y="0" width="100%" height="100%" color-interpolation-filters="sRGB"><feTurbulence type="fractalNoise" baseFrequency="0.55" numOctaves="2" seed="4" result="n"/><feColorMatrix in="n" type="matrix" values="0 0 0 0 0.75 0 0 0 0 0.05 0 0 0 0 0.1 6 0 0 0 -3.1" result="c"/><feComposite in="c" in2="SourceAlpha" operator="in"/></filter>
</defs>
<text x="388.60" y="992.60" font-size="24">l</text>
<rect x="401.60" y="1003.40" width="66.20" height="66.20" fill="#020003" />
<rect x="469.30" y="1003.40" width="66.20" height="66.20" fill="#020003" />
<rect x="537.00" y="1003.40" width="66.20" height="66.20" fill="#020003" />
<rect x="604.60" y="1003.40" width="66.20" height="66.20" fill="#020003" />
<rect x="672.20" y="1003.40" width="66.20" height="66.20" fill="#020003" />
<rect x="739.80" y="1003.40" width="66.20" height="66.20" fill="#020003" />
<rect x="401.60" y="1071.80" width="66.20" height="66.30" fill="#020003" />
<rect x="469.30" y="1071.80" width="66.20" height="66.30" fill="#020003" />
<rect x="537.00" y="1071.80" width="66.20" height="66.30" fill="#020003" />
<rect x="604.60" y="1071.80" width="66.20" height="66.30" fill="#020003" />
<rect x="672.20" y="1071.80" width="66.20" height="66.30" fill="#020003" />
<rect x="739.80" y="1071.80" width="66.20" height="66.30" fill="#020003" />
<g>
<clipPath id="lc00"><rect x="401.6" y="1003.4" width="66.2" height="66.2"/></clipPath>
<clipPath id="lc01"><rect x="469.3" y="1003.4" width="66.2" height="66.2"/></clipPath>
<clipPath id="lc02"><rect x="537" y="1003.4" width="66.2" height="66.2"/></clipPath>
<clipPath id="lc03"><rect x="604.6" y="1003.4" width="66.2" height="66.2"/></clipPath>
<clipPath id="lc04"><rect x="672.2" y="1003.4" width="66.2" height="66.2"/></clipPath>
<clipPath id="lc05"><rect x="739.8" y="1003.4" width="66.2" height="66.2"/></clipPath>
<clipPath id="lc10"><rect x="401.6" y="1071.8" width="66.2" height="66.3"/></clipPath>
<clipPath id="lc11"><rect x="469.3" y="1071.8" width="66.2" height="66.3"/></clipPath>
<clipPath id="lc12"><rect x="537" y="1071.8" width="66.2" height="66.3"/></clipPath>
<clipPath id="lc13"><rect x="604.6" y="1071.8" width="66.2" height="66.3"/></clipPath>
<clipPath id="lc14"><rect x="672.2" y="1071.8" width="66.2" height="66.3"/></clipPath>
<clipPath id="lc15"><rect x="739.8" y="1071.8" width="66.2" height="66.3"/></clipPath>
<g clip-path="url(#lc00)">
<ellipse cx="423.50" cy="1020.00" rx="13.00" ry="8.00" fill="#B01022" filter="url(#lh)" opacity="0.29"/>
<ellipse cx="423.50" cy="1020.00" rx="11.70" ry="7.20" fill="#000" filter="url(#lspk)" opacity="0.55"/>
<ellipse cx="455.00" cy="1042.00" rx="10.00" ry="13.00" fill="#B01022" filter="url(#lh)" opacity="0.50"/>
<ellipse cx="455.00" cy="1042.00" rx="9.00" ry="11.70" fill="#000" filter="url(#lspk)" opacity="0.55"/>
<ellipse cx="423.50" cy="1020.00" rx="11.24" ry="6.74" fill="#3B2CF0" transform="rotate(12 423.50 1020.00)" filter="url(#lb)"/>
<ellipse cx="423.50" cy="1020.00" rx="6.18" ry="3.71" fill="#6A3BF5" transform="rotate(12 423.50 1020.00)" filter="url(#lb)" opacity="0.8"/>
<ellipse cx="453.60" cy="1038.50" rx="8.56" ry="9.10" fill="#3B2CF0" filter="url(#lb)"/>
<ellipse cx="453.60" cy="1038.50" rx="4.71" ry="5.00" fill="#6A3BF5" filter="url(#lb)" opacity="0.8"/>
</g>
<g clip-path="url(#lc01)">
<ellipse cx="497.00" cy="1016.00" rx="14.00" ry="13.00" fill="#B01022" filter="url(#lh)" opacity="0.61"/>
<ellipse cx="497.00" cy="1016.00" rx="12.60" ry="11.70" fill="#000" filter="url(#lspk)" opacity="0.55"/>
<ellipse cx="502.00" cy="1058.00" rx="16.00" ry="12.00" fill="#B01022" filter="url(#lh)" opacity="0.68"/>
<ellipse cx="502.00" cy="1058.00" rx="14.40" ry="10.80" fill="#000" filter="url(#lspk)" opacity="0.55"/>
<ellipse cx="497.90" cy="1016.60" rx="11.24" ry="10.67" fill="#6A2BE8" filter="url(#lb)"/>
<ellipse cx="497.90" cy="1016.60" rx="9.84" ry="9.35" fill="#D21FE0" filter="url(#lb)"/>
<ellipse cx="497.90" cy="1016.60" rx="5.35" ry="5.08" fill="#E648E2" filter="url(#lh)" opacity="0.85"/>
<ellipse cx="504.50" cy="1058.30" rx="11.80" ry="10.67" fill="#6A2BE8" filter="url(#lb)"/>
<ellipse cx="504.50" cy="1058.30" rx="10.34" ry="9.35" fill="#D21FE0" filter="url(#lb)"/>
<ellipse cx="504.50" cy="1058.30" rx="5.62" ry="5.08" fill="#E648E2" filter="url(#lh)" opacity="0.85"/>
</g>
<g clip-path="url(#lc02)">
<ellipse cx="556.40" cy="1019.00" rx="11.00" ry="9.00" fill="#B01022" filter="url(#lh)" opacity="0.25"/>
<ellipse cx="556.40" cy="1019.00" rx="9.90" ry="8.10" fill="#000" filter="url(#lspk)" opacity="0.55"/>
<ellipse cx="584.00" cy="1052.00" rx="11.00" ry="10.00" fill="#B01022" filter="url(#lh)" opacity="0.29"/>
<ellipse cx="584.00" cy="1052.00" rx="9.90" ry="9.00" fill="#000" filter="url(#lspk)" opacity="0.55"/>
<ellipse cx="556.40" cy="1018.70" rx="9.10" ry="8.03" fill="#3B2CF0" transform="rotate(-10 556.40 1018.70)" filter="url(#lb)"/>
<ellipse cx="556.40" cy="1018.70" rx="5.00" ry="4.41" fill="#6A3BF5" transform="rotate(-10 556.40 1018.70)" filter="url(#lb)" opacity="0.8"/>
<ellipse cx="584.40" cy="1051.70" rx="9.10" ry="8.56" fill="#3B2CF0" transform="rotate(20 584.40 1051.70)" filter="url(#lb)"/>
<ellipse cx="584.40" cy="1051.70" rx="5.00" ry="4.71" fill="#6A3BF5" transform="rotate(20 584.40 1051.70)" filter="url(#lb)" opacity="0.8"/>
</g>
<g clip-path="url(#lc03)">
<ellipse cx="629.00" cy="1039.00" rx="13.00" ry="10.00" fill="#B01022" filter="url(#lh)" opacity="0.50"/>
<ellipse cx="629.00" cy="1039.00" rx="11.70" ry="9.00" fill="#000" filter="url(#lspk)" opacity="0.55"/>
<ellipse cx="658.00" cy="1040.00" rx="10.00" ry="16.00" fill="#B01022" filter="url(#lh)" opacity="0.47"/>
<ellipse cx="658.00" cy="1040.00" rx="9.00" ry="14.40" fill="#000" filter="url(#lspk)" opacity="0.55"/>
<ellipse cx="630.30" cy="1036.50" rx="9.10" ry="6.42" fill="#3B2CF0" transform="rotate(10 630.30 1036.50)" filter="url(#lb)"/>
<ellipse cx="630.30" cy="1036.50" rx="7.09" ry="4.62" fill="#D21FE0" transform="rotate(10 630.30 1036.50)" filter="url(#lb)" opacity="0.9"/>
<ellipse cx="630.30" cy="1036.50" rx="3.64" ry="2.57" fill="#E648E2" transform="rotate(10 630.30 1036.50)" filter="url(#lb)" opacity="0.7"/>
<ellipse cx="660.30" cy="1043.30" rx="6.74" ry="9.63" fill="#3B2CF0" filter="url(#lb)"/>
<ellipse cx="660.30" cy="1043.30" rx="3.71" ry="5.30" fill="#6A3BF5" filter="url(#lb)" opacity="0.8"/>
</g>
<g clip-path="url(#lc04)">
<ellipse cx="696.00" cy="1033.00" rx="9.00" ry="8.00" fill="#B01022" filter="url(#lh)" opacity="0.36"/>
<ellipse cx="696.00" cy="1033.00" rx="8.10" ry="7.20" fill="#000" filter="url(#lspk)" opacity="0.55"/>
<ellipse cx="711.00" cy="1028.00" rx="12.00" ry="11.00" fill="#B01022" filter="url(#lh)" opacity="0.47"/>
<ellipse cx="711.00" cy="1028.00" rx="10.80" ry="9.90" fill="#000" filter="url(#lspk)" opacity="0.55"/>
<ellipse cx="695.40" cy="1031.50" rx="6.42" ry="5.89" fill="#3B2CF0" filter="url(#lb)"/>
<ellipse cx="695.40" cy="1031.50" rx="3.53" ry="3.24" fill="#6A3BF5" filter="url(#lb)" opacity="0.8"/>
<ellipse cx="711.70" cy="1026.70" rx="9.10" ry="8.56" fill="#3B2CF0" filter="url(#lb)"/>
<ellipse cx="711.70" cy="1026.70" rx="5.00" ry="4.71" fill="#6A3BF5" filter="url(#lb)" opacity="0.8"/>
</g>
<g clip-path="url(#lc05)">
<ellipse cx="775.00" cy="1041.00" rx="13.00" ry="12.00" fill="#B01022" filter="url(#lh)" opacity="0.58"/>
<ellipse cx="775.00" cy="1041.00" rx="11.70" ry="10.80" fill="#000" filter="url(#lspk)" opacity="0.55"/>
<ellipse cx="776.00" cy="1040.00" rx="10.67" ry="8.99" fill="#6A2BE8" filter="url(#lb)"/>
<ellipse cx="776.00" cy="1040.00" rx="9.35" ry="7.88" fill="#D21FE0" filter="url(#lb)"/>
<ellipse cx="776.00" cy="1040.00" rx="5.08" ry="4.28" fill="#E648E2" filter="url(#lh)" opacity="0.85"/>
</g>
<g clip-path="url(#lc10)">
<ellipse cx="432.00" cy="1109.00" rx="13.00" ry="15.00" fill="#B01022" filter="url(#lh)" opacity="0.54"/>
<ellipse cx="432.00" cy="1109.00" rx="11.70" ry="13.50" fill="#000" filter="url(#lspk)" opacity="0.55"/>
<ellipse cx="440.40" cy="1101.00" rx="8.03" ry="8.03" fill="#3B2CF0" filter="url(#lb)"/>
<ellipse cx="440.40" cy="1101.00" rx="4.41" ry="4.41" fill="#6A3BF5" filter="url(#lb)" opacity="0.8"/>
<ellipse cx="426.00" cy="1113.00" rx="6.74" ry="9.95" fill="#3B2CF0" transform="rotate(15 426.00 1113.00)" filter="url(#lb)"/>
<ellipse cx="426.00" cy="1113.00" rx="3.71" ry="5.47" fill="#6A3BF5" transform="rotate(15 426.00 1113.00)" filter="url(#lb)" opacity="0.8"/>
</g>
<g clip-path="url(#lc11)">
<ellipse cx="497.00" cy="1102.00" rx="12.00" ry="18.00" fill="#B01022" filter="url(#lh)" opacity="0.58"/>
<ellipse cx="497.00" cy="1102.00" rx="10.80" ry="16.20" fill="#000" filter="url(#lspk)" opacity="0.55"/>
<ellipse cx="494.00" cy="1088.60" rx="5.89" ry="5.89" fill="#3B2CF0" filter="url(#lb)"/>
<ellipse cx="494.00" cy="1088.60" rx="3.24" ry="3.24" fill="#6A3BF5" filter="url(#lb)" opacity="0.8"/>
<ellipse cx="503.00" cy="1100.50" rx="6.42" ry="6.42" fill="#3B2CF0" filter="url(#lb)"/>
<ellipse cx="503.00" cy="1100.50" rx="3.53" ry="3.53" fill="#6A3BF5" filter="url(#lb)" opacity="0.8"/>
<ellipse cx="491.30" cy="1116.30" rx="6.42" ry="6.42" fill="#3B2CF0" filter="url(#lb)"/>
<ellipse cx="491.30" cy="1116.30" rx="3.53" ry="3.53" fill="#6A3BF5" filter="url(#lb)" opacity="0.8"/>
</g>
<g clip-path="url(#lc12)">
<ellipse cx="575.50" cy="1107.00" rx="7.00" ry="12.00" fill="#B01022" filter="url(#lh)" opacity="0.43"/>
<ellipse cx="575.50" cy="1107.00" rx="6.30" ry="10.80" fill="#000" filter="url(#lspk)" opacity="0.55"/>
<ellipse cx="575.20" cy="1101.30" rx="5.35" ry="5.35" fill="#3B2CF0" filter="url(#lb)"/>
<ellipse cx="575.20" cy="1101.30" rx="2.94" ry="2.94" fill="#6A3BF5" filter="url(#lb)" opacity="0.8"/>
<ellipse cx="575.70" cy="1113.00" rx="5.89" ry="5.67" fill="#3B2CF0" filter="url(#lb)"/>
<ellipse cx="575.70" cy="1113.00" rx="3.24" ry="3.12" fill="#6A3BF5" filter="url(#lb)" opacity="0.8"/>
</g>
<g clip-path="url(#lc13)">
<ellipse cx="639.00" cy="1113.00" rx="9.00" ry="14.00" fill="#B01022" filter="url(#lh)" opacity="0.54"/>
<ellipse cx="639.00" cy="1113.00" rx="8.10" ry="12.60" fill="#000" filter="url(#lspk)" opacity="0.55"/>
<ellipse cx="636.50" cy="1107.20" rx="5.89" ry="5.89" fill="#3B2CF0" filter="url(#lb)"/>
<ellipse cx="636.50" cy="1107.20" rx="3.24" ry="3.24" fill="#6A3BF5" filter="url(#lb)" opacity="0.8"/>
<ellipse cx="644.30" cy="1125.00" rx="6.96" ry="5.89" fill="#3B2CF0" filter="url(#lb)"/>
<ellipse cx="644.30" cy="1125.00" rx="3.83" ry="3.24" fill="#6A3BF5" filter="url(#lb)" opacity="0.8"/>
</g>
<g clip-path="url(#lc14)">
<ellipse cx="692.00" cy="1089.00" rx="6.00" ry="9.00" fill="#B01022" filter="url(#lh)" opacity="0.22"/>
<ellipse cx="692.00" cy="1089.00" rx="5.40" ry="8.10" fill="#000" filter="url(#lspk)" opacity="0.55"/>
<ellipse cx="718.00" cy="1125.00" rx="10.00" ry="7.00" fill="#B01022" filter="url(#lh)" opacity="0.43"/>
<ellipse cx="718.00" cy="1125.00" rx="9.00" ry="6.30" fill="#000" filter="url(#lspk)" opacity="0.55"/>
<ellipse cx="691.70" cy="1088.00" rx="5.89" ry="9.63" fill="#3B2CF0" transform="rotate(10 691.70 1088.00)" filter="url(#lb)"/>
<ellipse cx="691.70" cy="1088.00" rx="3.24" ry="5.30" fill="#6A3BF5" transform="rotate(10 691.70 1088.00)" filter="url(#lb)" opacity="0.8"/>
<ellipse cx="717.30" cy="1125.50" rx="7.49" ry="5.89" fill="#3B2CF0" filter="url(#lb)"/>
<ellipse cx="717.30" cy="1125.50" rx="4.12" ry="3.24" fill="#6A3BF5" filter="url(#lb)" opacity="0.8"/>
</g>
<g clip-path="url(#lc15)">
<ellipse cx="770.00" cy="1106.00" rx="11.00" ry="12.00" fill="#B01022" filter="url(#lh)" opacity="0.54"/>
<ellipse cx="770.00" cy="1106.00" rx="9.90" ry="10.80" fill="#000" filter="url(#lspk)" opacity="0.55"/>
<ellipse cx="765.50" cy="1101.60" rx="5.89" ry="6.96" fill="#3B2CF0" filter="url(#lb)"/>
<ellipse cx="765.50" cy="1101.60" rx="3.24" ry="3.83" fill="#6A3BF5" filter="url(#lb)" opacity="0.8"/>
<ellipse cx="780.00" cy="1113.70" rx="6.96" ry="5.35" fill="#3B2CF0" filter="url(#lb)"/>
<ellipse cx="780.00" cy="1113.70" rx="3.83" ry="2.94" fill="#6A3BF5" filter="url(#lb)" opacity="0.8"/>
</g>
</g>
<rect x="451.20" y="1060.40" width="11.80" height="2.70" fill="#2DBE3A" />
<rect x="451.20" y="1129.60" width="11.80" height="2.70" fill="#2DBE3A" />
<rect x="519.00" y="1060.40" width="11.80" height="2.70" fill="#2DBE3A" />
<rect x="519.00" y="1129.60" width="11.80" height="2.70" fill="#2DBE3A" />
<rect x="587.40" y="1060.40" width="11.80" height="2.70" fill="#2DBE3A" />
<rect x="587.40" y="1129.60" width="11.80" height="2.70" fill="#2DBE3A" />
<rect x="654.00" y="1060.40" width="11.50" height="2.70" fill="#2DBE3A" />
<rect x="654.00" y="1129.60" width="11.50" height="2.70" fill="#2DBE3A" />
<rect x="722.30" y="1060.40" width="11.50" height="2.70" fill="#2DBE3A" />
<rect x="722.30" y="1129.60" width="11.50" height="2.70" fill="#2DBE3A" />
<rect x="790.80" y="1060.40" width="11.50" height="2.70" fill="#2DBE3A" />
<rect x="790.80" y="1129.60" width="11.50" height="2.70" fill="#2DBE3A" />
<text x="774.00" y="1056.70" font-size="12" fill="#fff" textLength="30" lengthAdjust="spacingAndGlyphs">10um</text>
<text x="774.00" y="1125.50" font-size="12" fill="#fff" textLength="30" lengthAdjust="spacingAndGlyphs">10um</text>
<text x="824.50" y="1036.50" font-size="14.3" transform="rotate(-90 824.50 1036.50)" text-anchor="middle">HCT116</text>
<text x="824.50" y="1109.50" font-size="14.3" transform="rotate(-90 824.50 1109.50)" text-anchor="middle">SW620</text>
<text x="439.00" y="1165.70" font-size="14.3" text-anchor="middle">pcDH</text>
<text x="435.40" y="1183.00" font-size="14.3" text-anchor="middle">+shNC</text>
<text x="510.30" y="1165.70" font-size="14.3" text-anchor="middle">IMP2</text>
<text x="505.00" y="1183.00" font-size="14.3" text-anchor="middle">+shNC</text>
<text x="580.50" y="1165.70" font-size="14.3" text-anchor="middle">IMP2</text>
<text x="572.70" y="1183.00" font-size="14.3" text-anchor="middle">+shZS1</text>
<text x="643.00" y="1165.70" font-size="14.3" text-anchor="middle">shNC</text>
<text x="639.30" y="1183.00" font-size="14.3" text-anchor="middle">+pcDH</text>
<text x="708.00" y="1165.70" font-size="14.3" text-anchor="middle">shP2</text>
<text x="702.80" y="1183.00" font-size="14.3" text-anchor="middle">+pcDH</text>
<text x="784.00" y="1165.70" font-size="14.3" text-anchor="middle">shP2</text>
<text x="782.40" y="1183.00" font-size="14.3" text-anchor="middle">+ZS1</text>
<!-- footer -->
<text x="-6.20" y="1213.60" font-size="13.6" fill="#2b2b2b" textLength="195.5" lengthAdjust="spacingAndGlyphs" style="font-family:DejaVu Sans,Liberation Sans,sans-serif">(See legend on previous page.)</text>
<line x1="0.00" y1="1222.50" x2="834.00" y2="1222.50" stroke="#333" stroke-width="1.0" />
</g>
</svg>
</body></html>
